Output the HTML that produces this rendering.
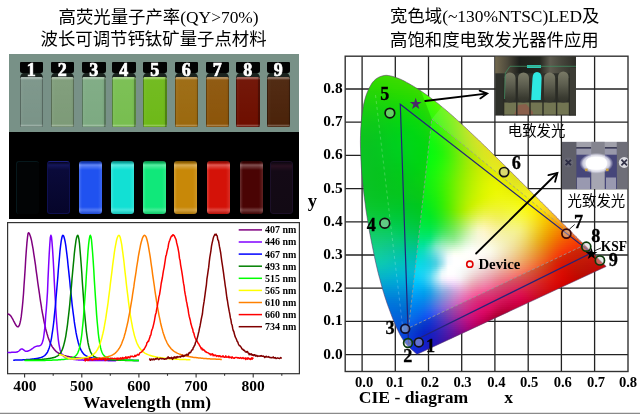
<!DOCTYPE html>
<html><head><meta charset="utf-8">
<style>
*{margin:0;padding:0;box-sizing:border-box}
html,body{width:640px;height:414px;overflow:hidden;background:#fff}
body{position:relative;font-family:"Liberation Serif","Noto Sans CJK SC",serif}
.t{position:absolute;white-space:nowrap;font-size:17.4px;line-height:20px;color:#000;font-family:"Liberation Serif","Noto Sans CJK SC",sans-serif}
#day{position:absolute;left:9px;top:54px;width:290px;height:77.6px;background:#789187}
#uv{position:absolute;left:9px;top:131.6px;width:290px;height:87.8px;background:#000}
.cap{position:absolute;top:8px;width:23.5px;height:11px;background:#030303;border-radius:1px 1px 2px 2px}
.neck{position:absolute;top:18px;width:23.5px;height:5.5px;background:#1a221e;border-radius:6px 6px 0 0}
.body{position:absolute;top:22.5px;width:23.5px;height:50px;border-radius:1.5px;background:linear-gradient(90deg,rgba(0,0,0,.3) 0,rgba(0,0,0,.3) 1.2px,rgba(255,255,255,.04) 1.2px,rgba(255,255,255,0) 4px,rgba(255,255,255,0) 20px,rgba(0,0,0,.05) 22px,rgba(0,0,0,.3) 22.3px),linear-gradient(180deg,rgba(255,255,255,.35) 0,rgba(255,255,255,.35) 1.3px,rgba(255,255,255,.04) 3px,rgba(255,255,255,0) 47px,rgba(255,255,255,.25) 48.5px,rgba(0,0,0,.15) 100%),var(--c)}
.num{position:absolute;top:6px;width:23.5px;text-align:center;color:#fff;font:bold 18px/20px "Liberation Serif",serif;-webkit-text-stroke:0.7px #fff}
.uvb{position:absolute;top:29.5px;width:23px;height:53px;border-radius:3px 3px 3px 3px;background:linear-gradient(180deg,rgba(0,0,0,.45) 0,rgba(0,0,0,.2) 2px,rgba(255,255,255,.3) 4px,rgba(255,255,255,0) 9px,rgba(255,255,255,0) 46px,rgba(255,255,255,.22) 49px,rgba(0,0,0,.15) 100%),linear-gradient(90deg,rgba(255,255,255,.18) 0,rgba(255,255,255,0) 3px,rgba(255,255,255,0) 19px,rgba(255,255,255,.12) 100%),var(--c)}
#spec{position:absolute;left:0;top:0}
#fill{position:absolute;left:358px;top:73px;width:251px;height:284px;clip-path:polygon(59.7px 281.0px,59.6px 281.0px,59.6px 281.0px,59.5px 281.0px,59.4px 281.0px,59.4px 281.0px,59.3px 281.0px,59.3px 281.1px,59.2px 281.1px,59.2px 281.1px,59.1px 281.1px,59.1px 281.1px,59.0px 281.0px,58.9px 281.0px,58.8px 281.0px,58.7px 280.9px,58.6px 280.8px,58.5px 280.8px,58.4px 280.7px,58.3px 280.7px,58.2px 280.6px,58.2px 280.5px,58.1px 280.5px,58.0px 280.4px,57.9px 280.3px,57.8px 280.3px,57.7px 280.2px,57.6px 280.1px,57.5px 280.0px,57.4px 279.9px,57.3px 279.8px,57.1px 279.7px,57.0px 279.5px,56.9px 279.4px,56.7px 279.3px,56.6px 279.1px,56.4px 279.0px,56.3px 278.8px,56.1px 278.7px,55.9px 278.5px,55.7px 278.4px,55.5px 278.2px,55.3px 278.0px,55.1px 277.8px,54.9px 277.6px,54.6px 277.4px,54.3px 277.2px,54.1px 277.0px,53.8px 276.7px,53.5px 276.5px,53.2px 276.2px,52.9px 275.9px,52.6px 275.7px,52.3px 275.4px,51.9px 275.0px,51.6px 274.7px,51.2px 274.3px,50.8px 274.0px,50.4px 273.6px,50.0px 273.1px,49.6px 272.7px,49.1px 272.2px,48.7px 271.7px,48.2px 271.2px,47.8px 270.6px,47.2px 270.0px,46.7px 269.3px,46.1px 268.4px,45.5px 267.6px,44.9px 266.6px,44.3px 265.6px,43.6px 264.5px,42.9px 263.2px,42.1px 261.9px,41.4px 260.5px,40.6px 259.0px,39.8px 257.3px,38.9px 255.5px,38.0px 253.5px,37.1px 251.3px,36.1px 249.0px,35.1px 246.6px,34.1px 244.0px,33.0px 241.1px,31.9px 238.1px,30.7px 234.8px,29.4px 231.3px,28.2px 227.7px,26.9px 223.8px,25.6px 219.6px,24.3px 215.2px,23.0px 210.5px,21.7px 205.6px,20.3px 200.4px,19.0px 195.0px,17.7px 189.4px,16.4px 183.5px,15.2px 177.4px,13.9px 171.0px,12.6px 164.4px,11.3px 157.7px,10.2px 150.8px,9.1px 144.0px,8.0px 137.1px,7.1px 130.0px,6.1px 122.9px,5.3px 115.7px,4.5px 108.7px,3.9px 101.8px,3.4px 95.0px,3.0px 88.2px,2.7px 81.6px,2.5px 75.1px,2.4px 68.7px,2.5px 62.7px,2.7px 56.8px,3.1px 51.0px,3.5px 45.5px,4.2px 40.2px,4.9px 35.2px,5.8px 30.6px,6.9px 26.3px,8.1px 22.3px,9.5px 18.7px,11.0px 15.3px,12.6px 12.4px,14.2px 9.8px,16.0px 7.7px,17.9px 6.0px,19.9px 4.7px,21.9px 3.7px,24.0px 3.0px,26.1px 2.5px,28.3px 2.3px,30.5px 2.5px,32.7px 2.9px,35.0px 3.5px,37.3px 4.3px,39.6px 5.1px,41.8px 5.9px,44.1px 7.0px,46.4px 8.1px,48.7px 9.4px,50.9px 10.6px,53.2px 11.9px,55.4px 13.2px,57.5px 14.5px,59.7px 15.8px,61.8px 17.2px,63.9px 18.6px,66.0px 20.1px,68.1px 21.5px,70.2px 23.0px,72.2px 24.5px,74.3px 26.1px,76.3px 27.6px,78.3px 29.2px,80.4px 30.8px,82.4px 32.5px,84.4px 34.2px,86.5px 35.9px,88.5px 37.6px,90.5px 39.3px,92.5px 41.1px,94.5px 42.8px,96.5px 44.6px,98.5px 46.4px,100.5px 48.2px,102.5px 50.1px,104.5px 51.9px,106.5px 53.7px,108.5px 55.6px,110.5px 57.5px,112.5px 59.4px,114.5px 61.3px,116.5px 63.2px,118.5px 65.1px,120.6px 67.0px,122.6px 69.0px,124.6px 70.9px,126.6px 72.8px,128.6px 74.8px,130.6px 76.7px,132.6px 78.7px,134.5px 80.6px,136.5px 82.6px,138.5px 84.6px,140.5px 86.5px,142.5px 88.5px,144.5px 90.4px,146.5px 92.4px,148.5px 94.3px,150.4px 96.3px,152.4px 98.2px,154.3px 100.2px,156.3px 102.1px,158.2px 104.0px,160.2px 106.0px,162.1px 107.9px,164.0px 109.8px,165.9px 111.7px,167.8px 113.6px,169.7px 115.5px,171.6px 117.3px,173.4px 119.2px,175.3px 121.0px,177.1px 122.8px,178.9px 124.6px,180.7px 126.4px,182.5px 128.2px,184.3px 130.0px,186.0px 131.7px,187.8px 133.4px,189.5px 135.2px,191.2px 136.8px,192.8px 138.5px,194.5px 140.1px,196.1px 141.7px,197.7px 143.3px,199.3px 144.9px,200.8px 146.5px,202.3px 148.0px,203.8px 149.4px,205.2px 150.9px,206.6px 152.3px,208.0px 153.6px,209.3px 154.9px,210.6px 156.2px,211.9px 157.5px,213.2px 158.8px,214.4px 160.0px,215.6px 161.2px,216.8px 162.4px,217.9px 163.5px,219.0px 164.6px,220.1px 165.7px,221.1px 166.7px,222.1px 167.7px,223.1px 168.6px,224.0px 169.5px,224.9px 170.4px,225.8px 171.3px,226.7px 172.2px,227.5px 173.0px,228.3px 173.8px,229.0px 174.5px,229.7px 175.2px,230.4px 175.9px,231.1px 176.6px,231.8px 177.3px,232.4px 177.9px,233.0px 178.5px,233.6px 179.1px,234.1px 179.6px,234.7px 180.2px,235.2px 180.7px,235.7px 181.2px,236.2px 181.6px,236.6px 182.1px,237.1px 182.5px,237.5px 183.0px,237.9px 183.4px,238.3px 183.8px,238.7px 184.2px,239.1px 184.5px,239.5px 184.9px,239.8px 185.3px,240.2px 185.6px,240.5px 186.0px,240.8px 186.3px,241.1px 186.6px,241.4px 186.9px,241.7px 187.2px,242.0px 187.5px,242.3px 187.8px,242.6px 188.0px,242.8px 188.3px,243.1px 188.5px,243.3px 188.8px,243.5px 189.0px,243.8px 189.2px,244.0px 189.4px,244.2px 189.6px,244.4px 189.8px,244.5px 190.0px,244.7px 190.1px,244.9px 190.3px,245.0px 190.4px,245.2px 190.6px,245.3px 190.7px,245.5px 190.9px,245.6px 191.0px,245.7px 191.1px,245.8px 191.3px,245.9px 191.4px,246.1px 191.5px,246.2px 191.6px,246.3px 191.7px,246.3px 191.8px,246.4px 191.9px,246.5px 191.9px,246.6px 192.0px,246.7px 192.1px,246.7px 192.1px,246.8px 192.2px,246.8px 192.3px,246.9px 192.3px,246.9px 192.4px,247.0px 192.4px,247.0px 192.5px,247.1px 192.5px,247.1px 192.6px,247.2px 192.6px,247.3px 192.7px,247.3px 192.8px,247.4px 192.8px,247.5px 192.9px,247.6px 193.0px,247.7px 193.1px,247.7px 193.2px,247.8px 193.2px,247.9px 193.3px,248.0px 193.4px,248.0px 193.5px,248.1px 193.5px);display:flex;flex-direction:column}
#fill i{display:block;height:2px;flex:none}
#cie{position:absolute;left:0;top:0}
.ins{position:absolute;overflow:hidden}
</style></head><body>
<div class="t" style="left:58.5px;top:6.5px">高荧光量子产率(QY&gt;70%)</div>
<div class="t" style="left:40.5px;top:29px">波长可调节钙钛矿量子点材料</div>
<div class="t" style="left:390px;top:6.2px">宽色域(~130%NTSC)LED及</div>
<div class="t" style="left:390px;top:29.8px">高饱和度电致发光器件应用</div>

<div id="day">
 <div class="neck" style="left:10.5px"></div><div class="body" style="left:10.5px;--c:#7a9488"></div><div class="cap" style="left:10.5px"></div>
 <div class="neck" style="left:41.5px"></div><div class="body" style="left:41.5px;--c:#7d9b78"></div><div class="cap" style="left:41.5px"></div>
 <div class="neck" style="left:73px"></div><div class="body" style="left:73px;--c:#7daa82"></div><div class="cap" style="left:73px"></div>
 <div class="neck" style="left:103px"></div><div class="body" style="left:103px;--c:#78be50"></div><div class="cap" style="left:103px"></div>
 <div class="neck" style="left:134px"></div><div class="body" style="left:134px;--c:#6eb919"></div><div class="cap" style="left:134px"></div>
 <div class="neck" style="left:165.5px"></div><div class="body" style="left:165.5px;--c:#9b690f"></div><div class="cap" style="left:165.5px"></div>
 <div class="neck" style="left:196.5px"></div><div class="body" style="left:196.5px;--c:#8c550a"></div><div class="cap" style="left:196.5px"></div>
 <div class="neck" style="left:227px"></div><div class="body" style="left:227px;--c:#6e0f00"></div><div class="cap" style="left:227px"></div>
 <div class="neck" style="left:257.5px"></div><div class="body" style="left:257.5px;--c:#4b230a"></div><div class="cap" style="left:257.5px"></div>
 <div class="num" style="left:10.5px">1</div> <div class="num" style="left:41.5px">2</div> <div class="num" style="left:73px">3</div> <div class="num" style="left:103px">4</div> <div class="num" style="left:134px">5</div> <div class="num" style="left:165.5px">6</div> <div class="num" style="left:196.5px">7</div> <div class="num" style="left:227px">8</div> <div class="num" style="left:257.5px">9</div>
</div>

<div id="uv">
 <div class="uvb" style="left:7px;background:#020405;border:1px solid #06181c;border-width:1px 0 0 1px"></div>
 <div class="uvb" style="left:38px;background:linear-gradient(180deg,#05041a 0,#14165a 3px,#0a0a3a 8px,#06052a 100%);border:1px solid #0e1050;border-top-color:#1c2080"></div>
 <div class="uvb" style="left:70px;--c:#2052f0"></div>
 <div class="uvb" style="left:101.5px;--c:#12e0d4"></div>
 <div class="uvb" style="left:133.5px;--c:#10e87a"></div>
 <div class="uvb" style="left:165px;--c:#c88808"></div>
 <div class="uvb" style="left:198px;--c:#d41208"></div>
 <div class="uvb" style="left:231px;--c:#4a0404"></div>
 <div class="uvb" style="left:261px;background:linear-gradient(180deg,#0c0610 0,#281020 4px,#140a16 9px,#120a14 100%);border:1px solid #1c1028"></div>
</div>

<svg id="spec" width="300" height="414" viewBox="0 0 300 414">
 <rect x="7.6" y="222.6" width="291.8" height="151.1" fill="none" stroke="#333" stroke-width="1.2"/>
 <g stroke="#333" stroke-width="1.1">
  <line x1="24.6" x2="24.6" y1="373.7" y2="377.5"/><line x1="81.8" x2="81.8" y1="373.7" y2="377.5"/>
  <line x1="138.9" x2="138.9" y1="373.7" y2="377.5"/><line x1="196.1" x2="196.1" y1="373.7" y2="377.5"/>
  <line x1="253.2" x2="253.2" y1="373.7" y2="377.5"/>
  <line x1="53.2" x2="53.2" y1="373.7" y2="375.8"/><line x1="110.3" x2="110.3" y1="373.7" y2="375.8"/>
  <line x1="167.5" x2="167.5" y1="373.7" y2="375.8"/><line x1="224.6" x2="224.6" y1="373.7" y2="375.8"/>
  <line x1="281.8" x2="281.8" y1="373.7" y2="375.8"/>
 </g>
 <g fill="none" stroke-width="1.5" stroke-linejoin="round">
<path d="M7.5,314.1 L8.0,314.0 L8.6,314.2 L9.2,314.4 L9.7,314.9 L10.3,315.4 L10.9,316.1 L11.5,317.0 L12.0,317.9 L12.6,318.9 L13.2,320.0 L13.7,321.1 L14.3,322.2 L14.9,323.3 L15.5,324.4 L16.0,325.3 L16.6,326.0 L17.2,326.6 L17.7,326.8 L18.3,326.7 L18.9,326.0 L19.5,324.9 L20.0,323.0 L20.6,320.4 L21.2,316.9 L21.7,312.6 L22.3,307.3 L22.9,301.0 L23.5,293.8 L24.0,285.8 L24.6,277.2 L25.2,268.2 L25.7,259.3 L26.3,250.7 L26.9,243.2 L27.5,237.4 L28.0,233.7 L28.6,232.7 L29.2,233.3 L29.7,234.4 L30.3,236.0 L30.9,238.0 L31.5,240.4 L32.0,243.2 L32.6,246.3 L33.2,249.7 L33.7,253.3 L34.3,257.1 L34.9,261.1 L35.5,265.2 L36.0,269.4 L36.6,273.6 L37.2,277.8 L37.7,282.0 L38.3,286.1 L38.9,290.2 L39.5,294.2 L40.0,298.0 L40.6,301.8 L41.2,305.4 L41.7,308.9 L42.3,312.3 L42.9,315.4 L43.5,318.5 L44.0,321.3 L44.6,324.0 L45.2,326.6 L45.7,329.0 L46.3,331.2 L46.9,333.3 L47.5,335.2 L48.0,337.0 L48.6,338.7 L49.2,340.3 L49.8,341.7 L50.3,343.0 L50.9,344.2 L51.5,345.3 L52.0,346.3 L52.6,347.2 L53.2,348.0 L53.8,348.8 L54.3,349.5 L54.9,350.1 L55.5,350.7 L56.0,351.3 L56.6,351.8 L57.2,352.2 L57.8,352.6 L58.3,353.0 L58.9,353.3 L59.5,353.6 L60.0,353.9 L60.6,354.2 L61.2,354.5 L61.8,354.7 L62.3,354.9 L62.9,355.1 L63.5,355.3 L64.0,355.5 L64.6,355.7 L65.2,355.8 L65.8,356.0 L66.3,356.1 L66.9,356.2 L67.5,356.4 L68.0,356.5 L68.6,356.6 L69.2,356.7 L69.8,356.8 L70.3,356.9 L70.9,357.0 L71.5,357.1 L72.0,357.2 L72.6,357.3 L73.2,357.4 L73.8,357.5 L74.3,357.6 L74.9,357.7 L75.5,357.7 L76.0,357.8 L76.6,357.9 L77.2,357.9 L77.8,358.0 L78.3,358.1 L78.9,358.1 L79.5,358.2 L80.0,358.2 L80.6,358.3 L81.2,358.3 L81.8,358.4 L82.3,358.5 L82.9,358.5 L83.5,358.5 L84.0,358.6 L84.6,358.6 L85.2,358.7 L85.8,358.7 L86.3,358.8 L86.9,358.8 L87.5,358.8 L88.0,358.9 L88.6,358.9 L89.2,359.0 L89.8,359.0 L90.3,359.0 L90.9,359.1 L91.5,359.1 L92.0,359.1 L92.6,359.2 L93.2,359.2" stroke="#800080"/>
<path d="M7.5,352.4 L8.0,352.4 L8.6,352.4 L9.2,352.4 L9.7,352.4 L10.3,352.4 L10.9,352.4 L11.5,352.3 L12.0,352.3 L12.6,352.3 L13.2,352.3 L13.7,352.3 L14.3,352.3 L14.9,352.3 L15.5,352.2 L16.0,352.2 L16.6,352.1 L17.2,352.0 L17.7,351.7 L18.3,351.4 L18.9,351.0 L19.5,350.5 L20.0,349.9 L20.6,349.4 L21.2,349.0 L21.7,348.9 L22.3,349.0 L22.9,349.3 L23.5,349.7 L24.0,350.2 L24.6,350.7 L25.2,351.0 L25.7,351.2 L26.3,351.3 L26.9,351.3 L27.5,351.2 L28.0,351.0 L28.6,350.8 L29.2,350.6 L29.7,350.3 L30.3,350.0 L30.9,349.6 L31.5,349.2 L32.0,348.8 L32.6,348.4 L33.2,348.0 L33.7,347.6 L34.3,347.2 L34.9,346.9 L35.5,346.6 L36.0,346.4 L36.6,346.2 L37.2,346.1 L37.7,346.0 L38.3,346.0 L38.9,345.9 L39.5,345.8 L40.0,345.6 L40.6,345.3 L41.2,344.7 L41.7,343.9 L42.3,342.6 L42.9,340.8 L43.5,338.1 L44.0,334.5 L44.6,329.7 L45.2,323.6 L45.7,315.8 L46.3,309.3 L46.9,301.2 L47.5,291.9 L48.0,279.1 L48.6,266.2 L49.2,254.2 L49.8,244.3 L50.3,237.6 L50.9,235.3 L51.5,237.1 L52.0,242.1 L52.6,249.9 L53.2,259.6 L53.8,270.5 L54.3,281.7 L54.9,292.8 L55.5,303.2 L56.0,312.8 L56.6,321.3 L57.2,328.6 L57.8,334.7 L58.3,339.7 L58.9,343.8 L59.5,347.0 L60.0,349.5 L60.6,351.4 L61.2,352.9 L61.8,354.0 L62.3,354.9 L62.9,355.6 L63.5,356.1 L64.0,356.6 L64.6,356.9 L65.2,357.2 L65.8,357.5 L66.3,357.7 L66.9,358.0 L67.5,358.1 L68.0,358.3 L68.6,358.5 L69.2,358.6 L69.8,358.7 L70.3,358.9 L70.9,359.0 L71.5,359.1 L72.0,359.2 L72.6,359.3 L73.2,359.3 L73.8,359.4 L74.3,359.5 L74.9,359.5 L75.5,359.6 L76.0,359.7 L76.6,359.7 L77.2,359.8 L77.8,359.8 L78.3,359.9 L78.9,359.9 L79.5,359.9 L80.0,360.0 L80.6,360.0 L81.2,360.0 L81.8,360.1 L82.3,360.1 L82.9,360.1 L83.5,360.2 L84.0,360.2 L84.6,360.2 L85.2,360.2 L85.8,360.2 L86.3,360.3 L86.9,360.3 L87.5,360.3 L88.0,360.3 L88.6,360.3 L89.2,360.4 L89.8,360.4 L90.3,360.4 L90.9,360.4 L91.5,360.4 L92.0,360.4 L92.6,360.4 L93.2,360.5 L93.8,360.5 L94.3,360.5 L94.9,360.5 L95.5,360.5 L96.1,360.5 L96.6,360.5 L97.2,360.5 L97.8,360.5 L98.3,360.5 L98.9,360.6 L99.5,360.6 L100.1,360.6 L100.6,360.6 L101.2,360.6 L101.8,360.6 L102.3,360.6 L102.9,360.6 L103.5,360.6 L104.1,360.6 L104.6,360.6 L105.2,360.6 L105.8,360.6 L106.3,360.6 L106.9,360.6 L107.5,360.6 L108.1,360.7 L108.6,360.7 L109.2,360.7 L109.8,360.7 L110.3,360.7 L110.9,360.7 L111.5,360.7 L112.1,360.7 L112.6,360.7 L113.2,360.7 L113.8,360.7 L114.3,360.7 L114.9,360.7 L115.5,360.7 L116.1,360.7" stroke="#8000ff"/>
<path d="M13.2,360.2 L13.7,360.2 L14.3,360.2 L14.9,360.1 L15.5,360.1 L16.0,360.1 L16.6,360.1 L17.2,360.1 L17.7,360.1 L18.3,360.0 L18.9,360.0 L19.5,360.0 L20.0,360.0 L20.6,359.9 L21.2,359.9 L21.7,359.9 L22.3,359.9 L22.9,359.8 L23.5,359.8 L24.0,359.8 L24.6,359.7 L25.2,359.7 L25.7,359.7 L26.3,359.6 L26.9,359.6 L27.5,359.5 L28.0,359.5 L28.6,359.5 L29.2,359.4 L29.7,359.4 L30.3,359.3 L30.9,359.2 L31.5,359.2 L32.0,359.1 L32.6,359.1 L33.2,359.0 L33.7,358.9 L34.3,358.8 L34.9,358.8 L35.5,358.7 L36.0,358.6 L36.6,358.5 L37.2,358.4 L37.7,358.3 L38.3,358.2 L38.9,358.0 L39.5,357.9 L40.0,357.7 L40.6,357.6 L41.2,357.4 L41.7,357.2 L42.3,357.0 L42.9,356.7 L43.5,356.4 L44.0,356.0 L44.6,355.6 L45.2,355.1 L45.7,354.5 L46.3,353.9 L46.9,353.0 L47.5,352.1 L48.0,350.9 L48.6,349.5 L49.2,347.9 L49.8,345.9 L50.3,343.7 L50.9,341.1 L51.5,338.1 L52.0,334.7 L52.6,330.8 L53.2,326.5 L53.8,321.7 L54.3,316.4 L54.9,310.7 L55.5,304.6 L56.0,298.1 L56.6,291.3 L57.2,284.3 L57.8,277.3 L58.3,270.2 L58.9,263.3 L59.5,256.8 L60.0,250.8 L60.6,245.6 L61.2,241.2 L61.8,238.0 L62.3,236.0 L62.9,235.3 L63.5,235.7 L64.0,237.0 L64.6,239.2 L65.2,242.0 L65.8,245.6 L66.3,249.7 L66.9,254.4 L67.5,259.4 L68.0,264.7 L68.6,270.2 L69.2,275.8 L69.8,281.5 L70.3,287.1 L70.9,292.7 L71.5,298.1 L72.0,303.3 L72.6,308.3 L73.2,313.1 L73.8,317.5 L74.3,321.7 L74.9,325.6 L75.5,329.1 L76.0,332.4 L76.6,335.4 L77.2,338.1 L77.8,340.5 L78.3,342.7 L78.9,344.6 L79.5,346.4 L80.0,347.9 L80.6,349.2 L81.2,350.4 L81.8,351.4 L82.3,352.3 L82.9,353.0 L83.5,353.7 L84.0,354.3 L84.6,354.8 L85.2,355.2 L85.8,355.6 L86.3,356.0 L86.9,356.3 L87.5,356.5 L88.0,356.8 L88.6,357.0 L89.2,357.1 L89.8,357.3 L90.3,357.5 L90.9,357.6 L91.5,357.7 L92.0,357.9 L92.6,358.0 L93.2,358.1 L93.8,358.2 L94.3,358.3 L94.9,358.4 L95.5,358.5 L96.1,358.5 L96.6,358.6 L97.2,358.7 L97.8,358.8 L98.3,358.8 L98.9,358.9 L99.5,358.9 L100.1,359.0 L100.6,359.0 L101.2,359.1 L101.8,359.2 L102.3,359.2 L102.9,359.2 L103.5,359.3 L104.1,359.3 L104.6,359.4 L105.2,359.4 L105.8,359.5 L106.3,359.5 L106.9,359.5 L107.5,359.6 L108.1,359.6 L108.6,359.6 L109.2,359.7 L109.8,359.7 L110.3,359.7 L110.9,359.7 L111.5,359.8 L112.1,359.8 L112.6,359.8 L113.2,359.8 L113.8,359.9 L114.3,359.9 L114.9,359.9 L115.5,359.9 L116.1,359.9 L116.6,360.0 L117.2,360.0 L117.8,360.0 L118.3,360.0 L118.9,360.0 L119.5,360.1 L120.1,360.1 L120.6,360.1 L121.2,360.1 L121.8,360.1 L122.3,360.1 L122.9,360.1 L123.5,360.2 L124.1,360.2 L124.6,360.2 L125.2,360.2 L125.8,360.2 L126.3,360.2 L126.9,360.2 L127.5,360.2 L128.1,360.3 L128.6,360.3 L129.2,360.3 L129.8,360.3 L130.3,360.3 L130.9,360.3 L131.5,360.3 L132.1,360.3 L132.6,360.3 L133.2,360.3 L133.8,360.4 L134.3,360.4 L134.9,360.4 L135.5,360.4 L136.1,360.4 L136.6,360.4 L137.2,360.4 L137.8,360.4 L138.3,360.4 L138.9,360.4" stroke="#0000ff"/>
<path d="M24.6,360.2 L25.2,360.2 L25.7,360.1 L26.3,360.1 L26.9,360.1 L27.5,360.1 L28.0,360.1 L28.6,360.1 L29.2,360.0 L29.7,360.0 L30.3,360.0 L30.9,360.0 L31.5,360.0 L32.0,359.9 L32.6,359.9 L33.2,359.9 L33.7,359.9 L34.3,359.8 L34.9,359.8 L35.5,359.8 L36.0,359.7 L36.6,359.7 L37.2,359.7 L37.7,359.6 L38.3,359.6 L38.9,359.6 L39.5,359.5 L40.0,359.5 L40.6,359.5 L41.2,359.4 L41.7,359.4 L42.3,359.3 L42.9,359.3 L43.5,359.2 L44.0,359.2 L44.6,359.1 L45.2,359.0 L45.7,359.0 L46.3,358.9 L46.9,358.8 L47.5,358.8 L48.0,358.7 L48.6,358.6 L49.2,358.5 L49.8,358.4 L50.3,358.3 L50.9,358.2 L51.5,358.1 L52.0,358.0 L52.6,357.8 L53.2,357.7 L53.8,357.5 L54.3,357.4 L54.9,357.2 L55.5,357.0 L56.0,356.7 L56.6,356.4 L57.2,356.1 L57.8,355.8 L58.3,355.3 L58.9,354.8 L59.5,354.2 L60.0,353.6 L60.6,352.8 L61.2,351.8 L61.8,350.7 L62.3,349.4 L62.9,347.9 L63.5,346.1 L64.0,344.1 L64.6,341.7 L65.2,339.1 L65.8,336.1 L66.3,332.7 L66.9,328.9 L67.5,324.7 L68.0,320.1 L68.6,315.1 L69.2,309.8 L69.8,304.1 L70.3,298.1 L70.9,291.8 L71.5,285.4 L72.0,278.9 L72.6,272.4 L73.2,265.9 L73.8,259.8 L74.3,254.0 L74.9,248.7 L75.5,244.1 L76.0,240.4 L76.6,237.6 L77.2,235.9 L77.8,235.3 L78.3,236.3 L78.9,239.2 L79.5,243.7 L80.0,249.7 L80.6,256.8 L81.2,264.7 L81.8,273.0 L82.3,281.5 L82.9,289.9 L83.5,298.1 L84.0,305.8 L84.6,313.1 L85.2,319.6 L85.8,325.6 L86.3,330.8 L86.9,335.4 L87.5,339.4 L88.0,342.7 L88.6,345.5 L89.2,347.9 L89.8,349.8 L90.3,351.4 L90.9,352.7 L91.5,353.7 L92.0,354.5 L92.6,355.2 L93.2,355.8 L93.8,356.3 L94.3,356.6 L94.9,357.0 L95.5,357.2 L96.1,357.5 L96.6,357.7 L97.2,357.9 L97.8,358.0 L98.3,358.2 L98.9,358.3 L99.5,358.5 L100.1,358.6 L100.6,358.7 L101.2,358.8 L101.8,358.9 L102.3,359.0 L102.9,359.0 L103.5,359.1 L104.1,359.2 L104.6,359.3 L105.2,359.3 L105.8,359.4 L106.3,359.5 L106.9,359.5 L107.5,359.6 L108.1,359.6 L108.6,359.7 L109.2,359.7 L109.8,359.7 L110.3,359.8 L110.9,359.8 L111.5,359.8 L112.1,359.9 L112.6,359.9 L113.2,359.9 L113.8,360.0 L114.3,360.0 L114.9,360.0 L115.5,360.1 L116.1,360.1 L116.6,360.1 L117.2,360.1 L117.8,360.1 L118.3,360.2 L118.9,360.2 L119.5,360.2 L120.1,360.2 L120.6,360.2 L121.2,360.3 L121.8,360.3 L122.3,360.3 L122.9,360.3 L123.5,360.3 L124.1,360.3 L124.6,360.3 L125.2,360.4 L125.8,360.4 L126.3,360.4 L126.9,360.4 L127.5,360.4 L128.1,360.4 L128.6,360.4 L129.2,360.4 L129.8,360.5 L130.3,360.5 L130.9,360.5 L131.5,360.5 L132.1,360.5 L132.6,360.5 L133.2,360.5 L133.8,360.5 L134.3,360.5 L134.9,360.5 L135.5,360.5 L136.1,360.5 L136.6,360.5 L137.2,360.6 L137.8,360.6 L138.3,360.6 L138.9,360.6" stroke="#008000"/>
<path d="M24.6,360.6 L25.2,360.6 L25.7,360.6 L26.3,360.6 L26.9,360.6 L27.5,360.6 L28.0,360.6 L28.6,360.6 L29.2,360.6 L29.7,360.6 L30.3,360.6 L30.9,360.6 L31.5,360.6 L32.0,360.6 L32.6,360.6 L33.2,360.6 L33.7,360.6 L34.3,360.5 L34.9,360.5 L35.5,360.5 L36.0,360.5 L36.6,360.5 L37.2,360.5 L37.7,360.5 L38.3,360.5 L38.9,360.5 L39.5,360.5 L40.0,360.5 L40.6,360.5 L41.2,360.4 L41.7,360.4 L42.3,360.4 L42.9,360.4 L43.5,360.4 L44.0,360.4 L44.6,360.4 L45.2,360.4 L45.7,360.3 L46.3,360.3 L46.9,360.3 L47.5,360.3 L48.0,360.3 L48.6,360.3 L49.2,360.3 L49.8,360.2 L50.3,360.2 L50.9,360.2 L51.5,360.2 L52.0,360.2 L52.6,360.1 L53.2,360.1 L53.8,360.1 L54.3,360.1 L54.9,360.0 L55.5,360.0 L56.0,360.0 L56.6,359.9 L57.2,359.9 L57.8,359.9 L58.3,359.8 L58.9,359.8 L59.5,359.8 L60.0,359.7 L60.6,359.7 L61.2,359.6 L61.8,359.6 L62.3,359.5 L62.9,359.5 L63.5,359.4 L64.0,359.4 L64.6,359.3 L65.2,359.2 L65.8,359.1 L66.3,359.1 L66.9,359.0 L67.5,358.9 L68.0,358.8 L68.6,358.7 L69.2,358.6 L69.8,358.4 L70.3,358.3 L70.9,358.2 L71.5,358.0 L72.0,357.8 L72.6,357.6 L73.2,357.4 L73.8,357.1 L74.3,356.8 L74.9,356.4 L75.5,356.0 L76.0,355.4 L76.6,354.7 L77.2,353.9 L77.8,352.8 L78.3,351.5 L78.9,349.9 L79.5,347.9 L80.0,345.4 L80.6,342.4 L81.2,338.8 L81.8,334.5 L82.3,329.5 L82.9,323.8 L83.5,317.3 L84.0,310.1 L84.6,302.2 L85.2,293.8 L85.8,285.1 L86.3,276.1 L86.9,267.3 L87.5,258.8 L88.0,251.1 L88.6,244.6 L89.2,239.6 L89.8,236.4 L90.3,235.3 L90.9,236.5 L91.5,240.0 L92.0,245.6 L92.6,252.8 L93.2,261.1 L93.8,270.2 L94.3,279.6 L94.9,289.0 L95.5,298.1 L96.1,306.7 L96.6,314.6 L97.2,321.7 L97.8,328.0 L98.3,333.5 L98.9,338.1 L99.5,342.0 L100.1,345.2 L100.6,347.9 L101.2,350.0 L101.8,351.7 L102.3,353.0 L102.9,354.1 L103.5,354.9 L104.1,355.6 L104.6,356.2 L105.2,356.6 L105.8,357.0 L106.3,357.3 L106.9,357.5 L107.5,357.7 L108.1,357.9 L108.6,358.1 L109.2,358.3 L109.8,358.4 L110.3,358.6 L110.9,358.7 L111.5,358.8 L112.1,358.9 L112.6,359.0 L113.2,359.1 L113.8,359.2 L114.3,359.2 L114.9,359.3 L115.5,359.4 L116.1,359.5 L116.6,359.5 L117.2,359.6 L117.8,359.6 L118.3,359.7 L118.9,359.7 L119.5,359.8 L120.1,359.8 L120.6,359.8 L121.2,359.9 L121.8,359.9 L122.3,360.0 L122.9,360.0 L123.5,360.0 L124.1,360.0 L124.6,360.1 L125.2,360.1 L125.8,360.1 L126.3,360.1 L126.9,360.2 L127.5,360.2 L128.1,360.2 L128.6,360.2 L129.2,360.3 L129.8,360.3 L130.3,360.3 L130.9,360.3 L131.5,360.3 L132.1,360.3 L132.6,360.4 L133.2,360.4 L133.8,360.4 L134.3,360.4 L134.9,360.4 L135.5,360.4 L136.1,360.4 L136.6,360.4 L137.2,360.5 L137.8,360.5 L138.3,360.5 L138.9,360.5" stroke="#00ff00"/>
<path d="M58.9,354.9 L59.5,354.8 L60.0,354.8 L60.6,354.8 L61.2,354.9 L61.8,355.0 L62.3,355.2 L62.9,355.4 L63.5,355.7 L64.0,356.0 L64.6,356.4 L65.2,356.7 L65.8,357.0 L66.3,357.3 L66.9,357.6 L67.5,357.9 L68.0,358.1 L68.6,358.3 L69.2,358.5 L69.8,358.6 L70.3,358.8 L70.9,358.8 L71.5,358.9 L72.0,358.9 L72.6,359.0 L73.2,359.0 L73.8,358.9 L74.3,358.9 L74.9,358.9 L75.5,358.9 L76.0,358.8 L76.6,358.8 L77.2,358.7 L77.8,358.7 L78.3,358.6 L78.9,358.6 L79.5,358.5 L80.0,358.4 L80.6,358.4 L81.2,358.3 L81.8,358.2 L82.3,358.1 L82.9,358.0 L83.5,357.9 L84.0,357.9 L84.6,357.7 L85.2,357.6 L85.8,357.5 L86.3,357.4 L86.9,357.3 L87.5,357.1 L88.0,357.0 L88.6,356.8 L89.2,356.6 L89.8,356.4 L90.3,356.2 L90.9,355.9 L91.5,355.6 L92.0,355.3 L92.6,354.9 L93.2,354.5 L93.8,354.1 L94.3,353.6 L94.9,353.0 L95.5,352.4 L96.1,351.7 L96.6,350.9 L97.2,350.0 L97.8,349.0 L98.3,347.9 L98.9,346.6 L99.5,345.2 L100.1,343.7 L100.6,342.0 L101.2,340.1 L101.8,338.1 L102.3,335.9 L102.9,333.5 L103.5,330.8 L104.1,328.0 L104.6,324.9 L105.2,321.7 L105.8,318.2 L106.3,314.6 L106.9,310.7 L107.5,306.7 L108.1,302.5 L108.6,298.1 L109.2,293.6 L109.8,289.0 L110.3,284.3 L110.9,279.6 L111.5,274.9 L112.1,270.2 L112.6,265.6 L113.2,261.1 L113.8,256.8 L114.3,252.8 L114.9,249.0 L115.5,245.6 L116.1,242.6 L116.6,240.0 L117.2,238.0 L117.8,236.5 L118.3,235.6 L118.9,235.3 L119.5,235.7 L120.1,237.0 L120.6,239.0 L121.2,241.8 L121.8,245.1 L122.3,249.1 L122.9,253.4 L123.5,258.1 L124.1,263.0 L124.6,268.1 L125.2,273.3 L125.8,278.4 L126.3,283.5 L126.9,288.5 L127.5,293.4 L128.1,298.1 L128.6,302.6 L129.2,306.9 L129.8,311.0 L130.3,314.8 L130.9,318.4 L131.5,321.8 L132.1,324.9 L132.6,327.8 L133.2,330.4 L133.8,332.9 L134.3,335.1 L134.9,337.1 L135.5,339.0 L136.1,340.7 L136.6,342.2 L137.2,343.6 L137.8,344.8 L138.3,345.9 L138.9,346.9 L139.5,347.8 L140.1,348.6 L140.6,349.4 L141.2,350.0 L141.8,350.6 L142.3,351.2 L142.9,351.7 L143.5,352.1 L144.1,352.5 L144.6,352.9 L145.2,353.3 L145.8,353.6 L146.4,353.9 L146.9,354.2 L147.5,354.4 L148.1,354.7 L148.6,354.9 L149.2,355.1 L149.8,355.3 L150.4,355.5 L150.9,355.7 L151.5,355.8 L152.1,356.0 L152.6,356.2 L153.2,356.3 L153.8,356.5 L154.4,356.6 L154.9,356.7 L155.5,356.8 L156.1,357.0 L156.6,357.1 L157.2,357.2 L157.8,357.3 L158.4,357.4 L158.9,357.5 L159.5,357.6 L160.1,357.6 L160.6,357.7 L161.2,357.8 L161.8,357.9 L162.4,358.0 L162.9,358.0 L163.5,358.1 L164.1,358.2 L164.6,358.2 L165.2,358.3 L165.8,358.4 L166.4,358.4 L166.9,358.5 L167.5,358.5 L168.1,358.6 L168.6,358.6 L169.2,358.7 L169.8,358.7 L170.4,358.8 L170.9,358.8 L171.5,358.9 L172.1,358.9 L172.6,359.0 L173.2,359.0 L173.8,359.0 L174.4,359.1 L174.9,359.1 L175.5,359.1 L176.1,359.2 L176.6,359.2 L177.2,359.2 L177.8,359.3 L178.4,359.3 L178.9,359.3 L179.5,359.4 L180.1,359.4 L180.6,359.4 L181.2,359.4 L181.8,359.5 L182.4,359.5 L182.9,359.5 L183.5,359.5 L184.1,359.6 L184.6,359.6 L185.2,359.6 L185.8,359.6 L186.4,359.7 L186.9,359.7 L187.5,359.7 L188.1,359.7 L188.6,359.7 L189.2,359.8 L189.8,359.8 L190.4,359.8" stroke="#ffff00"/>
<path d="M87.5,359.2 L88.0,359.1 L88.6,359.1 L89.2,359.1 L89.8,359.0 L90.3,359.0 L90.9,358.9 L91.5,358.9 L92.0,358.9 L92.6,358.8 L93.2,358.8 L93.8,358.7 L94.3,358.7 L94.9,358.6 L95.5,358.6 L96.1,358.5 L96.6,358.5 L97.2,358.4 L97.8,358.4 L98.3,358.3 L98.9,358.2 L99.5,358.2 L100.1,358.1 L100.6,358.0 L101.2,358.0 L101.8,357.9 L102.3,357.8 L102.9,357.7 L103.5,357.6 L104.1,357.5 L104.6,357.4 L105.2,357.3 L105.8,357.2 L106.3,357.1 L106.9,357.0 L107.5,356.8 L108.1,356.7 L108.6,356.5 L109.2,356.3 L109.8,356.1 L110.3,355.9 L110.9,355.7 L111.5,355.4 L112.1,355.2 L112.6,354.9 L113.2,354.5 L113.8,354.2 L114.3,353.8 L114.9,353.4 L115.5,352.9 L116.1,352.3 L116.6,351.8 L117.2,351.1 L117.8,350.4 L118.3,349.6 L118.9,348.8 L119.5,347.9 L120.1,346.9 L120.6,345.8 L121.2,344.6 L121.8,343.3 L122.3,341.8 L122.9,340.3 L123.5,338.7 L124.1,336.9 L124.6,335.0 L125.2,333.0 L125.8,330.8 L126.3,328.5 L126.9,326.1 L127.5,323.5 L128.1,320.8 L128.6,317.9 L129.2,314.9 L129.8,311.8 L130.3,308.5 L130.9,305.2 L131.5,301.7 L132.1,298.1 L132.6,294.4 L133.2,290.7 L133.8,286.9 L134.3,283.0 L134.9,279.2 L135.5,275.3 L136.1,271.5 L136.6,267.7 L137.2,264.0 L137.8,260.3 L138.3,256.8 L138.9,253.5 L139.5,250.3 L140.1,247.4 L140.6,244.7 L141.2,242.3 L141.8,240.2 L142.3,238.5 L142.9,237.1 L143.5,236.1 L144.1,235.5 L144.6,235.3 L145.2,235.6 L145.8,236.4 L146.4,237.7 L146.9,239.5 L147.5,241.8 L148.1,244.4 L148.6,247.4 L149.2,250.8 L149.8,254.3 L150.4,258.1 L150.9,262.0 L151.5,266.1 L152.1,270.2 L152.6,274.3 L153.2,278.4 L153.8,282.5 L154.4,286.5 L154.9,290.5 L155.5,294.4 L156.1,298.1 L156.6,301.7 L157.2,305.2 L157.8,308.6 L158.4,311.8 L158.9,314.8 L159.5,317.7 L160.1,320.4 L160.6,323.0 L161.2,325.5 L161.8,327.8 L162.4,329.9 L162.9,331.9 L163.5,333.8 L164.1,335.5 L164.6,337.1 L165.2,338.6 L165.8,340.0 L166.4,341.3 L166.9,342.5 L167.5,343.6 L168.1,344.6 L168.6,345.5 L169.2,346.3 L169.8,347.1 L170.4,347.8 L170.9,348.5 L171.5,349.1 L172.1,349.6 L172.6,350.2 L173.2,350.6 L173.8,351.1 L174.4,351.5 L174.9,351.9 L175.5,352.2 L176.1,352.5 L176.6,352.8 L177.2,353.1 L177.8,353.4 L178.4,353.6 L178.9,353.9 L179.5,354.1 L180.1,354.3 L180.6,354.5 L181.2,354.7 L181.8,354.9 L182.4,355.1 L182.9,355.2 L183.5,355.4 L184.1,355.5 L184.6,355.7 L185.2,355.8 L185.8,355.9 L186.4,356.1 L186.9,356.2 L187.5,356.3 L188.1,356.4 L188.6,356.5 L189.2,356.6 L189.8,356.7 L190.4,356.8 L190.9,356.9 L191.5,357.0 L192.1,357.1 L192.7,357.2 L193.2,357.3 L193.8,357.4 L194.4,357.4 L194.9,357.5 L195.5,357.6 L196.1,357.6 L196.7,357.7 L197.2,357.8 L197.8,357.8 L198.4,357.9 L198.9,358.0 L199.5,358.0 L200.1,358.1 L200.7,358.1 L201.2,358.2 L201.8,358.2 L202.4,358.3 L202.9,358.3 L203.5,358.4 L204.1,358.4 L204.7,358.5 L205.2,358.5 L205.8,358.6 L206.4,358.6 L206.9,358.7 L207.5,358.7 L208.1,358.7 L208.7,358.8 L209.2,358.8 L209.8,358.8 L210.4,358.9 L210.9,358.9 L211.5,358.9 L212.1,359.0 L212.7,359.0 L213.2,359.0 L213.8,359.1 L214.4,359.1 L214.9,359.1 L215.5,359.1 L216.1,359.2 L216.7,359.2 L217.2,359.2 L217.8,359.3 L218.4,359.3 L218.9,359.3 L219.5,359.3 L220.1,359.3 L220.7,359.4 L221.2,359.4 L221.8,359.4" stroke="#ff8000"/>
<path d="M84.6,358.6 L85.2,360.9 L85.8,359.4 L86.3,359.9 L86.9,359.8 L87.5,359.7 L88.0,360.6 L88.6,359.6 L89.2,359.9 L89.8,357.8 L90.3,359.4 L90.9,359.7 L91.5,359.6 L92.0,359.8 L92.6,360.0 L93.2,359.6 L93.8,359.2 L94.3,359.5 L94.9,358.9 L95.5,359.5 L96.1,359.3 L96.6,358.6 L97.2,359.1 L97.8,359.6 L98.3,359.4 L98.9,359.0 L99.5,358.3 L100.1,359.4 L100.6,359.3 L101.2,358.7 L101.8,359.6 L102.3,359.3 L102.9,358.7 L103.5,358.8 L104.1,359.1 L104.6,358.8 L105.2,360.5 L105.8,358.5 L106.3,359.5 L106.9,359.8 L107.5,358.8 L108.1,358.6 L108.6,359.2 L109.2,359.4 L109.8,358.9 L110.3,358.9 L110.9,358.1 L111.5,358.4 L112.1,358.7 L112.6,358.2 L113.2,358.8 L113.8,359.1 L114.3,358.4 L114.9,358.3 L115.5,358.7 L116.1,358.9 L116.6,358.4 L117.2,359.7 L117.8,358.1 L118.3,358.2 L118.9,359.2 L119.5,358.3 L120.1,358.8 L120.6,357.9 L121.2,359.2 L121.8,358.6 L122.3,357.7 L122.9,357.5 L123.5,359.1 L124.1,358.2 L124.6,357.7 L125.2,358.1 L125.8,356.9 L126.3,358.3 L126.9,357.4 L127.5,358.1 L128.1,356.7 L128.6,357.4 L129.2,357.5 L129.8,358.0 L130.3,356.2 L130.9,356.6 L131.5,356.5 L132.1,356.1 L132.6,356.4 L133.2,356.8 L133.8,356.7 L134.3,356.5 L134.9,355.2 L135.5,356.4 L136.1,355.8 L136.6,355.4 L137.2,354.9 L137.8,354.4 L138.3,355.0 L138.9,354.9 L139.5,353.6 L140.1,352.6 L140.6,352.4 L141.2,352.2 L141.8,351.9 L142.3,351.0 L142.9,350.6 L143.5,349.4 L144.1,349.4 L144.6,348.2 L145.2,347.4 L145.8,346.1 L146.4,345.2 L146.9,342.9 L147.5,342.3 L148.1,341.0 L148.6,341.4 L149.2,339.0 L149.8,337.6 L150.4,335.3 L150.9,335.0 L151.5,331.3 L152.1,329.4 L152.6,328.5 L153.2,326.1 L153.8,323.6 L154.4,320.8 L154.9,317.9 L155.5,314.5 L156.1,312.9 L156.6,309.6 L157.2,306.9 L157.8,303.1 L158.4,300.4 L158.9,296.9 L159.5,294.9 L160.1,291.1 L160.6,288.0 L161.2,283.5 L161.8,280.5 L162.4,277.5 L162.9,274.2 L163.5,270.3 L164.1,267.6 L164.6,264.4 L165.2,260.5 L165.8,256.3 L166.4,254.7 L166.9,252.0 L167.5,249.6 L168.1,247.2 L168.6,243.9 L169.2,241.6 L169.8,240.2 L170.4,238.4 L170.9,237.2 L171.5,236.1 L172.1,236.2 L172.6,235.2 L173.2,234.7 L173.8,235.4 L174.4,235.9 L174.9,237.2 L175.5,238.4 L176.1,239.7 L176.6,242.5 L177.2,244.9 L177.8,247.2 L178.4,250.4 L178.9,253.1 L179.5,258.4 L180.1,260.5 L180.6,264.8 L181.2,268.2 L181.8,271.6 L182.4,275.3 L182.9,279.0 L183.5,283.2 L184.1,286.2 L184.6,290.7 L185.2,294.2 L185.8,297.2 L186.4,301.2 L186.9,303.1 L187.5,306.8 L188.1,309.3 L188.6,313.2 L189.2,316.2 L189.8,318.5 L190.4,320.8 L190.9,323.8 L191.5,325.6 L192.1,327.9 L192.7,329.1 L193.2,332.1 L193.8,333.0 L194.4,335.5 L194.9,337.2 L195.5,338.5 L196.1,340.1 L196.7,340.6 L197.2,341.3 L197.8,342.8 L198.4,343.6 L198.9,344.0 L199.5,345.5 L200.1,346.4 L200.7,347.3 L201.2,348.7 L201.8,348.1 L202.4,349.9 L202.9,349.2 L203.5,350.1 L204.1,349.9 L204.7,350.9 L205.2,351.7 L205.8,351.5 L206.4,352.3 L206.9,352.4 L207.5,352.6 L208.1,352.9 L208.7,353.2 L209.2,353.8 L209.8,353.7 L210.4,354.9 L210.9,354.1 L211.5,354.8 L212.1,353.8 L212.7,353.9 L213.2,355.7 L213.8,354.8 L214.4,355.1 L214.9,355.7 L215.5,355.0 L216.1,355.6 L216.7,356.4 L217.2,355.8 L217.8,355.8 L218.4,355.8 L218.9,356.6 L219.5,355.8 L220.1,355.8 L220.7,356.8 L221.2,356.7 L221.8,356.5 L222.4,356.8 L222.9,355.7 L223.5,356.6 L224.1,357.3 L224.7,357.3 L225.2,357.0 L225.8,355.8 L226.4,357.2 L226.9,357.1 L227.5,356.9 L228.1,357.3 L228.7,356.2 L229.2,357.7 L229.8,357.1 L230.4,357.4 L230.9,357.2 L231.5,358.2 L232.1,356.8 L232.7,357.8 L233.2,357.7 L233.8,358.3 L234.4,358.2 L234.9,357.6 L235.5,357.4 L236.1,357.6 L236.7,357.4 L237.2,357.7 L237.8,358.1 L238.4,357.7 L238.9,357.9 L239.5,358.3 L240.1,357.9 L240.7,357.6 L241.2,358.2 L241.8,358.5 L242.4,358.0 L243.0,357.5 L243.5,358.6 L244.1,358.5 L244.7,358.6 L245.2,357.9 L245.8,359.5 L246.4,358.4 L247.0,358.0 L247.5,359.1 L248.1,357.9 L248.7,358.4 L249.2,359.0 L249.8,358.6 L250.4,359.5 L251.0,359.1 L251.5,357.9 L252.1,359.3 L252.7,357.9 L253.2,358.9" stroke="#ff0000"/>
<path d="M149.2,358.7 L149.8,359.1 L150.4,360.3 L150.9,359.4 L151.5,359.0 L152.1,359.7 L152.6,359.7 L153.2,358.9 L153.8,359.3 L154.4,359.8 L154.9,359.3 L155.5,358.5 L156.1,359.2 L156.6,358.4 L157.2,358.1 L157.8,358.8 L158.4,359.4 L158.9,359.5 L159.5,358.8 L160.1,358.3 L160.6,358.6 L161.2,358.4 L161.8,358.9 L162.4,358.5 L162.9,358.8 L163.5,358.7 L164.1,359.2 L164.6,359.3 L165.2,358.7 L165.8,359.0 L166.4,358.9 L166.9,358.0 L167.5,358.4 L168.1,356.8 L168.6,357.8 L169.2,358.5 L169.8,357.7 L170.4,357.9 L170.9,358.4 L171.5,357.4 L172.1,358.3 L172.6,359.4 L173.2,357.4 L173.8,358.1 L174.4,356.9 L174.9,357.9 L175.5,358.1 L176.1,356.7 L176.6,357.9 L177.2,357.2 L177.8,356.5 L178.4,357.1 L178.9,357.1 L179.5,356.9 L180.1,356.4 L180.6,357.2 L181.2,356.3 L181.8,356.2 L182.4,355.2 L182.9,356.4 L183.5,356.5 L184.1,355.5 L184.6,355.9 L185.2,355.3 L185.8,355.2 L186.4,354.4 L186.9,355.0 L187.5,354.4 L188.1,355.3 L188.6,354.0 L189.2,352.4 L189.8,353.0 L190.4,352.4 L190.9,352.1 L191.5,350.5 L192.1,349.9 L192.7,349.7 L193.2,347.8 L193.8,347.0 L194.4,345.6 L194.9,345.0 L195.5,342.3 L196.1,341.4 L196.7,340.0 L197.2,338.3 L197.8,336.1 L198.4,333.3 L198.9,331.5 L199.5,328.2 L200.1,325.7 L200.7,322.3 L201.2,319.5 L201.8,316.6 L202.4,314.0 L202.9,309.2 L203.5,305.1 L204.1,301.4 L204.7,297.1 L205.2,293.3 L205.8,288.9 L206.4,284.8 L206.9,279.2 L207.5,275.3 L208.1,271.2 L208.7,267.2 L209.2,262.3 L209.8,257.4 L210.4,253.9 L210.9,250.8 L211.5,246.2 L212.1,243.1 L212.7,240.6 L213.2,238.4 L213.8,236.4 L214.4,235.4 L214.9,234.4 L215.5,234.9 L216.1,234.1 L216.7,235.5 L217.2,235.9 L217.8,239.7 L218.4,240.5 L218.9,243.0 L219.5,246.7 L220.1,249.6 L220.7,253.0 L221.2,256.8 L221.8,261.3 L222.4,265.1 L222.9,268.6 L223.5,272.6 L224.1,277.4 L224.7,281.5 L225.2,285.5 L225.8,289.1 L226.4,294.1 L226.9,298.0 L227.5,301.0 L228.1,305.1 L228.7,308.3 L229.2,311.2 L229.8,314.1 L230.4,317.9 L230.9,319.7 L231.5,323.7 L232.1,325.0 L232.7,328.4 L233.2,330.5 L233.8,331.5 L234.4,334.0 L234.9,335.9 L235.5,337.4 L236.1,338.5 L236.7,340.1 L237.2,341.4 L237.8,342.0 L238.4,344.0 L238.9,344.9 L239.5,345.8 L240.1,345.8 L240.7,346.7 L241.2,347.3 L241.8,348.6 L242.4,349.2 L243.0,349.3 L243.5,350.4 L244.1,350.2 L244.7,350.7 L245.2,351.8 L245.8,351.9 L246.4,352.2 L247.0,351.6 L247.5,351.5 L248.1,353.1 L248.7,353.3 L249.2,354.7 L249.8,353.6 L250.4,354.0 L251.0,354.7 L251.5,353.9 L252.1,355.3 L252.7,354.8 L253.2,354.8 L253.8,355.6 L254.4,354.7 L255.0,354.7 L255.5,356.1 L256.1,356.2 L256.7,355.3 L257.2,355.8 L257.8,356.5 L258.4,356.1 L259.0,356.1 L259.5,356.2 L260.1,355.9 L260.7,356.2 L261.2,355.6 L261.8,355.8 L262.4,356.3 L263.0,356.2 L263.5,356.1 L264.1,356.5 L264.7,357.5 L265.2,356.6 L265.8,357.0 L266.4,356.3 L267.0,357.1 L267.5,357.0 L268.1,357.1 L268.7,356.5 L269.2,357.3 L269.8,357.6 L270.4,357.4 L271.0,357.8 L271.5,357.6 L272.1,357.7 L272.7,357.6 L273.2,356.8 L273.8,358.0 L274.4,357.8 L275.0,358.0 L275.5,357.6 L276.1,358.6 L276.7,358.4 L277.2,358.1 L277.8,357.8 L278.4,358.2 L279.0,358.4 L279.5,358.6 L280.1,358.0 L280.7,357.5 L281.2,358.1 L281.8,358.2" stroke="#800000"/>
 </g>
 <g stroke-width="1.5" font-family="Liberation Serif,serif" font-weight="bold" font-size="10">
<line x1="238.7" x2="262" y1="229.9" y2="229.9" stroke="#800080"/>
<text x="264.9" y="233.3">407 nm</text>
<line x1="238.7" x2="262" y1="242.0" y2="242.0" stroke="#8000ff"/>
<text x="264.9" y="245.4">446 nm</text>
<line x1="238.7" x2="262" y1="254.1" y2="254.1" stroke="#0000ff"/>
<text x="264.9" y="257.5">467 nm</text>
<line x1="238.7" x2="262" y1="266.2" y2="266.2" stroke="#008000"/>
<text x="264.9" y="269.6">493 nm</text>
<line x1="238.7" x2="262" y1="278.3" y2="278.3" stroke="#00ff00"/>
<text x="264.9" y="281.7">515 nm</text>
<line x1="238.7" x2="262" y1="290.4" y2="290.4" stroke="#ffff00"/>
<text x="264.9" y="293.8">565 nm</text>
<line x1="238.7" x2="262" y1="302.5" y2="302.5" stroke="#ff8000"/>
<text x="264.9" y="305.9">610 nm</text>
<line x1="238.7" x2="262" y1="314.6" y2="314.6" stroke="#ff0000"/>
<text x="264.9" y="318.0">660 nm</text>
<line x1="238.7" x2="262" y1="326.7" y2="326.7" stroke="#800000"/>
<text x="264.9" y="330.1">734 nm</text>
 </g>
 <g font-family="Liberation Serif,serif" font-weight="bold" font-size="15.5" text-anchor="middle">
  <text x="24.8" y="390.8">400</text><text x="81.6" y="390.8">500</text><text x="138.9" y="390.8">600</text>
  <text x="196.1" y="390.8">700</text><text x="253.2" y="390.8">800</text>
  <text x="83" y="408.2" font-size="17.4" text-anchor="start">Wavelength (nm)</text>
 </g>
</svg>

<svg id="cie" width="640" height="414" viewBox="0 0 640 414">
 <g stroke="#222" stroke-width="1.3"><line x1="362.1" x2="362.1" y1="56.2" y2="371.5"/><line x1="395.3" x2="395.3" y1="56.2" y2="371.5"/><line x1="428.5" x2="428.5" y1="56.2" y2="371.5"/><line x1="461.7" x2="461.7" y1="56.2" y2="371.5"/><line x1="494.9" x2="494.9" y1="56.2" y2="371.5"/><line x1="528.2" x2="528.2" y1="56.2" y2="371.5"/><line x1="561.4" x2="561.4" y1="56.2" y2="371.5"/><line x1="594.6" x2="594.6" y1="56.2" y2="371.5"/><line x1="345.2" x2="628" y1="354.6" y2="354.6"/><line x1="345.2" x2="628" y1="321.4" y2="321.4"/><line x1="345.2" x2="628" y1="288.2" y2="288.2"/><line x1="345.2" x2="628" y1="255.0" y2="255.0"/><line x1="345.2" x2="628" y1="221.8" y2="221.8"/><line x1="345.2" x2="628" y1="188.6" y2="188.6"/><line x1="345.2" x2="628" y1="155.4" y2="155.4"/><line x1="345.2" x2="628" y1="122.2" y2="122.2"/><line x1="345.2" x2="628" y1="89.0" y2="89.0"/></g>
</svg>
<div id="fill"><i style="background:linear-gradient(90deg,#3dff01 0px,#3eff00 6px,#40ff00 12px,#42ff00 18px,#45ff00 24px,#47ff00 30px,#4aff00 36px,#4eff00 42px,#52ff00 48px,#58ff00 54px,#5eff00 60px,#67ff00 66px,#70fe00 72px,#7bfb00 78px,#87f900 84px,#95f600 90px,#a2f300 96px,#b0f000 102px,#beed00 108px,#cbea00 114px,#d7e600 120px,#e3e300 126px,#eee000 132px,#f8dc00 138px,#ffd900 144px,#ffd600 150px,#ffd200 156px,#ffcf00 162px,#ffcc00 168px,#ffc800 174px,#ffc500 180px,#ffc100 186px,#ffbe00 192px,#ffba00 198px,#ffb600 204px,#ffb300 210px,#ffaf00 216px,#ffab00 222px,#ffa700 228px,#ffa200 234px,#ff9e00 240px,#ff9a00 246px,#ff9500 252px)"></i><i style="background:linear-gradient(90deg,#3bff02 0px,#3cff00 6px,#3eff00 12px,#40ff00 18px,#42ff00 24px,#45ff00 30px,#48ff00 36px,#4bff00 42px,#4fff00 48px,#54ff00 54px,#5bff00 60px,#63ff00 66px,#6dfd00 72px,#79fb00 78px,#85f900 84px,#92f600 90px,#a0f300 96px,#aef000 102px,#bced00 108px,#cae900 114px,#d7e600 120px,#e3e200 126px,#eedf00 132px,#f8dc00 138px,#ffd900 144px,#ffd500 150px,#ffd200 156px,#ffcf00 162px,#ffcb00 168px,#ffc800 174px,#ffc400 180px,#ffc100 186px,#ffbd00 192px,#ffba00 198px,#ffb600 204px,#ffb200 210px,#ffae00 216px,#ffaa00 222px,#ffa600 228px,#ffa200 234px,#ff9d00 240px,#ff9900 246px,#ff9400 252px)"></i><i style="background:linear-gradient(90deg,#39ff03 0px,#3aff01 6px,#3cff00 12px,#3eff00 18px,#40ff00 24px,#42ff00 30px,#45ff00 36px,#48ff00 42px,#4cff00 48px,#51ff00 54px,#58ff00 60px,#60ff00 66px,#6afd00 72px,#76fb00 78px,#83f900 84px,#90f600 90px,#9ff300 96px,#adef00 102px,#bbec00 108px,#c9e900 114px,#d6e500 120px,#e2e200 126px,#eddf00 132px,#f8db00 138px,#ffd800 144px,#ffd500 150px,#ffd100 156px,#ffce00 162px,#ffcb00 168px,#ffc700 174px,#ffc400 180px,#ffc100 186px,#ffbd00 192px,#ffb900 198px,#ffb600 204px,#ffb200 210px,#ffae00 216px,#ffaa00 222px,#ffa500 228px,#ffa100 234px,#ff9d00 240px,#ff9800 246px,#ff9400 252px)"></i><i style="background:linear-gradient(90deg,#37fe04 0px,#38fe02 6px,#3aff01 12px,#3bff00 18px,#3dff00 24px,#3fff00 30px,#42ff00 36px,#45ff00 42px,#49ff00 48px,#4eff00 54px,#55ff00 60px,#5dff00 66px,#67fd00 72px,#73fb00 78px,#80f800 84px,#8ef500 90px,#9df200 96px,#acef00 102px,#baec00 108px,#c8e800 114px,#d6e500 120px,#e2e200 126px,#edde00 132px,#f7db00 138px,#ffd800 144px,#ffd400 150px,#ffd100 156px,#ffce00 162px,#ffca00 168px,#ffc700 174px,#ffc400 180px,#ffc000 186px,#ffbd00 192px,#ffb900 198px,#ffb500 204px,#ffb100 210px,#ffad00 216px,#ffa900 222px,#ffa500 228px,#ffa100 234px,#ff9c00 240px,#ff9800 246px,#ff9300 252px)"></i><i style="background:linear-gradient(90deg,#35fd06 0px,#36fd04 6px,#37fe02 12px,#39fe00 18px,#3bff00 24px,#3dff00 30px,#3fff00 36px,#42ff00 42px,#46ff00 48px,#4bff00 54px,#51ff00 60px,#5aff00 66px,#64fd00 72px,#70fb00 78px,#7df800 84px,#8cf500 90px,#9bf200 96px,#aaef00 102px,#b9eb00 108px,#c7e800 114px,#d5e500 120px,#e1e100 126px,#edde00 132px,#f7da00 138px,#ffd700 144px,#ffd400 150px,#ffd100 156px,#ffcd00 162px,#ffca00 168px,#ffc700 174px,#ffc300 180px,#ffc000 186px,#ffbc00 192px,#ffb800 198px,#ffb500 204px,#ffb100 210px,#ffad00 216px,#ffa900 222px,#ffa400 228px,#ffa000 234px,#ff9c00 240px,#ff9700 246px,#ff9300 252px)"></i><i style="background:linear-gradient(90deg,#33fc07 0px,#34fc05 6px,#35fd03 12px,#36fe01 18px,#38fe00 24px,#3aff00 30px,#3cff00 36px,#3fff00 42px,#42ff00 48px,#47ff00 54px,#4eff00 60px,#56ff00 66px,#61fd00 72px,#6dfb00 78px,#7bf800 84px,#8af500 90px,#99f200 96px,#a9ee00 102px,#b8eb00 108px,#c7e800 114px,#d4e400 120px,#e1e100 126px,#eddd00 132px,#f7da00 138px,#ffd700 144px,#ffd300 150px,#ffd000 156px,#ffcd00 162px,#ffca00 168px,#ffc600 174px,#ffc300 180px,#ffbf00 186px,#ffbc00 192px,#ffb800 198px,#ffb400 204px,#ffb000 210px,#ffac00 216px,#ffa800 222px,#ffa400 228px,#ffa000 234px,#ff9b00 240px,#ff9600 246px,#ff9200 252px)"></i><i style="background:linear-gradient(90deg,#31fb08 0px,#32fc06 6px,#33fc04 12px,#34fd02 18px,#36fe00 24px,#37ff00 30px,#3aff00 36px,#3cff00 42px,#3fff00 48px,#44ff00 54px,#4aff00 60px,#53fe00 66px,#5efd00 72px,#6afa00 78px,#78f800 84px,#88f500 90px,#98f200 96px,#a8ee00 102px,#b7eb00 108px,#c6e700 114px,#d4e400 120px,#e1e000 126px,#ecdd00 132px,#f7da00 138px,#ffd600 144px,#ffd300 150px,#ffd000 156px,#ffcc00 162px,#ffc900 168px,#ffc600 174px,#ffc200 180px,#ffbf00 186px,#ffbb00 192px,#ffb800 198px,#ffb400 204px,#ffb000 210px,#ffac00 216px,#ffa800 222px,#ffa300 228px,#ff9f00 234px,#ff9a00 240px,#ff9600 246px,#ff9100 252px)"></i><i style="background:linear-gradient(90deg,#2ffa09 0px,#30fb07 6px,#31fb06 12px,#32fc04 18px,#33fd02 24px,#35fe00 30px,#37ff00 36px,#39ff00 42px,#3cff00 48px,#40ff00 54px,#47ff00 60px,#4ffe00 66px,#5afd00 72px,#67fa00 78px,#76f800 84px,#86f500 90px,#96f100 96px,#a6ee00 102px,#b6ea00 108px,#c6e700 114px,#d4e300 120px,#e1e000 126px,#ecdd00 132px,#f6d900 138px,#ffd600 144px,#ffd300 150px,#ffcf00 156px,#ffcc00 162px,#ffc900 168px,#ffc500 174px,#ffc200 180px,#ffbf00 186px,#ffbb00 192px,#ffb700 198px,#ffb300 204px,#ffaf00 210px,#ffab00 216px,#ffa700 222px,#ffa300 228px,#ff9e00 234px,#ff9a00 240px,#ff9500 246px,#ff9100 252px)"></i><i style="background:linear-gradient(90deg,#2ef90b 0px,#2efa09 6px,#2ffa07 12px,#2ffb05 18px,#30fc03 24px,#32fd01 30px,#34fe00 36px,#35ff00 42px,#38ff00 48px,#3cff00 54px,#43ff00 60px,#4cfe00 66px,#57fd00 72px,#64fa00 78px,#73f700 84px,#83f400 90px,#94f100 96px,#a5ed00 102px,#b5ea00 108px,#c5e600 114px,#d3e300 120px,#e0df00 126px,#ecdc00 132px,#f6d900 138px,#ffd600 144px,#ffd200 150px,#ffcf00 156px,#ffcc00 162px,#ffc800 168px,#ffc500 174px,#ffc200 180px,#ffbe00 186px,#ffbb00 192px,#ffb700 198px,#ffb300 204px,#ffaf00 210px,#ffab00 216px,#ffa700 222px,#ffa200 228px,#ff9e00 234px,#ff9900 240px,#ff9500 246px,#ff9000 252px)"></i><i style="background:linear-gradient(90deg,#2cf80c 0px,#2cf90a 6px,#2cf908 12px,#2dfa06 18px,#2efb04 24px,#2ffd03 30px,#31fe01 36px,#32ff00 42px,#35ff00 48px,#39ff00 54px,#3fff00 60px,#48fe00 66px,#53fc00 72px,#61fa00 78px,#71f700 84px,#81f400 90px,#93f100 96px,#a4ed00 102px,#b5ea00 108px,#c5e600 114px,#d3e200 120px,#e0df00 126px,#ecdc00 132px,#f6d800 138px,#ffd500 144px,#ffd200 150px,#ffcf00 156px,#ffcb00 162px,#ffc800 168px,#ffc500 174px,#ffc100 180px,#ffbe00 186px,#ffba00 192px,#ffb600 198px,#ffb300 204px,#ffaf00 210px,#ffab00 216px,#ffa600 222px,#ffa200 228px,#ff9d00 234px,#ff9900 240px,#ff9400 246px,#ff8f00 252px)"></i><i style="background:linear-gradient(90deg,#2af80d 0px,#2af80b 6px,#2af909 12px,#2bfa08 18px,#2bfb06 24px,#2cfc04 30px,#2dfd02 36px,#2fff01 42px,#31ff00 48px,#35ff00 54px,#3bff00 60px,#44fe00 66px,#50fc00 72px,#5efa00 78px,#6ef700 84px,#7ff400 90px,#91f000 96px,#a3ed00 102px,#b4e900 108px,#c4e600 114px,#d3e200 120px,#e0df00 126px,#ecdb00 132px,#f6d800 138px,#ffd500 144px,#ffd200 150px,#ffce00 156px,#ffcb00 162px,#ffc800 168px,#ffc400 174px,#ffc100 180px,#ffbe00 186px,#ffba00 192px,#ffb600 198px,#ffb200 204px,#ffae00 210px,#ffaa00 216px,#ffa600 222px,#ffa100 228px,#ff9d00 234px,#ff9800 240px,#ff9300 246px,#ff8f00 252px)"></i><i style="background:linear-gradient(90deg,#28f70e 0px,#28f70d 6px,#28f80b 12px,#28f909 18px,#29fa07 24px,#29fb05 30px,#2afd04 36px,#2bfe03 42px,#2dff02 48px,#31ff01 54px,#38ff00 60px,#41fe00 66px,#4dfc00 72px,#5bfa00 78px,#6bf700 84px,#7df400 90px,#8ff000 96px,#a2ec00 102px,#b3e900 108px,#c4e500 114px,#d3e200 120px,#e0de00 126px,#ecdb00 132px,#f6d800 138px,#ffd400 144px,#ffd100 150px,#ffce00 156px,#ffcb00 162px,#ffc700 168px,#ffc400 174px,#ffc100 180px,#ffbd00 186px,#ffba00 192px,#ffb600 198px,#ffb200 204px,#ffae00 210px,#ffaa00 216px,#ffa500 222px,#ffa100 228px,#ff9c00 234px,#ff9800 240px,#ff9300 246px,#ff8e00 252px)"></i><i style="background:linear-gradient(90deg,#26f610 0px,#26f60e 6px,#26f70c 12px,#26f80a 18px,#26f909 24px,#27fb07 30px,#27fc05 36px,#28fe04 42px,#2aff03 48px,#2eff02 54px,#34ff01 60px,#3dfe01 66px,#49fc00 72px,#58fa00 78px,#69f700 84px,#7bf300 90px,#8ef000 96px,#a1ec00 102px,#b3e800 108px,#c3e500 114px,#d3e100 120px,#e0de00 126px,#ecdb00 132px,#f6d700 138px,#ffd400 144px,#ffd100 150px,#ffce00 156px,#ffca00 162px,#ffc700 168px,#ffc400 174px,#ffc000 180px,#ffbd00 186px,#ffb900 192px,#ffb500 198px,#ffb200 204px,#ffae00 210px,#ffa900 216px,#ffa500 222px,#ffa000 228px,#ff9c00 234px,#ff9700 240px,#ff9200 246px,#ff8d00 252px)"></i><i style="background:linear-gradient(90deg,#25f511 0px,#24f50f 6px,#24f60e 12px,#24f70c 18px,#24f80a 24px,#24fa08 30px,#24fc07 36px,#25fd06 42px,#26ff04 48px,#2aff03 54px,#30ff03 60px,#39fe02 66px,#46fc01 72px,#55fa01 78px,#66f700 84px,#79f300 90px,#8cf000 96px,#a0ec00 102px,#b2e800 108px,#c3e400 114px,#d3e100 120px,#e0de00 126px,#ecda00 132px,#f6d700 138px,#fed400 144px,#ffd100 150px,#ffcd00 156px,#ffca00 162px,#ffc700 168px,#ffc400 174px,#ffc000 180px,#ffbd00 186px,#ffb900 192px,#ffb500 198px,#ffb100 204px,#ffad00 210px,#ffa900 216px,#ffa500 222px,#ffa000 228px,#ff9b00 234px,#ff9700 240px,#ff9200 246px,#ff8d00 252px)"></i><i style="background:linear-gradient(90deg,#23f412 0px,#23f411 6px,#22f50f 12px,#22f60d 18px,#21f80c 24px,#21f90a 30px,#21fb08 36px,#21fd07 42px,#23fe06 48px,#26ff05 54px,#2cff04 60px,#35fe03 66px,#42fc02 72px,#52fa02 78px,#64f601 84px,#77f301 90px,#8bef00 96px,#9feb00 102px,#b2e800 108px,#c3e400 114px,#d3e100 120px,#e0dd00 126px,#ecda00 132px,#f6d700 138px,#fed300 144px,#ffd000 150px,#ffcd00 156px,#ffca00 162px,#ffc700 168px,#ffc300 174px,#ffc000 180px,#ffbc00 186px,#ffb900 192px,#ffb500 198px,#ffb100 204px,#ffad00 210px,#ffa900 216px,#ffa400 222px,#ffa000 228px,#ff9b00 234px,#ff9600 240px,#ff9100 246px,#ff8c00 252px)"></i><i style="background:linear-gradient(90deg,#21f314 0px,#21f312 6px,#20f410 12px,#20f50f 18px,#1ff70d 24px,#1ef90c 30px,#1efb0a 36px,#1efd09 42px,#1ffe07 48px,#22ff06 54px,#28ff05 60px,#32fe04 66px,#3ffc04 72px,#4ff903 78px,#61f603 84px,#75f302 90px,#89ef02 96px,#9eeb01 102px,#b1e700 108px,#c3e400 114px,#d3e000 120px,#e0dd00 126px,#ecda00 132px,#f6d600 138px,#fed300 144px,#ffd000 150px,#ffcd00 156px,#ffca00 162px,#ffc600 168px,#ffc300 174px,#ffc000 180px,#ffbc00 186px,#ffb800 192px,#ffb500 198px,#ffb100 204px,#ffad00 210px,#ffa800 216px,#ffa400 222px,#ff9f00 228px,#ff9a00 234px,#ff9500 240px,#ff9100 246px,#ff8b00 252px)"></i><i style="background:linear-gradient(90deg,#20f215 0px,#1ff213 6px,#1ef312 12px,#1df410 18px,#1df60f 24px,#1cf80d 30px,#1bfa0b 36px,#1bfc0a 42px,#1cfe09 48px,#1fff07 54px,#24ff06 60px,#2efe05 66px,#3bfc05 72px,#4cf904 78px,#5ef604 84px,#73f203 90px,#88ef03 96px,#9deb02 102px,#b1e701 108px,#c3e300 114px,#d3e000 120px,#e1dc00 126px,#ecd900 132px,#f6d600 138px,#fed300 144px,#ffd000 150px,#ffcd00 156px,#ffc900 162px,#ffc600 168px,#ffc300 174px,#ffc000 180px,#ffbc00 186px,#ffb800 192px,#ffb400 198px,#ffb000 204px,#ffac00 210px,#ffa800 216px,#ffa300 222px,#ff9f00 228px,#ff9a00 234px,#ff9500 240px,#ff9000 246px,#ff8b00 252px)"></i><i style="background:linear-gradient(90deg,#1ef116 0px,#1ef115 6px,#1df213 12px,#1bf312 18px,#1af510 24px,#19f70f 30px,#18fa0d 36px,#18fc0b 42px,#19fe0a 48px,#1bff09 54px,#21ff07 60px,#2afe06 66px,#38fc06 72px,#49f905 78px,#5cf605 84px,#71f204 90px,#86ee03 96px,#9cea03 102px,#b0e702 108px,#c3e301 114px,#d3e000 120px,#e1dc00 126px,#ecd900 132px,#f6d600 138px,#fed300 144px,#ffd000 150px,#ffcc00 156px,#ffc900 162px,#ffc600 168px,#ffc300 174px,#ffbf00 180px,#ffbc00 186px,#ffb800 192px,#ffb400 198px,#ffb000 204px,#ffac00 210px,#ffa800 216px,#ffa300 222px,#ff9e00 228px,#ff9900 234px,#ff9400 240px,#ff8f00 246px,#ff8a00 252px)"></i><i style="background:linear-gradient(90deg,#1df017 0px,#1cf016 6px,#1bf115 12px,#1af213 18px,#18f412 24px,#17f710 30px,#16f90f 36px,#15fb0d 42px,#15fd0b 48px,#18ff0a 54px,#1dff09 60px,#27fe08 66px,#35fc07 72px,#46f906 78px,#59f605 84px,#6ff205 90px,#85ee04 96px,#9bea04 102px,#b0e603 108px,#c3e302 114px,#d3df00 120px,#e1dc00 126px,#ecd900 132px,#f6d600 138px,#fed300 144px,#ffcf00 150px,#ffcc00 156px,#ffc900 162px,#ffc600 168px,#ffc300 174px,#ffbf00 180px,#ffbc00 186px,#ffb800 192px,#ffb400 198px,#ffb000 204px,#ffac00 210px,#ffa700 216px,#ffa300 222px,#ff9e00 228px,#ff9900 234px,#ff9400 240px,#ff8f00 246px,#ff8900 252px)"></i><i style="background:linear-gradient(90deg,#1cef19 0px,#1aef17 6px,#19f016 12px,#18f215 18px,#16f413 24px,#15f612 30px,#13f910 36px,#12fb0e 42px,#13fd0d 48px,#15fe0b 54px,#1aff0a 60px,#23fe09 66px,#32fc08 72px,#43f907 78px,#57f506 84px,#6df206 90px,#84ee05 96px,#9aea05 102px,#b0e604 108px,#c3e202 114px,#d4df01 120px,#e1dc00 126px,#edd800 132px,#f6d500 138px,#fdd200 144px,#ffcf00 150px,#ffcc00 156px,#ffc900 162px,#ffc600 168px,#ffc200 174px,#ffbf00 180px,#ffbb00 186px,#ffb800 192px,#ffb400 198px,#ffb000 204px,#ffab00 210px,#ffa700 216px,#ffa200 222px,#ff9d00 228px,#ff9900 234px,#ff9300 240px,#ff8e00 246px,#ff8900 252px)"></i><i style="background:linear-gradient(90deg,#1aee1a 0px,#19ee19 6px,#18ef17 12px,#16f116 18px,#14f315 24px,#13f513 30px,#11f812 36px,#10fb10 42px,#10fd0e 48px,#12fe0d 54px,#16ff0b 60px,#20fe0a 66px,#2efc09 72px,#40f908 78px,#54f507 84px,#6bf107 90px,#82ee06 96px,#9aea06 102px,#b0e605 108px,#c3e203 114px,#d4df02 120px,#e2db00 126px,#edd800 132px,#f6d500 138px,#fdd200 144px,#ffcf00 150px,#ffcc00 156px,#ffc900 162px,#ffc600 168px,#ffc200 174px,#ffbf00 180px,#ffbb00 186px,#ffb800 192px,#ffb400 198px,#ffb000 204px,#ffab00 210px,#ffa700 216px,#ffa200 222px,#ff9d00 228px,#ff9800 234px,#ff9300 240px,#ff8e00 246px,#ff8800 252px)"></i><i style="background:linear-gradient(90deg,#19ed1b 0px,#18ed1a 6px,#16ee19 12px,#14f018 18px,#13f216 24px,#11f515 30px,#0ff713 36px,#0dfa11 42px,#0dfc10 48px,#0ffe0e 54px,#14fe0c 60px,#1dfe0b 66px,#2cfb0a 72px,#3df909 78px,#52f508 84px,#69f107 90px,#81ed07 96px,#99e906 102px,#afe506 108px,#c3e204 114px,#d4de02 120px,#e2db00 126px,#edd800 132px,#f6d500 138px,#fdd200 144px,#ffcf00 150px,#ffcc00 156px,#ffc900 162px,#ffc600 168px,#ffc200 174px,#ffbf00 180px,#ffbb00 186px,#ffb700 192px,#ffb400 198px,#ffaf00 204px,#ffab00 210px,#ffa600 216px,#ffa200 222px,#ff9d00 228px,#ff9800 234px,#ff9200 240px,#ff8d00 246px,#ff8800 252px)"></i><i style="background:linear-gradient(90deg,#18ec1c 0px,#16ec1b 6px,#15ed1a 12px,#13ef19 18px,#11f118 24px,#0ff416 30px,#0df714 36px,#0bfa13 42px,#0bfc11 48px,#0dfe0f 54px,#11fe0d 60px,#1bfd0c 66px,#29fb0a 72px,#3bf809 78px,#50f509 84px,#67f108 90px,#7fed08 96px,#98e907 102px,#afe506 108px,#c4e105 114px,#d5de03 120px,#e2db01 126px,#edd800 132px,#f5d500 138px,#fcd200 144px,#ffcf00 150px,#ffcc00 156px,#ffc900 162px,#ffc600 168px,#ffc200 174px,#ffbf00 180px,#ffbb00 186px,#ffb700 192px,#ffb300 198px,#ffaf00 204px,#ffab00 210px,#ffa600 216px,#ffa100 222px,#ff9c00 228px,#ff9700 234px,#ff9200 240px,#ff8c00 246px,#ff8700 252px)"></i><i style="background:linear-gradient(90deg,#17eb1d 0px,#15eb1c 6px,#14ec1b 12px,#12ee1a 18px,#0ff019 24px,#0df318 30px,#0bf616 36px,#09f914 42px,#09fc12 48px,#0afd10 54px,#0ffe0e 60px,#18fd0d 66px,#26fb0b 72px,#38f80a 78px,#4df509 84px,#65f109 90px,#7eed08 96px,#97e908 102px,#afe507 108px,#c4e106 114px,#d5de04 120px,#e2db02 126px,#edd800 132px,#f5d500 138px,#fcd200 144px,#ffcf00 150px,#ffcc00 156px,#ffc900 162px,#ffc600 168px,#ffc200 174px,#ffbf00 180px,#ffbb00 186px,#ffb700 192px,#ffb300 198px,#ffaf00 204px,#ffab00 210px,#ffa600 216px,#ffa100 222px,#ff9c00 228px,#ff9700 234px,#ff9100 240px,#ff8c00 246px,#ff8600 252px)"></i><i style="background:linear-gradient(90deg,#16ea1e 0px,#14ea1d 6px,#12eb1d 12px,#10ed1c 18px,#0eef1a 24px,#0cf319 30px,#09f617 36px,#08f915 42px,#07fb13 48px,#08fd11 54px,#0dfd0f 60px,#16fd0d 66px,#24fb0c 72px,#35f80b 78px,#4bf40a 84px,#63f109 90px,#7cec09 96px,#97e809 102px,#afe508 108px,#c4e107 114px,#d5de05 120px,#e2db02 126px,#edd800 132px,#f5d500 138px,#fbd200 144px,#ffcf00 150px,#ffcc00 156px,#ffc900 162px,#ffc600 168px,#ffc200 174px,#ffbf00 180px,#ffbb00 186px,#ffb700 192px,#ffb300 198px,#ffaf00 204px,#ffaa00 210px,#ffa600 216px,#ffa100 222px,#ff9c00 228px,#ff9600 234px,#ff9100 240px,#ff8b00 246px,#ff8600 252px)"></i><i style="background:linear-gradient(90deg,#15e91f 0px,#13ea1f 6px,#11ea1e 12px,#0fec1d 18px,#0def1c 24px,#0af21a 30px,#08f519 36px,#06f817 42px,#05fb15 48px,#07fd12 54px,#0bfd10 60px,#14fc0e 66px,#21fb0d 72px,#33f80b 78px,#48f40b 84px,#60f00a 90px,#7bec0a 96px,#96e809 102px,#afe409 108px,#c4e107 114px,#d5de05 120px,#e2db03 126px,#edd800 132px,#f4d500 138px,#fbd200 144px,#ffcf00 150px,#ffcc00 156px,#ffc900 162px,#ffc600 168px,#ffc200 174px,#ffbf00 180px,#ffbb00 186px,#ffb700 192px,#ffb300 198px,#ffaf00 204px,#ffaa00 210px,#ffa500 216px,#ffa000 222px,#ff9b00 228px,#ff9600 234px,#ff9000 240px,#ff8b00 246px,#ff8500 252px)"></i><i style="background:linear-gradient(90deg,#14e920 0px,#12e920 6px,#10e91f 12px,#0eeb1e 18px,#0cee1d 24px,#09f11c 30px,#07f51a 36px,#05f818 42px,#04fa16 48px,#05fc13 54px,#09fd11 60px,#12fc0f 66px,#1ffa0d 72px,#30f80c 78px,#46f40b 84px,#5ef00a 90px,#79ec0a 96px,#95e80a 102px,#afe409 108px,#c5e108 114px,#d5de06 120px,#e2db03 126px,#ecd801 132px,#f4d500 138px,#fad200 144px,#ffcf00 150px,#ffcc00 156px,#ffc900 162px,#ffc600 168px,#ffc200 174px,#ffbf00 180px,#ffbb00 186px,#ffb700 192px,#ffb300 198px,#ffaf00 204px,#ffaa00 210px,#ffa500 216px,#ffa000 222px,#ff9b00 228px,#ff9500 234px,#ff9000 240px,#ff8a00 246px,#ff8400 252px)"></i><i style="background:linear-gradient(90deg,#13e821 0px,#11e821 6px,#0fe920 12px,#0dea1f 18px,#0bed1e 24px,#08f11d 30px,#05f41b 36px,#03f719 42px,#03fa17 48px,#04fc15 54px,#08fd12 60px,#10fc10 66px,#1dfa0e 72px,#2ef70c 78px,#43f40b 84px,#5cf00b 90px,#77ec0b 96px,#94e80a 102px,#aee40a 108px,#c5e108 114px,#d5de06 120px,#e2db04 126px,#ecd801 132px,#f3d500 138px,#f9d200 144px,#fecf00 150px,#ffcc00 156px,#ffc900 162px,#ffc600 168px,#ffc200 174px,#ffbf00 180px,#ffbb00 186px,#ffb700 192px,#ffb300 198px,#ffaf00 204px,#ffaa00 210px,#ffa500 216px,#ffa000 222px,#ff9b00 228px,#ff9500 234px,#ff8f00 240px,#ff8900 246px,#ff8400 252px)"></i><i style="background:linear-gradient(90deg,#12e722 0px,#10e722 6px,#0fe821 12px,#0cea20 18px,#0aed1f 24px,#07f01e 30px,#04f41c 36px,#02f71a 42px,#01fa18 48px,#02fc15 54px,#06fc13 60px,#0efc10 66px,#1afa0e 72px,#2bf70d 78px,#40f40c 84px,#59f00b 90px,#75ec0b 96px,#92e80b 102px,#aee40a 108px,#c5e109 114px,#d5de07 120px,#e2db04 126px,#ebd801 132px,#f3d500 138px,#f8d300 144px,#fdd000 150px,#ffcc00 156px,#ffc900 162px,#ffc600 168px,#ffc300 174px,#ffbf00 180px,#ffbb00 186px,#ffb700 192px,#ffb300 198px,#ffaf00 204px,#ffaa00 210px,#ffa500 216px,#ffa000 222px,#ff9a00 228px,#ff9400 234px,#ff8f00 240px,#ff8900 246px,#ff8300 252px)"></i><i style="background:linear-gradient(90deg,#11e623 0px,#10e723 6px,#0ee722 12px,#0ce921 18px,#09ec20 24px,#06f01f 30px,#04f31e 36px,#02f71c 42px,#00f919 48px,#01fb16 54px,#05fc14 60px,#0cfb11 66px,#18fa0f 72px,#28f70d 78px,#3df40c 84px,#57f00b 90px,#73ec0b 96px,#91e80b 102px,#ade40a 108px,#c4e109 114px,#d5de07 120px,#e1db05 126px,#ebd802 132px,#f2d600 138px,#f7d300 144px,#fcd000 150px,#ffcd00 156px,#ffc900 162px,#ffc600 168px,#ffc300 174px,#ffbf00 180px,#ffbc00 186px,#ffb800 192px,#ffb300 198px,#ffaf00 204px,#ffaa00 210px,#ffa500 216px,#ff9f00 222px,#ff9a00 228px,#ff9400 234px,#ff8e00 240px,#ff8800 246px,#ff8200 252px)"></i><i style="background:linear-gradient(90deg,#11e624 0px,#0fe623 6px,#0de723 12px,#0be822 18px,#08eb21 24px,#06ef20 30px,#03f31f 36px,#01f61d 42px,#00f91a 48px,#00fb17 54px,#04fc14 60px,#0bfb12 66px,#16fa0f 72px,#26f70d 78px,#3bf40c 84px,#54f00b 90px,#71ec0b 96px,#8fe80b 102px,#ace40b 108px,#c4e109 114px,#d4de07 120px,#e0db05 126px,#ead902 132px,#f1d600 138px,#f6d300 144px,#fad000 150px,#fecd00 156px,#ffca00 162px,#ffc600 168px,#ffc300 174px,#ffbf00 180px,#ffbc00 186px,#ffb800 192px,#ffb300 198px,#ffaf00 204px,#ffaa00 210px,#ffa500 216px,#ff9f00 222px,#ff9900 228px,#ff9400 234px,#ff8e00 240px,#ff8800 246px,#ff8100 252px)"></i><i style="background:linear-gradient(90deg,#10e525 0px,#0ee524 6px,#0de624 12px,#0ae823 18px,#08eb22 24px,#05ef21 30px,#02f320 36px,#00f61e 42px,#00f91b 48px,#00fb18 54px,#02fb15 60px,#09fb12 66px,#14fa0f 72px,#23f70e 78px,#38f40c 84px,#51f00c 90px,#6eec0b 96px,#8de80b 102px,#aae40b 108px,#c2e10a 114px,#d3de07 120px,#e0dc05 126px,#e9d902 132px,#f0d600 138px,#f5d400 144px,#f9d000 150px,#fccd00 156px,#ffca00 162px,#ffc700 168px,#ffc300 174px,#ffc000 180px,#ffbc00 186px,#ffb800 192px,#ffb400 198px,#ffaf00 204px,#ffaa00 210px,#ffa400 216px,#ff9f00 222px,#ff9900 228px,#ff9300 234px,#ff8d00 240px,#ff8700 246px,#ff8100 252px)"></i><i style="background:linear-gradient(90deg,#10e525 0px,#0ee525 6px,#0ce624 12px,#0ae824 18px,#07eb23 24px,#05ee22 30px,#02f221 36px,#00f61f 42px,#00f91c 48px,#00fa19 54px,#01fb15 60px,#07fb12 66px,#12f910 72px,#21f70e 78px,#35f40c 84px,#4ef00b 90px,#6cec0b 96px,#8be80b 102px,#a8e40b 108px,#c0e109 114px,#d2df07 120px,#dedc05 126px,#e8da02 132px,#efd700 138px,#f4d400 144px,#f8d100 150px,#fbce00 156px,#feca00 162px,#ffc700 168px,#ffc400 174px,#ffc000 180px,#ffbc00 186px,#ffb800 192px,#ffb400 198px,#ffaf00 204px,#ffaa00 210px,#ffa400 216px,#ff9f00 222px,#ff9900 228px,#ff9300 234px,#ff8d00 240px,#ff8600 246px,#ff8000 252px)"></i><i style="background:linear-gradient(90deg,#0fe526 0px,#0de525 6px,#0ce525 12px,#09e724 18px,#07ea24 24px,#04ee23 30px,#02f221 36px,#00f61f 42px,#00f81d 48px,#00fa19 54px,#00fb16 60px,#06fb13 66px,#10f910 72px,#1ef70e 78px,#32f40c 84px,#4bf00b 90px,#69ec0b 96px,#88e80b 102px,#a6e50a 108px,#bee209 114px,#d0df07 120px,#dddd05 126px,#e7da02 132px,#eed700 138px,#f3d400 144px,#f6d100 150px,#f9ce00 156px,#fccb00 162px,#ffc700 168px,#ffc400 174px,#ffc000 180px,#ffbc00 186px,#ffb800 192px,#ffb400 198px,#ffaf00 204px,#ffaa00 210px,#ffa400 216px,#ff9e00 222px,#ff9800 228px,#ff9200 234px,#ff8c00 240px,#ff8600 246px,#ff7f00 252px)"></i><i style="background:linear-gradient(90deg,#0fe427 0px,#0de426 6px,#0be525 12px,#09e725 18px,#07ea24 24px,#04ee23 30px,#01f222 36px,#00f520 42px,#00f81d 48px,#00fa1a 54px,#00fb16 60px,#05fb13 66px,#0ef910 72px,#1cf70d 78px,#2ff40c 84px,#48f00b 90px,#66ec0b 96px,#86e90b 102px,#a3e50a 108px,#bce209 114px,#cee007 120px,#dcdd05 126px,#e5db02 132px,#ecd800 138px,#f1d500 144px,#f5d200 150px,#f8ce00 156px,#facb00 162px,#fdc800 168px,#ffc400 174px,#ffc100 180px,#ffbd00 186px,#ffb900 192px,#ffb400 198px,#ffaf00 204px,#ffaa00 210px,#ffa400 216px,#ff9e00 222px,#ff9800 228px,#ff9200 234px,#ff8b00 240px,#ff8500 246px,#ff7e00 252px)"></i><i style="background:linear-gradient(90deg,#0ee427 0px,#0de426 6px,#0be526 12px,#09e725 18px,#06ea25 24px,#04ed24 30px,#01f123 36px,#00f521 42px,#00f81e 48px,#00fa1a 54px,#00fb17 60px,#04fb13 66px,#0cfa10 72px,#19f70d 78px,#2cf40c 84px,#46f00b 90px,#64ed0b 96px,#83e90a 102px,#a1e60a 108px,#bae309 114px,#cde107 120px,#dade05 126px,#e4dc02 132px,#ebd900 138px,#f0d600 144px,#f3d200 150px,#f6cf00 156px,#f8cb00 162px,#fbc800 168px,#fec500 174px,#ffc100 180px,#ffbd00 186px,#ffb900 192px,#ffb400 198px,#ffaf00 204px,#ffaa00 210px,#ffa400 216px,#ff9e00 222px,#ff9800 228px,#ff9100 234px,#ff8b00 240px,#ff8400 246px,#ff7e00 252px)"></i><i style="background:linear-gradient(90deg,#0ee428 0px,#0ce427 6px,#0ae526 12px,#08e726 18px,#06ea25 24px,#04ed24 30px,#01f123 36px,#00f521 42px,#00f71e 48px,#00f91b 54px,#00fb17 60px,#03fb13 66px,#0bfa10 72px,#17f70d 78px,#29f40b 84px,#43f00b 90px,#61ed0a 96px,#81e90a 102px,#9fe609 108px,#b8e408 114px,#cbe106 120px,#d9df04 126px,#e3dc02 132px,#ead900 138px,#eed600 144px,#f2d300 150px,#f4cf00 156px,#f7cc00 162px,#f9c900 168px,#fcc500 174px,#ffc100 180px,#ffbe00 186px,#ffb900 192px,#ffb500 198px,#ffaf00 204px,#ffaa00 210px,#ffa400 216px,#ff9e00 222px,#ff9700 228px,#ff9100 234px,#ff8a00 240px,#ff8300 246px,#ff7d00 252px)"></i><i style="background:linear-gradient(90deg,#0de328 0px,#0ce427 6px,#0ae526 12px,#08e626 18px,#06e925 24px,#04ed25 30px,#01f124 36px,#00f422 42px,#00f71f 48px,#00f91b 54px,#00fa17 60px,#02fb13 66px,#09fa10 72px,#15f80d 78px,#27f40b 84px,#40f10a 90px,#5fed0a 96px,#7fea09 102px,#9ce709 108px,#b5e408 114px,#c9e206 120px,#d7e004 126px,#e2dd02 132px,#e8da00 138px,#edd700 144px,#f0d400 150px,#f2d000 156px,#f5cc00 162px,#f7c900 168px,#fbc600 174px,#fec200 180px,#ffbe00 186px,#ffba00 192px,#ffb500 198px,#ffb000 204px,#ffaa00 210px,#ffa400 216px,#ff9e00 222px,#ff9700 228px,#ff9000 234px,#ff8a00 240px,#ff8300 246px,#ff7c00 252px)"></i><i style="background:linear-gradient(90deg,#0de328 0px,#0ce427 6px,#0ae427 12px,#08e626 18px,#06e925 24px,#04ec25 30px,#01f024 36px,#00f422 42px,#00f71f 48px,#00f91b 54px,#00fa17 60px,#01fb13 66px,#08fa0f 72px,#14f80d 78px,#25f50b 84px,#3ef10a 90px,#5dee09 96px,#7deb09 102px,#9be808 108px,#b4e507 114px,#c7e305 120px,#d6e103 126px,#e0de01 132px,#e7db00 138px,#ecd800 144px,#eed400 150px,#f1d100 156px,#f3cd00 162px,#f6ca00 168px,#f9c600 174px,#fdc200 180px,#ffbf00 186px,#ffba00 192px,#ffb500 198px,#ffb000 204px,#ffaa00 210px,#ffa400 216px,#ff9d00 222px,#ff9700 228px,#ff9000 234px,#ff8900 240px,#ff8200 246px,#ff7b00 252px)"></i><i style="background:linear-gradient(90deg,#0de329 0px,#0be328 6px,#0ae427 12px,#08e626 18px,#06e926 24px,#04ec25 30px,#02f024 36px,#00f322 42px,#00f61f 48px,#00f81b 54px,#00fa17 60px,#01fb13 66px,#08fa0f 72px,#13f80c 78px,#23f50a 84px,#3df109 90px,#5cee09 96px,#7beb09 102px,#99e808 108px,#b2e606 114px,#c6e405 120px,#d5e203 126px,#dfdf01 132px,#e6dc00 138px,#ead900 144px,#edd500 150px,#efd100 156px,#f1ce00 162px,#f4ca00 168px,#f7c700 174px,#fbc300 180px,#ffbf00 186px,#ffbb00 192px,#ffb600 198px,#ffb000 204px,#ffaa00 210px,#ffa400 216px,#ff9d00 222px,#ff9600 228px,#ff8f00 234px,#ff8800 240px,#ff8100 246px,#ff7a00 252px)"></i><i style="background:linear-gradient(90deg,#0de329 0px,#0be328 6px,#0ae427 12px,#08e626 18px,#06e826 24px,#04ec25 30px,#02ef24 36px,#00f322 42px,#00f61f 48px,#00f81b 54px,#00fa17 60px,#01fb13 66px,#08fa0f 72px,#12f90c 78px,#22f60a 84px,#3cf209 90px,#5bef09 96px,#7aec08 102px,#98e907 108px,#b1e706 114px,#c5e504 120px,#d4e302 126px,#dee001 132px,#e5dd00 138px,#e9da00 144px,#ebd600 150px,#edd200 156px,#efce00 162px,#f2cb00 168px,#f5c700 174px,#f9c400 180px,#fec000 186px,#ffbb00 192px,#ffb600 198px,#ffb000 204px,#ffaa00 210px,#ffa400 216px,#ff9d00 222px,#ff9600 228px,#ff8f00 234px,#ff8800 240px,#ff8000 246px,#ff7900 252px)"></i><i style="background:linear-gradient(90deg,#0de329 0px,#0be328 6px,#0ae427 12px,#08e626 18px,#06e825 24px,#04eb25 30px,#02ef24 36px,#00f222 42px,#00f51f 48px,#00f71b 54px,#00f917 60px,#01fa13 66px,#08fb0f 72px,#13fa0c 78px,#23f609 84px,#3cf309 90px,#5aef08 96px,#7aec08 102px,#97ea07 108px,#b0e805 114px,#c4e603 120px,#d3e402 126px,#dde100 132px,#e4de00 138px,#e8db00 144px,#ead700 150px,#ebd300 156px,#edcf00 162px,#f0cb00 168px,#f4c800 174px,#f8c400 180px,#fcc000 186px,#ffbc00 192px,#ffb600 198px,#ffb100 204px,#ffaa00 210px,#ffa400 216px,#ff9d00 222px,#ff9500 228px,#ff8e00 234px,#ff8700 240px,#ff8000 246px,#ff7800 252px)"></i><i style="background:linear-gradient(90deg,#0ce329 0px,#0be328 6px,#0ae427 12px,#08e526 18px,#06e825 24px,#04eb25 30px,#02ee23 36px,#00f121 42px,#00f41f 48px,#00f71b 54px,#00f917 60px,#02fa13 66px,#08fb0f 72px,#13fa0b 78px,#24f709 84px,#3cf308 90px,#5bf008 96px,#7aed07 102px,#96ea06 108px,#afe804 114px,#c3e703 120px,#d2e501 126px,#dce200 132px,#e3df00 138px,#e6dc00 144px,#e8d800 150px,#ead300 156px,#ebd000 162px,#eecc00 168px,#f2c900 174px,#f6c500 180px,#fbc100 186px,#ffbc00 192px,#ffb700 198px,#ffb100 204px,#ffaa00 210px,#ffa300 216px,#ff9c00 222px,#ff9500 228px,#ff8d00 234px,#ff8600 240px,#ff7f00 246px,#ff7700 252px)"></i><i style="background:linear-gradient(90deg,#0ce32a 0px,#0be328 6px,#0ae427 12px,#08e526 18px,#06e725 24px,#04ea24 30px,#02ed23 36px,#00f121 42px,#00f41e 48px,#00f61b 54px,#00f817 60px,#02fa13 66px,#09fb0f 72px,#14fa0b 78px,#25f809 84px,#3ef408 90px,#5bf007 96px,#7aed07 102px,#96eb05 108px,#afe904 114px,#c2e802 120px,#d1e600 126px,#dce400 132px,#e2e100 138px,#e5dd00 144px,#e7d900 150px,#e8d400 156px,#ead000 162px,#eccd00 168px,#f0ca00 174px,#f5c600 180px,#fac200 186px,#ffbd00 192px,#ffb700 198px,#ffb100 204px,#ffaa00 210px,#ffa300 216px,#ff9c00 222px,#ff9400 228px,#ff8d00 234px,#ff8500 240px,#ff7e00 246px,#ff7600 252px)"></i><i style="background:linear-gradient(90deg,#0ce32a 0px,#0be328 6px,#0ae427 12px,#08e526 18px,#06e725 24px,#05ea24 30px,#03ed23 36px,#00f021 42px,#00f31e 48px,#00f61a 54px,#00f817 60px,#03fa12 66px,#0afb0e 72px,#16fa0b 78px,#27f809 84px,#3ff408 90px,#5cf107 96px,#7aee06 102px,#96ec05 108px,#afea03 114px,#c2e901 120px,#d1e700 126px,#dbe500 132px,#e2e200 138px,#e5de00 144px,#e5da00 150px,#e6d500 156px,#e8d100 162px,#ebce00 168px,#efca00 174px,#f4c700 180px,#f9c300 186px,#febe00 192px,#ffb800 198px,#ffb100 204px,#ffab00 210px,#ffa300 216px,#ff9c00 222px,#ff9400 228px,#ff8c00 234px,#ff8400 240px,#ff7d00 246px,#ff7500 252px)"></i><i style="background:linear-gradient(90deg,#0ce32a 0px,#0be328 6px,#0ae427 12px,#08e526 18px,#07e725 24px,#05e924 30px,#03ec22 36px,#01ef20 42px,#00f21e 48px,#00f51a 54px,#00f716 60px,#04f912 66px,#0bfa0e 72px,#17fa0b 78px,#29f809 84px,#41f508 90px,#5ef107 96px,#7bee06 102px,#97ec04 108px,#afeb02 114px,#c2ea00 120px,#d1e800 126px,#dbe600 132px,#e1e400 138px,#e4df00 144px,#e4db00 150px,#e4d600 156px,#e6d200 162px,#e9cf00 168px,#edcb00 174px,#f2c800 180px,#f8c400 186px,#fdbe00 192px,#ffb800 198px,#ffb200 204px,#ffab00 210px,#ffa300 216px,#ff9b00 222px,#ff9300 228px,#ff8b00 234px,#ff8400 240px,#ff7c00 246px,#ff7400 252px)"></i><i style="background:linear-gradient(90deg,#0ce32a 0px,#0be328 6px,#0ae327 12px,#08e526 18px,#07e624 24px,#05e823 30px,#03eb22 36px,#01ee20 42px,#00f11d 48px,#00f41a 54px,#01f716 60px,#05f812 66px,#0dfa0e 72px,#19fa0b 78px,#2bf809 84px,#43f507 90px,#60f106 96px,#7def05 102px,#98ed03 108px,#afec01 114px,#c2eb00 120px,#d1ea00 126px,#dbe800 132px,#e1e500 138px,#e3e100 144px,#e3dc00 150px,#e3d700 156px,#e4d300 162px,#e8d000 168px,#eccd00 174px,#f1c900 180px,#f7c500 186px,#fcbf00 192px,#ffb900 198px,#ffb200 204px,#ffab00 210px,#ffa300 216px,#ff9b00 222px,#ff9300 228px,#ff8b00 234px,#ff8300 240px,#ff7b00 246px,#ff7300 252px)"></i><i style="background:linear-gradient(90deg,#0ce32b 0px,#0be329 6px,#0ae327 12px,#08e425 18px,#07e624 24px,#05e823 30px,#04eb22 36px,#02ee20 42px,#00f11d 48px,#00f31a 54px,#02f616 60px,#06f812 66px,#0ef90e 72px,#1bf90b 78px,#2df808 84px,#45f507 90px,#61f106 96px,#7eef05 102px,#99ed02 108px,#b0ec00 114px,#c3ec00 120px,#d1eb00 126px,#dbe900 132px,#e1e700 138px,#e3e200 144px,#e2dd00 150px,#e1d800 156px,#e3d400 162px,#e6d100 168px,#ebce00 174px,#f0ca00 180px,#f6c600 186px,#fbc000 192px,#ffba00 198px,#ffb200 204px,#ffab00 210px,#ffa300 216px,#ff9a00 222px,#ff9200 228px,#ff8a00 234px,#ff8200 240px,#ff7a00 246px,#ff7200 252px)"></i><i style="background:linear-gradient(90deg,#0ce32b 0px,#0be329 6px,#0ae327 12px,#08e425 18px,#07e624 24px,#06e723 30px,#04ea21 36px,#02ed20 42px,#01f01d 48px,#01f31a 54px,#02f516 60px,#07f712 66px,#0ff80e 72px,#1cf90b 78px,#2ff708 84px,#47f407 90px,#63f106 96px,#80ef04 102px,#9aee02 108px,#b1ed00 114px,#c4ed00 120px,#d2ec00 126px,#dceb00 132px,#e1e800 138px,#e3e400 144px,#e1de00 150px,#e0d900 156px,#e1d500 162px,#e5d200 168px,#eacf00 174px,#f0cb00 180px,#f5c700 186px,#fac100 192px,#ffba00 198px,#ffb300 204px,#ffab00 210px,#ffa200 216px,#ff9a00 222px,#ff9100 228px,#ff8900 234px,#ff8100 240px,#ff7900 246px,#ff7100 252px)"></i><i style="background:linear-gradient(90deg,#0ce32b 0px,#0be329 6px,#0ae327 12px,#09e425 18px,#07e524 24px,#06e723 30px,#04e921 36px,#03ec1f 42px,#02ef1d 48px,#02f21a 54px,#03f416 60px,#08f612 66px,#11f80e 72px,#1ef80b 78px,#31f708 84px,#49f406 90px,#65f105 96px,#82ef03 102px,#9bee01 108px,#b2ee00 114px,#c4ee00 120px,#d3ee00 126px,#dded00 132px,#e2ea00 138px,#e3e600 144px,#e1e000 150px,#dfda00 156px,#e0d600 162px,#e4d300 168px,#e9d000 174px,#efcd00 180px,#f4c800 186px,#fac200 192px,#ffbb00 198px,#ffb300 204px,#ffab00 210px,#ffa200 216px,#ff9900 222px,#ff9100 228px,#ff8800 234px,#ff8000 240px,#ff7700 246px,#ff6f00 252px)"></i><i style="background:linear-gradient(90deg,#0ce32b 0px,#0be329 6px,#0ae327 12px,#09e425 18px,#07e524 24px,#06e722 30px,#05e921 36px,#03ec1f 42px,#02ee1d 48px,#02f11a 54px,#04f316 60px,#09f513 66px,#12f70f 72px,#1ff70b 78px,#33f608 84px,#4bf406 90px,#67f105 96px,#84ef03 102px,#9def00 108px,#b3ef00 114px,#c5ef00 120px,#d3ef00 126px,#ddee00 132px,#e3ec00 138px,#e3e800 144px,#e0e100 150px,#dedb00 156px,#dfd700 162px,#e3d500 168px,#e9d200 174px,#efce00 180px,#f4c900 186px,#f9c300 192px,#febc00 198px,#ffb300 204px,#ffab00 210px,#ffa200 216px,#ff9900 222px,#ff9000 228px,#ff8700 234px,#ff7e00 240px,#ff7600 246px,#ff6e00 252px)"></i><i style="background:linear-gradient(90deg,#0ce32c 0px,#0be329 6px,#0ae327 12px,#09e425 18px,#08e524 24px,#06e622 30px,#05e921 36px,#04eb1f 42px,#03ed1d 48px,#03f01a 54px,#05f217 60px,#0af513 66px,#13f60f 72px,#21f60b 78px,#34f508 84px,#4df305 90px,#69f104 96px,#85ef02 102px,#9eef00 108px,#b4ef00 114px,#c6f000 120px,#d4f000 126px,#def000 132px,#e4ee00 138px,#e4e900 144px,#e0e300 150px,#dddc00 156px,#ded900 162px,#e3d600 168px,#e9d400 174px,#eed000 180px,#f4ca00 186px,#f9c400 192px,#febc00 198px,#ffb400 204px,#ffab00 210px,#ffa200 216px,#ff9800 222px,#ff8f00 228px,#ff8600 234px,#ff7d00 240px,#ff7500 246px,#ff6d00 252px)"></i><i style="background:linear-gradient(90deg,#0ce32c 0px,#0be329 6px,#0ae327 12px,#09e425 18px,#08e524 24px,#06e622 30px,#05e821 36px,#04ea1f 42px,#03ed1d 48px,#04ef1a 54px,#06f217 60px,#0bf413 66px,#14f50f 72px,#22f60b 78px,#36f507 84px,#4ef305 90px,#6bf103 96px,#87ef01 102px,#a0ef00 108px,#b5f000 114px,#c7f100 120px,#d5f100 126px,#dff100 132px,#e5f000 138px,#e5eb00 144px,#e0e500 150px,#dcde00 156px,#deda00 162px,#e3d800 168px,#e9d500 174px,#eed100 180px,#f4cc00 186px,#f9c500 192px,#fdbd00 198px,#ffb400 204px,#ffab00 210px,#ffa100 216px,#ff9800 222px,#ff8e00 228px,#ff8500 234px,#ff7c00 240px,#ff7300 246px,#ff6b00 252px)"></i><i style="background:linear-gradient(90deg,#0ce42d 0px,#0be32a 6px,#0ae327 12px,#09e425 18px,#08e524 24px,#07e622 30px,#05e821 36px,#04ea1f 42px,#04ec1d 48px,#04ee1b 54px,#07f117 60px,#0bf313 66px,#14f40f 72px,#23f50b 78px,#36f407 84px,#50f304 90px,#6cf101 96px,#89ef00 102px,#a1f000 108px,#b6f000 114px,#c8f100 120px,#d6f200 126px,#e0f300 132px,#e6f200 138px,#e6ee00 144px,#e1e600 150px,#dcdf00 156px,#dedc00 162px,#e3da00 168px,#e9d700 174px,#efd300 180px,#f4cd00 186px,#f9c600 192px,#fdbd00 198px,#ffb400 204px,#ffaa00 210px,#ffa100 216px,#ff9700 222px,#ff8d00 228px,#ff8400 234px,#ff7b00 240px,#ff7200 246px,#ff6a00 252px)"></i><i style="background:linear-gradient(90deg,#0ce42d 0px,#0be42a 6px,#0ae428 12px,#09e426 18px,#08e524 24px,#07e623 30px,#06e721 36px,#05e920 42px,#04eb1e 48px,#05ed1b 54px,#07f017 60px,#0cf213 66px,#15f30f 72px,#23f40b 78px,#37f406 84px,#51f203 90px,#6df100 96px,#8af000 102px,#a2f000 108px,#b8f100 114px,#c9f200 120px,#d7f300 126px,#e2f400 132px,#e8f400 138px,#e7f000 144px,#e2e801 150px,#dde100 156px,#dfde00 162px,#e4dc00 168px,#eada00 174px,#efd500 180px,#f4cf00 186px,#f9c700 192px,#fdbe00 198px,#ffb400 204px,#ffaa00 210px,#ffa000 216px,#ff9600 222px,#ff8c00 228px,#ff8200 234px,#ff7900 240px,#ff7000 246px,#ff6800 252px)"></i><i style="background:linear-gradient(90deg,#0ce42e 0px,#0be42b 6px,#0ae428 12px,#09e426 18px,#08e524 24px,#07e623 30px,#06e722 36px,#05e920 42px,#05eb1e 48px,#06ed1b 54px,#08ef18 60px,#0cf114 66px,#15f30f 72px,#23f30b 78px,#37f306 84px,#51f201 90px,#6ef100 96px,#8bf000 102px,#a3f000 108px,#b9f100 114px,#caf300 120px,#d8f400 126px,#e3f500 132px,#e9f500 138px,#e9f200 144px,#e4eb02 150px,#dfe400 156px,#e0e100 162px,#e5df00 168px,#eadc00 174px,#f0d700 180px,#f5d000 186px,#f9c800 192px,#fdbe00 198px,#ffb400 204px,#ffaa00 210px,#ff9f00 216px,#ff9500 222px,#ff8b00 228px,#ff8100 234px,#ff7800 240px,#ff6f00 246px,#ff6600 252px)"></i><i style="background:linear-gradient(90deg,#0de42f 0px,#0be42b 6px,#0ae429 12px,#09e426 18px,#08e525 24px,#07e623 30px,#06e722 36px,#05e821 42px,#05ea1f 48px,#06ec1c 54px,#08ee19 60px,#0df014 66px,#15f210 72px,#23f30b 78px,#38f305 84px,#51f200 90px,#6ef100 96px,#8bf000 102px,#a4f000 108px,#baf200 114px,#cbf300 120px,#d9f500 126px,#e3f600 132px,#eaf600 138px,#eaf301 144px,#e5ed02 150px,#e1e701 156px,#e2e400 162px,#e6e200 168px,#ecde00 174px,#f1d900 180px,#f5d200 186px,#f9c900 192px,#fdbf00 198px,#ffb400 204px,#ffa900 210px,#ff9e00 216px,#ff9400 222px,#ff8900 228px,#ff8000 234px,#ff7600 240px,#ff6d00 246px,#ff6500 252px)"></i><i style="background:linear-gradient(90deg,#0de530 0px,#0ce42c 6px,#0ae429 12px,#09e427 18px,#08e525 24px,#07e624 30px,#06e723 36px,#05e821 42px,#06e91f 48px,#06eb1d 54px,#08ed19 60px,#0def15 66px,#15f110 72px,#23f20b 78px,#37f205 84px,#52f200 90px,#6ff100 96px,#8cf000 102px,#a5f100 108px,#bbf200 114px,#ccf400 120px,#daf500 126px,#e4f700 132px,#eaf700 138px,#ebf402 144px,#e7ef04 150px,#e3ea02 156px,#e4e700 162px,#e8e400 168px,#ede100 174px,#f2db00 180px,#f6d300 186px,#f9ca00 192px,#fdbf00 198px,#ffb400 204px,#ffa900 210px,#ff9d00 216px,#ff9300 222px,#ff8800 228px,#ff7e00 234px,#ff7500 240px,#ff6c00 246px,#ff6300 252px)"></i><i style="background:linear-gradient(90deg,#0de531 0px,#0ce42d 6px,#0ae42a 12px,#09e427 18px,#08e526 24px,#07e525 30px,#06e623 36px,#06e722 42px,#06e920 48px,#07ea1e 54px,#09ec1a 60px,#0cee16 66px,#14f011 72px,#22f20b 78px,#37f205 84px,#51f100 90px,#6ff100 96px,#8cf000 102px,#a6f100 108px,#bcf200 114px,#cdf400 120px,#dbf600 126px,#e5f700 132px,#ebf701 138px,#ecf504 144px,#e8f105 150px,#e6ec03 156px,#e6e900 162px,#eae700 168px,#efe300 174px,#f3dd00 180px,#f6d400 186px,#faca00 192px,#fdbf00 198px,#ffb400 204px,#ffa800 210px,#ff9c00 216px,#ff9100 222px,#ff8700 228px,#ff7c00 234px,#ff7300 240px,#ff6a00 246px,#ff6100 252px)"></i><i style="background:linear-gradient(90deg,#0de532 0px,#0ce52e 6px,#0be52b 12px,#09e528 18px,#08e527 24px,#07e625 30px,#06e624 36px,#06e723 42px,#06e821 48px,#07ea1f 54px,#08eb1b 60px,#0cee16 66px,#14f011 72px,#21f10b 78px,#36f104 84px,#51f100 90px,#6ff000 96px,#8df000 102px,#a7f100 108px,#bdf200 114px,#cef400 120px,#dcf600 126px,#e5f700 132px,#ebf804 138px,#ecf606 144px,#eaf207 150px,#e8ef04 156px,#e9ec00 162px,#ecea00 168px,#f0e600 174px,#f4df00 180px,#f7d600 186px,#facb00 192px,#fdbf00 198px,#ffb300 204px,#ffa700 210px,#ff9b00 216px,#ff9000 222px,#ff8500 228px,#ff7b00 234px,#ff7100 240px,#ff6800 246px,#ff5f00 252px)"></i><i style="background:linear-gradient(90deg,#0de633 0px,#0ce52f 6px,#0be52c 12px,#09e529 18px,#08e528 24px,#07e626 30px,#06e625 36px,#05e724 42px,#06e822 48px,#07e920 54px,#08eb1c 60px,#0bed17 66px,#13ef12 72px,#20f00c 78px,#35f104 84px,#51f100 90px,#70f000 96px,#8ef000 102px,#a8f100 108px,#bef300 114px,#cff400 120px,#dcf600 126px,#e6f702 132px,#ecf806 138px,#edf609 144px,#ebf409 150px,#eaf106 156px,#ebef00 162px,#eeed00 168px,#f2e800 174px,#f5e100 180px,#f8d700 186px,#fbcb00 192px,#fdbf00 198px,#ffb200 204px,#ffa600 210px,#ff9a00 216px,#ff8e00 222px,#ff8300 228px,#ff7900 234px,#ff6f00 240px,#ff6600 246px,#ff5d00 252px)"></i><i style="background:linear-gradient(90deg,#0de635 0px,#0ce531 6px,#0be52d 12px,#09e52a 18px,#08e529 24px,#07e628 30px,#06e627 36px,#05e725 42px,#05e824 48px,#06e821 54px,#08ea1d 60px,#0aec18 66px,#11ee12 72px,#1ff00c 78px,#34f105 84px,#50f000 90px,#70f000 96px,#8ff000 102px,#aaf100 108px,#c0f300 114px,#d0f400 120px,#ddf600 126px,#e7f705 132px,#ecf80a 138px,#edf70c 144px,#edf50c 150px,#ecf309 156px,#edf102 162px,#f0ef00 168px,#f4ea00 174px,#f6e200 180px,#f9d800 186px,#fbcc00 192px,#fdbf00 198px,#ffb200 204px,#ffa500 210px,#ff9800 216px,#ff8c00 222px,#ff8100 228px,#ff7700 234px,#ff6d00 240px,#ff6400 246px,#ff5b00 252px)"></i><i style="background:linear-gradient(90deg,#0ee637 0px,#0ce632 6px,#0be62e 12px,#09e52c 18px,#08e62a 24px,#07e629 30px,#05e628 36px,#05e727 42px,#05e725 48px,#06e822 54px,#07e91e 60px,#09ec19 66px,#10ee13 72px,#1def0d 78px,#33f005 84px,#50f000 90px,#70f000 96px,#90f000 102px,#abf100 108px,#c1f300 114px,#d2f400 120px,#def602 126px,#e7f709 132px,#ecf70e 138px,#eef710 144px,#eef610 150px,#eef50c 156px,#eff405 162px,#f2f200 168px,#f5ec00 174px,#f8e400 180px,#f9d800 186px,#fbcc00 192px,#fdbe00 198px,#ffb100 204px,#ffa300 210px,#ff9700 216px,#ff8b00 222px,#ff7f00 228px,#ff7500 234px,#ff6b00 240px,#ff6200 246px,#ff5900 252px)"></i><i style="background:linear-gradient(90deg,#0ee738 0px,#0de634 6px,#0be630 12px,#0ae62d 18px,#08e62c 24px,#06e62b 30px,#05e72a 36px,#04e729 42px,#04e727 48px,#05e824 54px,#05e920 60px,#08eb1a 66px,#0fed14 72px,#1cef0e 78px,#32f006 84px,#50f000 90px,#70ef00 96px,#91f000 102px,#adf100 108px,#c3f200 114px,#d3f400 120px,#e0f607 126px,#e8f60e 132px,#edf713 138px,#eef715 144px,#eff614 150px,#eff610 156px,#f1f508 162px,#f4f400 168px,#f7ee00 174px,#f9e500 180px,#fad900 186px,#fbcb00 192px,#fdbd00 198px,#ffaf00 204px,#ffa200 210px,#ff9500 216px,#ff8800 222px,#ff7d00 228px,#ff7300 234px,#ff6900 240px,#ff6000 246px,#ff5700 252px)"></i><i style="background:linear-gradient(90deg,#0ee73b 0px,#0de736 6px,#0be632 12px,#0ae62f 18px,#08e62e 24px,#06e62d 30px,#05e72c 36px,#03e72b 42px,#03e729 48px,#03e826 54px,#04e921 60px,#06eb1c 66px,#0ded15 72px,#1bee0f 78px,#31ef06 84px,#4fef00 90px,#71ef00 96px,#92f000 102px,#aff100 108px,#c5f200 114px,#d5f403 120px,#e1f50d 126px,#e9f614 132px,#edf618 138px,#eff71a 144px,#f0f719 150px,#f1f715 156px,#f3f70c 162px,#f6f501 168px,#f8f000 174px,#fae600 180px,#fad900 186px,#fccb00 192px,#fdbc00 198px,#ffae00 204px,#ffa000 210px,#ff9300 216px,#ff8600 222px,#ff7b00 228px,#ff7000 234px,#ff6600 240px,#ff5d00 246px,#ff5500 252px)"></i><i style="background:linear-gradient(90deg,#0ee83d 0px,#0de738 6px,#0ce734 12px,#0ae731 18px,#08e730 24px,#06e72f 30px,#04e72e 36px,#02e72d 42px,#01e72b 48px,#01e827 54px,#01e923 60px,#04ea1d 66px,#0bec17 72px,#1aee10 78px,#31ee07 84px,#4fee00 90px,#71ef00 96px,#93ef00 102px,#b0f100 108px,#c7f200 114px,#d7f409 120px,#e3f514 126px,#eaf51b 132px,#eef61f 138px,#eff620 144px,#f0f71f 150px,#f2f81a 156px,#f4f811 162px,#f7f705 168px,#faf100 174px,#fae600 180px,#fbd900 186px,#fcca00 192px,#fdbb00 198px,#feac00 204px,#ff9e00 210px,#ff9000 216px,#ff8400 222px,#ff7800 228px,#ff6e00 234px,#ff6400 240px,#ff5b00 246px,#ff5300 252px)"></i><i style="background:linear-gradient(90deg,#0fe83f 0px,#0de83b 6px,#0ce736 12px,#0ae733 18px,#08e732 24px,#06e732 30px,#04e731 36px,#02e82f 42px,#00e82d 48px,#00e829 54px,#00e924 60px,#02ea1f 66px,#0aec18 72px,#19ed11 78px,#30ee09 84px,#4fee00 90px,#71ee00 96px,#94ef00 102px,#b2f000 108px,#c9f203 114px,#d9f412 120px,#e4f41d 126px,#ebf523 132px,#eef526 138px,#f0f626 144px,#f1f725 150px,#f3f821 156px,#f5f917 162px,#f8f70a 168px,#faf100 174px,#fbe600 180px,#fbd800 186px,#fcc900 192px,#fdb900 198px,#feaa00 204px,#ff9c00 210px,#ff8e00 216px,#ff8100 222px,#ff7600 228px,#ff6b00 234px,#ff6200 240px,#ff5900 246px,#ff5000 252px)"></i><i style="background:linear-gradient(90deg,#0fe942 0px,#0ee83d 6px,#0ce839 12px,#0ae836 18px,#08e835 24px,#06e834 30px,#03e834 36px,#01e832 42px,#00e82f 48px,#00e82b 54px,#00e926 60px,#00ea21 66px,#08eb1a 72px,#18ec13 78px,#30ed0b 84px,#4fed02 90px,#72ee00 96px,#95ef00 102px,#b4f000 108px,#cbf20c 114px,#dbf31c 120px,#e6f427 126px,#ecf42c 132px,#eff42e 138px,#f0f52d 144px,#f1f72c 150px,#f3f928 156px,#f6f91e 162px,#f9f710 168px,#fbf103 174px,#fbe500 180px,#fbd700 186px,#fbc700 192px,#fcb800 198px,#fea800 204px,#ff9900 210px,#ff8b00 216px,#ff7f00 222px,#ff7300 228px,#ff6900 234px,#ff5f00 240px,#ff5600 246px,#ff4e00 252px)"></i><i style="background:linear-gradient(90deg,#0fe945 0px,#0ee940 6px,#0de83c 12px,#0be839 18px,#09e838 24px,#06e838 30px,#03e837 36px,#00e835 42px,#00e832 48px,#00e82e 54px,#00e929 60px,#00ea23 66px,#06eb1d 72px,#17eb16 78px,#2fec0e 84px,#4eec06 90px,#72ed00 96px,#96ee00 102px,#b5f003 108px,#cdf216 114px,#ddf327 120px,#e8f432 126px,#edf436 132px,#f0f336 138px,#f0f435 144px,#f2f634 150px,#f4f92f 156px,#f6f926 162px,#f9f717 168px,#fbf008 174px,#fbe400 180px,#fbd600 186px,#fbc600 192px,#fcb500 198px,#fda500 204px,#ff9600 210px,#ff8800 216px,#ff7c00 222px,#ff7000 228px,#ff6600 234px,#ff5c00 240px,#ff5400 246px,#ff4b00 252px)"></i><i style="background:linear-gradient(90deg,#10ea49 0px,#0fe944 6px,#0de940 12px,#0be93d 18px,#09e93c 24px,#06e93b 30px,#03e93a 36px,#00e938 42px,#00e935 48px,#00e831 54px,#00e92b 60px,#00e925 66px,#04ea1f 72px,#16eb19 78px,#2feb12 84px,#4eec0b 90px,#72ed06 96px,#96ee05 102px,#b6f00e 108px,#cff222 114px,#e0f334 120px,#eaf43f 126px,#eff341 132px,#f0f33f 138px,#f1f33d 144px,#f2f63c 150px,#f4f838 156px,#f7f92e 162px,#f9f61f 168px,#faef0f 174px,#fae301 180px,#fad400 186px,#fbc400 192px,#fbb300 198px,#fda300 204px,#fe9300 210px,#ff8500 216px,#ff7900 222px,#ff6d00 228px,#ff6300 234px,#ff5a00 240px,#ff5100 246px,#ff4900 252px)"></i><i style="background:linear-gradient(90deg,#10ea4c 0px,#0fea48 6px,#0eea44 12px,#0ce941 18px,#09e940 24px,#06e93f 30px,#02ea3e 36px,#00e93c 42px,#00e939 48px,#00e934 54px,#00e92e 60px,#00e928 66px,#02ea22 72px,#15ea1c 78px,#2eeb16 84px,#4eeb10 90px,#72ec0d 96px,#96ee0f 102px,#b7f01a 108px,#d0f22f 114px,#e2f342 120px,#ecf34c 126px,#f0f34d 132px,#f1f249 138px,#f1f346 144px,#f2f545 150px,#f4f841 156px,#f7f837 162px,#f9f527 168px,#faee15 174px,#fae105 180px,#fad200 186px,#fac100 192px,#fbb000 198px,#fca000 204px,#fd9000 210px,#ff8200 216px,#ff7600 222px,#ff6a00 228px,#ff6000 234px,#ff5700 240px,#ff4e00 246px,#ff4600 252px)"></i><i style="background:linear-gradient(90deg,#11eb50 0px,#10eb4c 6px,#0eea48 12px,#0cea45 18px,#0aea44 24px,#07ea44 30px,#02ea42 36px,#00ea40 42px,#00ea3c 48px,#00e938 54px,#00e932 60px,#00e92c 66px,#00e926 72px,#14ea20 78px,#2eea1b 84px,#4eea17 90px,#72eb15 96px,#96ed1a 102px,#b8f028 108px,#d2f23f 114px,#e4f452 120px,#eff35b 126px,#f2f259 132px,#f1f153 138px,#f1f24f 144px,#f2f54e 150px,#f5f74a 156px,#f7f840 162px,#f8f42f 168px,#f9ec1c 174px,#f9df0a 180px,#f9cf00 186px,#f9be00 192px,#faad00 198px,#fb9c00 204px,#fd8d00 210px,#fe7f00 216px,#ff7200 222px,#ff6700 228px,#ff5d00 234px,#ff5400 240px,#ff4b00 246px,#ff4400 252px)"></i><i style="background:linear-gradient(90deg,#11eb54 0px,#10eb50 6px,#0feb4d 12px,#0deb4a 18px,#0beb49 24px,#07eb48 30px,#02eb47 36px,#00eb44 42px,#00ea41 48px,#00e93c 54px,#00e936 60px,#00e930 66px,#00e92a 72px,#13e925 78px,#2ee921 84px,#4eea1e 90px,#71eb1f 96px,#96ed26 102px,#b8f037 108px,#d4f24f 114px,#e7f462 120px,#f1f46a 126px,#f3f266 132px,#f2f05e 138px,#f1f158 144px,#f3f458 150px,#f5f755 156px,#f7f74a 162px,#f8f338 168px,#f8ea22 174px,#f8dd0e 180px,#f8cd00 186px,#f8bb00 192px,#f9aa00 198px,#fb9900 204px,#fc8900 210px,#fe7b00 216px,#ff6f00 222px,#ff6400 228px,#ff5a00 234px,#ff5100 240px,#ff4900 246px,#ff4100 252px)"></i><i style="background:linear-gradient(90deg,#12ec58 0px,#11ec54 6px,#10eb51 12px,#0eeb4f 18px,#0beb4e 24px,#08eb4d 30px,#03eb4c 36px,#00eb49 42px,#00eb45 48px,#00ea40 54px,#00e93a 60px,#00e934 66px,#00e92f 72px,#12e92b 78px,#2ee927 84px,#4fe926 90px,#72ea28 96px,#96ed33 102px,#b9f046 108px,#d5f35f 114px,#e9f474 120px,#f3f47a 126px,#f5f274 132px,#f3f069 138px,#f2f062 144px,#f3f462 150px,#f5f65f 156px,#f6f654 162px,#f7f140 168px,#f7e828 174px,#f7da12 180px,#f7ca01 186px,#f8b800 192px,#f8a600 198px,#fa9500 204px,#fb8500 210px,#fd7700 216px,#ff6b00 222px,#ff6000 228px,#ff5700 234px,#ff4e00 240px,#ff4600 246px,#ff3e00 252px)"></i><i style="background:linear-gradient(90deg,#12ed5d 0px,#12ec59 6px,#10ec56 12px,#0fec55 18px,#0cec54 24px,#08ec53 30px,#03ec51 36px,#00ec4e 42px,#00eb4a 48px,#00ea45 54px,#00e93f 60px,#00e939 66px,#00e834 72px,#12e831 78px,#2fe82f 84px,#4fe92e 90px,#72ea33 96px,#96ec3f 102px,#b9f055 108px,#d7f370 114px,#ecf585 120px,#f6f48a 126px,#f7f281 132px,#f4f075 138px,#f2f06d 144px,#f3f36c 150px,#f5f669 156px,#f6f55e 162px,#f7ef48 168px,#f6e52e 174px,#f6d716 180px,#f6c704 186px,#f7b400 192px,#f8a200 198px,#f99100 204px,#fb8100 210px,#fc7300 216px,#fe6700 222px,#ff5d00 228px,#ff5300 234px,#ff4b00 240px,#ff4300 246px,#ff3c00 252px)"></i><i style="background:linear-gradient(90deg,#13ed61 0px,#12ed5e 6px,#11ed5c 12px,#0fec5a 18px,#0dec59 24px,#09ec58 30px,#03ed57 36px,#00ec54 42px,#00eb50 48px,#00ea4a 54px,#00e944 60px,#00e83e 66px,#00e83a 72px,#13e838 78px,#31e837 84px,#51e837 90px,#72e93d 96px,#97ec4c 102px,#baf064 108px,#d9f381 114px,#eff597 120px,#f8f59a 126px,#f8f28e 132px,#f5f080 138px,#f3f178 144px,#f3f376 150px,#f5f573 156px,#f6f468 162px,#f6ed50 168px,#f5e333 174px,#f5d419 180px,#f5c306 186px,#f6b000 192px,#f79e00 198px,#f88c00 204px,#fa7d00 210px,#fb6f00 216px,#fd6300 222px,#fe5900 228px,#ff5000 234px,#ff4800 240px,#ff4000 246px,#ff3900 252px)"></i><i style="background:linear-gradient(90deg,#13ee66 0px,#13ee63 6px,#12ed61 12px,#10ed60 18px,#0eed5f 24px,#0aed5e 30px,#04ed5d 36px,#00ed5a 42px,#00ec55 48px,#00eb50 54px,#00e949 60px,#00e844 66px,#00e841 72px,#14e840 78px,#33e73f 84px,#53e841 90px,#74e948 96px,#97ec58 102px,#bbf072 108px,#dbf490 114px,#f2f6a8 120px,#faf5a9 126px,#f9f29b 132px,#f6f08c 138px,#f4f183 144px,#f4f380 150px,#f5f47d 156px,#f5f271 162px,#f5eb56 168px,#f4e037 174px,#f4d11c 180px,#f4bf08 186px,#f4ac00 192px,#f69900 198px,#f78800 204px,#f97800 210px,#fb6a00 216px,#fc5f00 222px,#fd5500 228px,#ff4c00 234px,#ff4400 240px,#ff3d00 246px,#ff3600 252px)"></i><i style="background:linear-gradient(90deg,#14ee6b 0px,#13ee68 6px,#13ee67 12px,#11ee65 18px,#0fed65 24px,#0bed64 30px,#05ed63 36px,#00ed60 42px,#00ec5b 48px,#00eb56 54px,#00e950 60px,#00e84b 66px,#00e848 72px,#17e748 78px,#37e749 84px,#56e74b 90px,#75e952 96px,#98ec64 102px,#bdf080 108px,#ddf49f 114px,#f4f7b7 120px,#fcf6b6 126px,#faf3a6 132px,#f7f197 138px,#f4f18d 144px,#f4f389 150px,#f5f385 156px,#f5f179 162px,#f4e95c 168px,#f3dd3b 174px,#f2cd1d 180px,#f2bb09 186px,#f3a800 192px,#f59500 198px,#f78300 204px,#f87300 210px,#fa6600 216px,#fb5b00 222px,#fc5100 228px,#fe4900 234px,#ff4100 240px,#ff3a00 246px,#ff3300 252px)"></i><i style="background:linear-gradient(90deg,#14ee70 0px,#14ef6e 6px,#13ee6c 12px,#12ee6b 18px,#10ee6b 24px,#0cee6a 30px,#06ee69 36px,#00ee66 42px,#00ed62 48px,#00eb5c 54px,#00e956 60px,#00e852 66px,#00e750 72px,#1ae752 78px,#3ce754 84px,#5ae755 90px,#77e85d 96px,#9aec70 102px,#bff08d 108px,#dff5ac 114px,#f6f7c4 120px,#fdf6c1 126px,#fbf3b0 132px,#f7f1a0 138px,#f5f197 144px,#f4f291 150px,#f4f28c 156px,#f4ef7f 162px,#f3e660 168px,#f2da3d 174px,#f1c91f 180px,#f1b70a 186px,#f2a300 192px,#f49000 198px,#f67e00 204px,#f86e00 210px,#f96100 216px,#fa5600 222px,#fb4d00 228px,#fd4500 234px,#ff3e00 240px,#ff3700 246px,#ff3100 252px)"></i><i style="background:linear-gradient(90deg,#15ef75 0px,#14ef73 6px,#14ef72 12px,#13ee71 18px,#11ee71 24px,#0dee71 30px,#08ee70 36px,#00ee6d 42px,#00ed69 48px,#00eb63 54px,#00e95e 60px,#00e759 66px,#00e759 72px,#1fe75c 78px,#43e75f 84px,#5fe760 90px,#7ae868 96px,#9cec7c 102px,#c1f199 108px,#e0f5b7 114px,#f6f7cd 120px,#fdf6ca 126px,#fbf3b8 132px,#f8f2a9 138px,#f5f19f 144px,#f4f299 150px,#f4f192 156px,#f4ed83 162px,#f2e363 168px,#f1d63f 174px,#f0c61f 180px,#f0b20a 186px,#f19e00 192px,#f38a00 198px,#f57800 204px,#f76900 210px,#f85c00 216px,#f95200 222px,#fa4900 228px,#fc4200 234px,#fd3b00 240px,#ff3400 246px,#ff2e00 252px)"></i><i style="background:linear-gradient(90deg,#15ef7a 0px,#15ef79 6px,#14ef78 12px,#13ef78 18px,#12ee78 24px,#0eee78 30px,#09ee77 36px,#00ee74 42px,#00ed70 48px,#00eb6b 54px,#00e865 60px,#00e761 66px,#00e762 72px,#26e768 78px,#4ce76b 84px,#66e76c 90px,#7fe872 96px,#a0ec87 102px,#c4f1a4 108px,#e2f5c0 114px,#f7f7d3 120px,#fdf6d0 126px,#fbf3bf 132px,#f8f2b0 138px,#f5f2a6 144px,#f4f19e 150px,#f4ef96 156px,#f3ea84 162px,#f1e064 168px,#efd240 174px,#eec120 180px,#eeae0b 186px,#f09900 192px,#f38500 198px,#f57300 204px,#f66300 210px,#f75700 216px,#f84e00 222px,#f94600 228px,#fb3e00 234px,#fc3800 240px,#fe3100 246px,#ff2b00 252px)"></i><i style="background:linear-gradient(90deg,#15ef7f 0px,#15f07e 6px,#15f07e 12px,#14ef7e 18px,#12ee7e 24px,#0fee7e 30px,#0aee7e 36px,#02ee7c 42px,#00ed78 48px,#00ea73 54px,#00e86e 60px,#00e76a 66px,#02e66c 72px,#2fe774 78px,#56e879 84px,#6fe878 90px,#84e87d 96px,#a4ed92 102px,#c8f2af 108px,#e4f6c9 114px,#f7f7d8 120px,#fdf6d4 126px,#fbf4c4 132px,#f8f2b7 138px,#f5f2ac 144px,#f4f0a3 150px,#f3ed98 156px,#f2e785 162px,#f0dd65 168px,#eece40 174px,#edbd1f 180px,#eda90b 186px,#ef9401 192px,#f27f00 198px,#f46d00 204px,#f65e00 210px,#f75200 216px,#f74900 222px,#f84200 228px,#f93b00 234px,#fb3500 240px,#fd2e00 246px,#ff2800 252px)"></i><i style="background:linear-gradient(90deg,#15f084 0px,#16f084 6px,#15f083 12px,#15ef84 18px,#13ee85 24px,#10ed85 30px,#0bee85 36px,#03ee83 42px,#00ec80 48px,#00ea7b 54px,#00e776 60px,#00e674 66px,#07e677 72px,#3be882 78px,#63e987 84px,#7ae986 90px,#8be988 96px,#aaee9e 102px,#cdf3b9 108px,#e7f6d0 114px,#f7f8db 120px,#fcf7d8 126px,#faf4c9 132px,#f8f3bd 138px,#f5f1b2 144px,#f4efa7 150px,#f3eb9a 156px,#f1e484 162px,#efd965 168px,#edca40 174px,#ecb81f 180px,#eca40b 186px,#ee8e02 192px,#f17900 198px,#f46700 204px,#f55800 210px,#f64d00 216px,#f64500 222px,#f73e00 228px,#f83801 234px,#fa3200 240px,#fc2c00 246px,#fe2600 252px)"></i><i style="background:linear-gradient(90deg,#16f08a 0px,#16f089 6px,#16f089 12px,#15ef8a 18px,#14ee8b 24px,#11ed8c 30px,#0ced8c 36px,#04ee8b 42px,#00ec87 48px,#00e983 54px,#00e780 60px,#00e57e 66px,#0ee683 72px,#48e891 78px,#72e996 84px,#87ea94 90px,#94ea95 96px,#b2efaa 102px,#d2f5c4 108px,#eaf7d7 114px,#f7f8df 120px,#fcf7dc 126px,#faf5ce 132px,#f8f3c2 138px,#f5f1b6 144px,#f4eeaa 150px,#f2e99a 156px,#f0e184 162px,#eed564 168px,#ecc640 174px,#ebb31f 180px,#eb9f0c 186px,#ee8904 192px,#f17301 198px,#f46101 204px,#f55202 210px,#f54802 216px,#f54002 222px,#f53a02 228px,#f73402 234px,#f82e02 240px,#fa2901 246px,#fc2300 252px)"></i><i style="background:linear-gradient(90deg,#16f08f 0px,#16f08f 6px,#16f08f 12px,#15ef90 18px,#14ee92 24px,#12ec93 30px,#0dec93 36px,#05ed92 42px,#00eb90 48px,#00e98c 54px,#00e689 60px,#00e48a 66px,#1ae591 72px,#58e8a1 78px,#81eaa6 84px,#95eca3 90px,#a2eda4 96px,#bdf2b6 102px,#d9f6cf 108px,#eef8de 114px,#f8f8e2 120px,#fcf8e0 126px,#faf6d4 132px,#f8f4c8 138px,#f5f1ba 144px,#f3ecac 150px,#f2e69a 156px,#f0dd82 162px,#eed163 168px,#ebc140 174px,#eaae20 180px,#eb990e 186px,#ed8305 192px,#f16d03 198px,#f35b03 204px,#f44d04 210px,#f44304 216px,#f43c04 222px,#f43604 228px,#f53104 234px,#f72c04 240px,#f92603 246px,#fb2001 252px)"></i><i style="background:linear-gradient(90deg,#16f094 0px,#16f194 6px,#16f195 12px,#16f096 18px,#15ed98 24px,#12eb9a 30px,#0deb9a 36px,#05ec9a 42px,#00ea98 48px,#00e895 54px,#00e593 60px,#00e395 66px,#27e49f 72px,#68e8b1 78px,#91ebb5 84px,#a5eeb2 90px,#b2f0b4 96px,#c8f4c3 102px,#e1f8d9 108px,#f2fae6 114px,#f9f9e6 120px,#fcfae4 126px,#faf8da 132px,#f8f5cd 138px,#f5f0be 144px,#f3eaad 150px,#f1e39a 156px,#efda81 162px,#edcd62 168px,#ebbc40 174px,#e9a922 180px,#ea9410 186px,#ed7d07 192px,#f06705 198px,#f35405 204px,#f44705 210px,#f43e05 216px,#f33805 222px,#f33305 228px,#f42e05 234px,#f62905 240px,#f82304 246px,#fa1e03 252px)"></i><i style="background:linear-gradient(90deg,#16f099 0px,#16f19a 6px,#16f19b 12px,#16f09c 18px,#15ed9e 24px,#12eaa0 30px,#0deaa1 36px,#05eaa1 42px,#00e9a0 48px,#00e79e 54px,#00e49d 60px,#05e2a1 66px,#32e3ad 72px,#77e8c0 78px,#9eecc3 84px,#b4f0c1 90px,#c3f3c3 96px,#d5f7d0 102px,#e9fae3 108px,#f6fbed 114px,#fbfaea 120px,#fcfbe8 126px,#fbfae0 132px,#f8f5d1 138px,#f5efc0 144px,#f3e8ae 150px,#f1e099 156px,#efd67f 162px,#ecc861 168px,#eab741 174px,#e9a424 180px,#ea8e12 186px,#ed7709 192px,#f06106 198px,#f34e07 204px,#f44107 210px,#f33906 216px,#f13406 222px,#f12f06 228px,#f22b06 234px,#f42606 240px,#f62105 246px,#f81b04 252px)"></i><i style="background:linear-gradient(90deg,#16ef9e 0px,#16f09f 6px,#16f1a0 12px,#15f0a2 18px,#14eda5 24px,#12e9a7 30px,#0de9a8 36px,#05e9a9 42px,#00e8a8 48px,#00e6a7 54px,#00e3a7 60px,#0be1ac 66px,#3ae1b9 72px,#7ee6cb 78px,#a8eccf 84px,#c3f2cf 90px,#d3f6d1 96px,#e1fadc 102px,#f0fcec 108px,#fbfdf4 114px,#fcfbef 120px,#fdfced 126px,#fbfbe6 132px,#f8f5d5 138px,#f5edc2 144px,#f2e5ae 150px,#f0dc98 156px,#eed17e 162px,#ecc360 168px,#eab241 174px,#e99e26 180px,#ea8814 186px,#ed710b 192px,#f15a08 198px,#f44808 204px,#f43b08 210px,#f23508 216px,#f03007 222px,#f02c07 228px,#f12808 234px,#f32307 240px,#f51e06 246px,#f71905 252px)"></i><i style="background:linear-gradient(90deg,#15efa4 0px,#16f0a4 6px,#16f1a6 12px,#15f0a8 18px,#14edab 24px,#12e9ad 30px,#0de8af 36px,#05e8b0 42px,#00e7af 48px,#00e5af 54px,#00e1b0 60px,#0fdfb6 66px,#3ddfc2 72px,#7ee4d3 78px,#aeebd9 84px,#d0f4db 90px,#e2fade 96px,#ebfce6 102px,#f7fef3 108px,#fefef9 114px,#fefcf3 120px,#fdfcf0 126px,#fbfbe9 132px,#f8f3d7 138px,#f4ebc2 144px,#f2e2ad 150px,#f0d996 156px,#eecd7c 162px,#ecbe5f 168px,#eaad42 174px,#e99928 180px,#ea8216 186px,#ed6b0d 192px,#f15409 198px,#f44109 204px,#f43609 210px,#f13008 216px,#ef2d08 222px,#ee2908 228px,#ef2509 234px,#f12008 240px,#f31b07 246px,#f51606 252px)"></i><i style="background:linear-gradient(90deg,#15eea9 0px,#15f0aa 6px,#15f1ab 12px,#15f0ae 18px,#14edb1 24px,#11e9b4 30px,#0ce7b6 36px,#05e7b7 42px,#00e6b7 48px,#00e3b7 54px,#00e0b9 60px,#11ddbe 66px,#3dddca 72px,#7ae1d8 78px,#b1eae1 84px,#dcf6e6 90px,#effde9 96px,#f5feef 102px,#fbfff8 108px,#fffefb 114px,#fefcf6 120px,#fdfcf2 126px,#fbf9ea 132px,#f7f1d7 138px,#f4e8c2 144px,#f1deac 150px,#efd494 156px,#eec87a 162px,#ecb95e 168px,#eaa742 174px,#e9932a 180px,#ea7d19 186px,#ed650e 192px,#f24e0a 198px,#f53b09 204px,#f43109 210px,#f02c09 216px,#ed2909 222px,#ec2609 228px,#ed2309 234px,#f01e09 240px,#f21908 246px,#f41406 252px)"></i><i style="background:linear-gradient(90deg,#15edae 0px,#15efaf 6px,#15f0b1 12px,#14f0b3 18px,#13edb6 24px,#10e9ba 30px,#0ce7bc 36px,#05e6be 42px,#00e5bf 48px,#00e2bf 54px,#00dfc1 60px,#12dbc6 66px,#3adad0 72px,#73dddc 78px,#b0e9e7 84px,#e5f8f0 90px,#fafff3 96px,#fcfff5 102px,#fefffa 108px,#fffefc 114px,#fefcf7 120px,#fcfaf2 126px,#faf6e9 132px,#f6eed7 138px,#f3e4c1 144px,#f1daaa 150px,#efcf92 156px,#eec378 162px,#ecb35d 168px,#eba142 174px,#ea8d2b 180px,#ea771a 186px,#ed5f10 192px,#f3480b 198px,#f53609 204px,#f42c09 210px,#ef2809 216px,#eb2609 222px,#ea2409 228px,#eb200a 234px,#ee1b0a 240px,#f01609 246px,#f21107 252px)"></i><i style="background:linear-gradient(90deg,#14ecb2 0px,#15eeb4 6px,#14f0b6 12px,#13f0b9 18px,#12edbc 24px,#10e9c0 30px,#0be6c2 36px,#05e5c5 42px,#00e4c6 48px,#00e1c7 54px,#01dec9 60px,#12d9cd 66px,#35d7d5 72px,#6adade 78px,#ade7ea 84px,#edf9f7 90px,#fffffa 96px,#fffffa 102px,#fffffa 108px,#fffdfb 114px,#fefaf7 120px,#fbf7f1 126px,#f9f3e6 132px,#f5ead4 138px,#f2e0be 144px,#f0d5a7 150px,#efca8f 156px,#eebd76 162px,#ecad5c 168px,#eb9b42 174px,#eb872c 180px,#eb711c 186px,#ee5911 192px,#f4420b 198px,#f63009 204px,#f42708 210px,#ee2508 216px,#e92409 222px,#e8210a 228px,#e91e0a 234px,#ec190b 240px,#ef140a 246px,#f10f08 252px)"></i><i style="background:linear-gradient(90deg,#14ebb7 0px,#14edb9 6px,#14efbb 12px,#13efbe 18px,#11edc2 24px,#0fe9c5 30px,#0ae6c9 36px,#05e4cb 42px,#00e3cd 48px,#00e0ce 54px,#02ddd0 60px,#11d8d3 66px,#30d4d8 72px,#61d6e0 78px,#a8e5ec 84px,#f2fafc 90px,#ffffff 96px,#fffffd 102px,#fffffa 108px,#fefcf9 114px,#fdf8f5 120px,#faf4ee 126px,#f7eee3 132px,#f4e5d1 138px,#f1dabb 144px,#f0cfa4 150px,#efc48c 156px,#eeb773 162px,#eda75b 168px,#ec9543 174px,#eb802d 180px,#ec6b1d 186px,#ef5312 192px,#f53b0b 198px,#f82a08 204px,#f42307 210px,#ed2208 216px,#e72109 222px,#e61f0a 228px,#e71b0b 234px,#eb170b 240px,#ed120a 246px,#ef0d08 252px)"></i><i style="background:linear-gradient(90deg,#14e9bc 0px,#13ebbe 6px,#13edc0 12px,#12eec3 18px,#10ecc7 24px,#0ee8cb 30px,#09e5ce 36px,#04e3d1 42px,#00e2d3 48px,#00dfd5 54px,#03dcd7 60px,#10d7d9 66px,#2bd2dc 72px,#58d3e0 78px,#a3e3ed 84px,#f3fafe 90px,#ffffff 96px,#ffffff 102px,#fefefa 108px,#fdfaf7 114px,#fbf5f2 120px,#f9f0eb 126px,#f6e9df 132px,#f3dfcd 138px,#f1d4b7 144px,#efc9a1 150px,#efbe89 156px,#eeb171 162px,#eea059 168px,#ed8e43 174px,#ed7a2e 180px,#ed641e 186px,#f04d13 192px,#f7350a 198px,#f92507 204px,#f41f06 210px,#ec1f07 216px,#e51f08 222px,#e31d0a 228px,#e5190b 234px,#e9140b 240px,#ec0f0a 246px,#ed0a08 252px)"></i><i style="background:linear-gradient(90deg,#13e7c0 0px,#13e9c2 6px,#12ebc5 12px,#11ecc8 18px,#0febcc 24px,#0de7d0 30px,#09e4d4 36px,#04e2d7 42px,#01e1da 48px,#00dfdc 54px,#05dbdd 60px,#10d6de 66px,#27d1df 72px,#51d1e1 78px,#a0e1ed 84px,#f3fbff 90px,#ffffff 96px,#ffffff 102px,#fdfdfa 108px,#fbf8f5 114px,#f9f2ef 120px,#f7ebe6 126px,#f4e2da 132px,#f1d8c8 138px,#f0cdb3 144px,#efc29d 150px,#efb786 156px,#efaa6f 162px,#ee9958 168px,#ee8742 174px,#ee732f 180px,#ef5e1f 186px,#f24713 192px,#f92f0a 198px,#fb2006 204px,#f41b05 210px,#ea1c07 216px,#e31d08 222px,#e11b09 228px,#e3170b 234px,#e7120b 240px,#ea0d0a 246px,#ec0808 252px)"></i><i style="background:linear-gradient(90deg,#12e5c5 0px,#12e7c7 6px,#11e9ca 12px,#10eacd 18px,#0ee9d1 24px,#0ce5d5 30px,#08e2d9 36px,#04e1dd 42px,#01e0e0 48px,#01dee1 54px,#06dae2 60px,#10d5e3 66px,#26d1e2 72px,#50d0e2 78px,#a2e2ed 84px,#f6fcff 90px,#ffffff 96px,#ffffff 102px,#fbfbf9 108px,#f9f5f2 114px,#f7edeb 120px,#f5e5e1 126px,#f2dcd4 132px,#f0d1c3 138px,#efc5ae 144px,#eeba99 150px,#efaf83 156px,#efa26d 162px,#ef9257 168px,#f08042 174px,#f06c2f 180px,#f15720 186px,#f54113 192px,#fc2a09 198px,#fc1b05 204px,#f41805 210px,#e91a06 216px,#e11b07 222px,#df1909 228px,#e1150a 234px,#e5100b 240px,#e80b0a 246px,#ea0608 252px)"></i><i style="background:linear-gradient(90deg,#12e3c9 0px,#11e5cb 6px,#11e6ce 12px,#0fe7d1 18px,#0de6d5 24px,#0be3da 30px,#07e1de 36px,#04dfe2 42px,#02dee5 48px,#02dce7 54px,#08dae8 60px,#12d5e7 66px,#28d1e5 72px,#57d3e4 78px,#aee6f0 84px,#fcfeff 90px,#ffffff 96px,#fefeff 102px,#f9f9f7 108px,#f7f1ee 114px,#f5e8e6 120px,#f3dfdc 126px,#f1d4cf 132px,#efc9bd 138px,#eebda9 144px,#eeb295 150px,#efa780 156px,#f09a6b 162px,#f18a56 168px,#f17842 174px,#f26530 180px,#f35120 186px,#f73b13 192px,#fd2509 198px,#fd1704 204px,#f41504 210px,#e81705 216px,#de1a07 222px,#dd1708 228px,#df130a 234px,#e30e0a 240px,#e60909 246px,#e80407 252px)"></i><i style="background:linear-gradient(90deg,#11e0cd 0px,#11e2d0 6px,#10e3d2 12px,#0ee4d6 18px,#0ce3da 24px,#0ae0de 30px,#06dee3 36px,#03dde7 42px,#02ddea 48px,#03dbec 54px,#0ad9ec 60px,#15d5eb 66px,#2dd3e9 72px,#65d8e8 78px,#c2edf4 84px,#ffffff 90px,#ffffff 96px,#fbfdfd 102px,#f7f7f5 108px,#f5edea 114px,#f3e3e1 120px,#f1d8d6 126px,#efcdc9 132px,#edc1b7 138px,#edb4a4 144px,#eea991 150px,#f09e7d 156px,#f19169 162px,#f28255 168px,#f27142 174px,#f35e30 180px,#f54b20 186px,#fa3513 192px,#ff2109 198px,#fe1404 204px,#f41203 210px,#e71504 216px,#dd1806 222px,#db1507 228px,#dd1109 234px,#e10c09 240px,#e40709 246px,#e60207 252px)"></i><i style="background:linear-gradient(90deg,#11ded2 0px,#10dfd4 6px,#0fe0d7 12px,#0de0da 18px,#0bdfde 24px,#09dde2 30px,#06dce7 36px,#03dbeb 42px,#02dbef 48px,#04daf0 54px,#0cd8f0 60px,#19d5ee 66px,#35d5ec 72px,#77dded 78px,#d6f4f8 84px,#ffffff 90px,#ffffff 96px,#f9fcfb 102px,#f6f4f2 108px,#f3e8e6 114px,#f1dcdb 120px,#f0d0d1 126px,#eec4c3 132px,#ecb7b1 138px,#ecab9e 144px,#ee9f8d 150px,#f0947a 156px,#f28868 162px,#f37955 168px,#f46942 174px,#f55830 180px,#f74420 186px,#fc3013 192px,#ff1d09 198px,#fe1204 204px,#f41002 210px,#e61303 216px,#dc1505 222px,#da1307 228px,#dc0f08 234px,#df0a08 240px,#e20408 246px,#e40006 252px)"></i><i style="background:linear-gradient(90deg,#10dbd6 0px,#0fdcd8 6px,#0edcda 12px,#0ddcde 18px,#0adbe2 24px,#08dae6 30px,#05d9eb 36px,#03d8f0 42px,#02d8f3 48px,#04d8f4 54px,#0dd6f4 60px,#1cd5f1 66px,#3fd6ef 72px,#89e2f1 78px,#e5f8fb 84px,#ffffff 90px,#fffeff 96px,#f8fbfa 102px,#f4f1ef 108px,#f1e3e1 114px,#f0d5d5 120px,#eec8cb 126px,#ecbbbd 132px,#ebaeab 138px,#eba199 144px,#ee9688 150px,#f18a78 156px,#f37e66 162px,#f57154 168px,#f56142 174px,#f75130 180px,#f93f21 186px,#fd2c13 192px,#ff1a09 198px,#fe1003 204px,#f40e02 210px,#e61003 216px,#dc1304 222px,#d91106 228px,#da0c07 234px,#dd0707 240px,#e00207 246px,#e20005 252px)"></i><i style="background:linear-gradient(90deg,#0fd7d9 0px,#0fd8dc 6px,#0dd8de 12px,#0cd8e2 18px,#09d7e5 24px,#07d6ea 30px,#04d5ef 36px,#02d5f3 42px,#02d6f7 48px,#04d5f8 54px,#0cd4f6 60px,#1fd3f3 66px,#48d7f1 72px,#97e6f4 78px,#edf9fc 84px,#ffffff 90px,#fffdff 96px,#f8f9f9 102px,#f3edeb 108px,#f0dcdb 114px,#eecdcf 120px,#edbfc5 126px,#ecb2b7 132px,#eaa4a5 138px,#eb9794 144px,#ee8b85 150px,#f28076 156px,#f57465 162px,#f66854 168px,#f75a42 174px,#f84a30 180px,#fa3921 186px,#fe2713 192px,#ff1809 198px,#fe0e03 204px,#f30c01 210px,#e60e02 216px,#dc1003 222px,#d80e05 228px,#d90a06 234px,#db0506 240px,#de0006 246px,#e00004 252px)"></i><i style="background:linear-gradient(90deg,#0fd4dd 0px,#0ed4df 6px,#0dd4e2 12px,#0bd4e5 18px,#09d3e9 24px,#06d2ed 30px,#03d1f2 36px,#01d2f6 42px,#01d3fa 48px,#03d2fa 54px,#0bd1f8 60px,#20d1f5 66px,#4ed7f3 72px,#a0e7f5 78px,#f0f7fd 84px,#fffbff 90px,#fff9ff 96px,#f7f6f8 102px,#f2e7e7 108px,#eed4d5 114px,#edc4c9 120px,#ecb6bf 126px,#eba8b2 132px,#ea9aa0 138px,#eb8d8f 144px,#ef8181 150px,#f37673 156px,#f66b64 162px,#f85f53 168px,#f85242 174px,#f94430 180px,#fb3421 186px,#fe2413 192px,#ff1509 198px,#fd0c03 204px,#f30a01 210px,#e60b01 216px,#dc0c02 222px,#d80b04 228px,#d80705 234px,#da0205 240px,#dc0005 246px,#de0003 252px)"></i><i style="background:linear-gradient(90deg,#0ed1e1 0px,#0dd0e3 6px,#0cd0e5 12px,#0acfe8 18px,#08ceec 24px,#05cdf0 30px,#02cdf4 36px,#00cef9 42px,#00cffc 48px,#02cffc 54px,#0acdf9 60px,#1fcef5 66px,#50d4f3 72px,#a3e5f6 78px,#edf3fc 84px,#fff4ff 90px,#fff3fe 96px,#f6f1f6 102px,#f0e0e2 108px,#edcbce 114px,#ecbac2 120px,#ecacba 126px,#eb9ead 132px,#ea8f9a 138px,#eb828a 144px,#f0767e 150px,#f56b72 156px,#f86063 162px,#f95653 168px,#f94a42 174px,#fa3d30 180px,#fb2f21 186px,#fe2013 192px,#ff1309 198px,#fd0a03 204px,#f20801 210px,#e60900 216px,#dc0901 222px,#d80802 228px,#d70403 234px,#d80004 240px,#da0003 246px,#dc0002 252px)"></i><i style="background:linear-gradient(90deg,#0dcde4 0px,#0ccce6 6px,#0bcce8 12px,#09caeb 18px,#07c9ef 24px,#04c8f3 30px,#01c8f7 36px,#00c9fb 42px,#00cbfe 48px,#00cafe 54px,#07c9fa 60px,#1dc9f5 66px,#4ed0f3 72px,#9ee0f5 78px,#e2ecfa 84px,#f9ebfd 90px,#faeafc 96px,#f4e9f3 102px,#efd7dd 108px,#ecc1c7 114px,#ebafbc 120px,#eca2b5 126px,#ec93a8 132px,#eb8596 138px,#ec7786 144px,#f16b7b 150px,#f66170 156px,#f95663 162px,#fa4d53 168px,#fa4341 174px,#fa3730 180px,#fb2a20 186px,#fe1d13 192px,#ff1009 198px,#fc0903 204px,#f20600 210px,#e60600 216px,#dc0600 222px,#d70501 228px,#d60202 234px,#d70002 240px,#d90002 246px,#da0001 252px)"></i><i style="background:linear-gradient(90deg,#0dc9e8 0px,#0cc8e9 6px,#0ac7ec 12px,#09c6ee 18px,#06c4f1 24px,#03c3f5 30px,#00c3f8 36px,#00c4fc 42px,#00c6ff 48px,#00c5fe 54px,#04c4fa 60px,#18c4f5 66px,#48caf2 72px,#94d8f3 78px,#d3e2f6 84px,#ece0f9 90px,#f3def9 96px,#f1ddee 102px,#eeccd7 108px,#ebb5c0 114px,#eba4b5 120px,#ed97b1 126px,#ed89a4 132px,#ec7a92 138px,#ee6d83 144px,#f36179 150px,#f8566f 156px,#fb4d62 162px,#fb4453 168px,#fa3b41 174px,#fa3130 180px,#fb2620 186px,#fd1913 192px,#fe0e09 198px,#fa0703 204px,#f00400 210px,#e50300 216px,#dc0300 222px,#d70200 228px,#d50001 234px,#d60001 240px,#d70001 246px,#d90000 252px)"></i><i style="background:linear-gradient(90deg,#0cc5eb 0px,#0bc4ec 6px,#0ac2ee 12px,#08c0f1 18px,#05bff4 24px,#03bef7 30px,#00befa 36px,#00bffd 42px,#00c0ff 48px,#00c0fe 54px,#00bef9 60px,#13bef4 66px,#3fc3f1 72px,#86cff1 78px,#c2d7f3 84px,#ddd4f4 90px,#ebd1f5 96px,#eed0e9 102px,#edc0d1 108px,#eba9b9 114px,#ec98af 120px,#ee8cad 126px,#ee7ea0 132px,#ee6f8f 138px,#f06281 144px,#f45677 150px,#fa4c6e 156px,#fc4362 162px,#fc3b53 168px,#fb3441 174px,#f92c2f 180px,#f92120 186px,#fb1613 192px,#fc0c09 198px,#f80503 204px,#ef0200 210px,#e50100 216px,#dc0100 222px,#d70000 228px,#d50000 234px,#d40000 240px,#d60000 246px,#d70000 252px)"></i><i style="background:linear-gradient(90deg,#0cc1ee 0px,#0bc0ef 6px,#09bef1 12px,#07bbf3 18px,#05b9f6 24px,#02b8f8 30px,#00b8fb 36px,#00bafe 42px,#00bbff 48px,#00bafd 54px,#00b8f8 60px,#0db7f3 66px,#35bbef 72px,#78c5ee 78px,#b0cbee 84px,#ccc8ee 90px,#e2c3ef 96px,#eac1e2 102px,#ebb2cb 108px,#eb9db3 114px,#ed8caa 120px,#f080a9 126px,#f1729c 132px,#f0658c 138px,#f2587f 144px,#f64c76 150px,#fb426d 156px,#fe3962 162px,#fd3352 168px,#fa2d41 174px,#f8262f 180px,#f81d1f 186px,#f91312 192px,#f90a09 198px,#f50302 204px,#ed0000 210px,#e40000 216px,#db0000 222px,#d60000 228px,#d40000 234px,#d30000 240px,#d40000 246px,#d50000 252px)"></i><i style="background:linear-gradient(90deg,#0bbdf1 0px,#0abbf2 6px,#09b9f4 12px,#07b6f5 18px,#04b4f7 24px,#01b2fa 30px,#00b3fc 36px,#00b4fe 42px,#00b5fe 48px,#00b4fc 54px,#00b2f7 60px,#07b0f1 66px,#2bb2ec 72px,#6abbeb 78px,#a0c0ea 84px,#bcbce8 90px,#d7b6e7 96px,#e5b3db 102px,#eaa5c5 108px,#ec90af 114px,#ee7fa5 120px,#f274a3 126px,#f36798 132px,#f35a89 138px,#f44e7d 144px,#f84274 150px,#fd386c 156px,#ff3061 162px,#fe2a52 168px,#fa2640 174px,#f7212e 180px,#f61a1e 186px,#f61012 192px,#f60808 198px,#f20102 204px,#eb0000 210px,#e20000 216px,#db0000 222px,#d50000 228px,#d30000 234px,#d20000 240px,#d20000 246px,#d30000 252px)"></i><i style="background:linear-gradient(90deg,#0abaf4 0px,#09b7f5 6px,#08b4f6 12px,#06b1f8 18px,#04aef9 24px,#01adfb 30px,#00adfc 36px,#00aefe 42px,#00affd 48px,#00aefb 54px,#00abf6 60px,#03a9f0 66px,#22aaea 72px,#5fb2e8 78px,#92b5e5 84px,#aeb0e1 90px,#cdabe0 96px,#e1a6d5 102px,#ea98c0 108px,#ed84ab 114px,#f173a1 120px,#f4679e 126px,#f65b94 132px,#f55086 138px,#f6447b 144px,#f93972 150px,#fe2e6b 156px,#ff2661 162px,#fe2351 168px,#f9203f 174px,#f51c2d 180px,#f3161d 186px,#f30e11 192px,#f30608 198px,#ef0001 204px,#e90000 210px,#e10000 216px,#da0000 222px,#d40000 228px,#d20000 234px,#d10000 240px,#d10000 246px,#d20000 252px)"></i><i style="background:linear-gradient(90deg,#0ab6f7 0px,#09b3f8 6px,#08b0f9 12px,#06acfa 18px,#03a9fb 24px,#00a7fc 30px,#00a7fd 36px,#00a8fd 42px,#00a9fc 48px,#00a8fa 54px,#00a5f5 60px,#00a2ee 66px,#1fa3e9 72px,#57a9e5 78px,#88abe1 84px,#a6a6dc 90px,#c6a1d9 96px,#de9ace 102px,#e98bbb 108px,#ef77a7 114px,#f3669c 120px,#f75a98 126px,#f8508f 132px,#f74583 138px,#f73b78 144px,#fa3070 150px,#fe2569 156px,#ff1e60 162px,#fd1b50 168px,#f71a3e 174px,#f2182c 180px,#f0121c 186px,#f00b10 192px,#ef0307 198px,#ec0001 204px,#e60000 210px,#df0000 216px,#d80000 222px,#d30000 228px,#d00000 234px,#cf0000 240px,#cf0000 246px,#d00000 252px)"></i><i style="background:linear-gradient(90deg,#09b2f9 0px,#09affa 6px,#07abfb 12px,#05a7fc 18px,#03a4fc 24px,#00a1fd 30px,#00a1fd 36px,#00a3fd 42px,#00a3fb 48px,#00a2f8 54px,#009ff3 60px,#009ced 66px,#1e9ce8 72px,#52a0e3 78px,#81a1de 84px,#a29dd9 90px,#c297d4 96px,#dc8ec9 102px,#e97fb6 108px,#f16ba4 114px,#f65a98 120px,#fa4e93 126px,#fb458b 132px,#f93c80 138px,#f83275 144px,#fa276d 150px,#fe1d67 156px,#ff165f 162px,#fc144f 168px,#f5153c 174px,#f0142a 180px,#ed0f1b 186px,#ed080f 192px,#ec0106 198px,#e90000 204px,#e40000 210px,#dd0000 216px,#d70000 222px,#d20000 228px,#cf0000 234px,#ce0000 240px,#ce0000 246px,#ce0000 252px)"></i><i style="background:linear-gradient(90deg,#09aefc 0px,#08aafc 6px,#07a7fd 12px,#05a2fd 18px,#039efd 24px,#009cfd 30px,#009cfd 36px,#009dfc 42px,#009efa 48px,#009cf7 54px,#0099f2 60px,#0196ed 66px,#1f95e7 72px,#5098e2 78px,#7e99dc 84px,#a095d6 90px,#c18ecf 96px,#da84c4 102px,#e973b2 108px,#f25fa1 114px,#f84d94 120px,#fd428e 126px,#fd3b87 132px,#fb337c 138px,#f82972 144px,#f91f6a 150px,#fd1565 156px,#ff0e5d 162px,#fa0e4d 168px,#f30f3a 174px,#ed1028 180px,#ea0c1a 186px,#e9050e 192px,#e80005 198px,#e60000 204px,#e10000 210px,#db0000 216px,#d50000 222px,#d10000 228px,#ce0000 234px,#cc0000 240px,#cc0000 246px,#cd0000 252px)"></i><i style="background:linear-gradient(90deg,#08aafe 0px,#08a6ff 6px,#07a2ff 12px,#059eff 18px,#0399ff 24px,#0096fe 30px,#0096fd 36px,#0098fc 42px,#0098f9 48px,#0097f5 54px,#0094f1 60px,#0390ec 66px,#218fe6 72px,#5091e1 78px,#7c91da 84px,#9f8dd3 90px,#c086cb 96px,#d97ac0 102px,#ea68af 108px,#f4549e 114px,#fb4291 120px,#ff378a 126px,#ff3183 132px,#fc2a78 138px,#f8226e 144px,#f81866 150px,#fb0f61 156px,#fd085a 162px,#f7084a 168px,#f00a38 174px,#e90b26 180px,#e70818 186px,#e6020d 192px,#e50005 198px,#e20000 204px,#de0000 210px,#d90000 216px,#d30000 222px,#cf0000 228px,#cc0000 234px,#cb0000 240px,#cb0000 246px,#cb0000 252px)"></i><i style="background:linear-gradient(90deg,#08a6ff 0px,#07a3ff 6px,#069eff 12px,#0599ff 18px,#0395ff 24px,#0091ff 30px,#0091fe 36px,#0093fb 42px,#0093f8 48px,#0092f4 54px,#008ef0 60px,#058aec 66px,#2489e6 72px,#518ae0 78px,#7c89d9 84px,#9f85d1 90px,#c07dc8 96px,#d970bc 102px,#ea5eac 108px,#f64a9b 114px,#fd388e 120px,#ff2e87 126px,#ff287f 132px,#fc2374 138px,#f61b69 144px,#f51261 150px,#f7095c 156px,#f90355 162px,#f40347 168px,#ed0535 174px,#e60724 180px,#e30417 186px,#e2000c 192px,#e10003 198px,#df0000 204px,#db0000 210px,#d60000 216px,#d10000 222px,#cd0000 228px,#cb0000 234px,#c90000 240px,#c90000 246px,#c90000 252px)"></i><i style="background:linear-gradient(90deg,#08a3ff 0px,#079fff 6px,#069aff 12px,#0595ff 18px,#0391ff 24px,#008dff 30px,#008dfe 36px,#008efb 42px,#008ff7 48px,#008df3 54px,#0089ef 60px,#0885eb 66px,#2683e7 72px,#5283e0 78px,#7d81d8 84px,#9f7cd0 90px,#bf74c6 96px,#d867b9 102px,#eb55a9 108px,#f74199 114px,#ff2f8b 120px,#ff2584 126px,#ff217c 132px,#fb1c70 138px,#f31564 144px,#f10d5c 150px,#f30457 156px,#f40050 162px,#f00042 168px,#e90132 174px,#e30222 180px,#e00015 186px,#df000a 192px,#de0002 198px,#db0000 204px,#d80000 210px,#d40000 216px,#cf0000 222px,#cc0000 228px,#c90000 234px,#c80000 240px,#c70000 246px,#c70000 252px)"></i><i style="background:linear-gradient(90deg,#079fff 0px,#079bff 6px,#0696ff 12px,#0592ff 18px,#038dff 24px,#0189ff 30px,#0089fe 36px,#008afb 42px,#008af6 48px,#0088f1 54px,#0084ee 60px,#0a7feb 66px,#287ce7 72px,#537ce0 78px,#7d7ad8 84px,#9f74cf 90px,#be6cc4 96px,#d85eb7 102px,#eb4ca7 108px,#f83897 114px,#ff288a 120px,#ff1e81 126px,#ff1a79 132px,#f8166b 138px,#ef105e 144px,#ec0856 150px,#ee0051 156px,#ee004a 162px,#eb003e 168px,#e5002f 174px,#df0020 180px,#dc0013 186px,#db0009 192px,#da0001 198px,#d80000 204px,#d50000 210px,#d10000 216px,#cd0000 222px,#ca0000 228px,#c70000 234px,#c60000 240px,#c50000 246px,#c60000 252px)"></i><i style="background:linear-gradient(90deg,#079cff 0px,#0697ff 6px,#0693ff 12px,#048eff 18px,#0389ff 24px,#0186ff 30px,#0085ff 36px,#0086fa 42px,#0086f5 48px,#0083f0 54px,#007fed 60px,#0c79ec 66px,#2875e8 72px,#5274e1 78px,#7c72d8 84px,#9d6cce 90px,#bc63c3 96px,#d655b5 102px,#eb43a5 108px,#f93195 114px,#ff2188 120px,#ff187f 126px,#ff1475 132px,#f51165 138px,#ea0b58 144px,#e70450 150px,#e8004b 156px,#e80044 162px,#e60039 168px,#e1002b 174px,#dc001d 180px,#d90011 186px,#d70008 192px,#d60000 198px,#d40000 204px,#d20000 210px,#ce0000 216px,#cb0000 222px,#c80000 228px,#c50000 234px,#c40000 240px,#c40000 246px,#c40000 252px)"></i><i style="background:linear-gradient(90deg,#0799ff 0px,#0694ff 6px,#068fff 12px,#058aff 18px,#0386ff 24px,#0283ff 30px,#0082ff 36px,#0082fa 42px,#0082f4 48px,#007fef 54px,#017aec 60px,#0d73ec 66px,#286fea 72px,#506de3 78px,#796ad9 84px,#9b64ce 90px,#ba5ac2 96px,#d54db4 102px,#ea3ca4 108px,#f92a94 114px,#ff1c86 120px,#ff137c 126px,#ff0f71 132px,#f00c5f 138px,#e30751 144px,#e00049 150px,#e10044 156px,#e2003e 162px,#e00034 168px,#dc0028 174px,#d8001b 180px,#d5000f 186px,#d40006 192px,#d30000 198px,#d10000 204px,#ce0000 210px,#cb0000 216px,#c80000 222px,#c60000 228px,#c30000 234px,#c20000 240px,#c20000 246px,#c20000 252px)"></i><i style="background:linear-gradient(90deg,#0695ff 0px,#0691ff 6px,#058cff 12px,#0587ff 18px,#0383ff 24px,#0280ff 30px,#007fff 36px,#007ffb 42px,#007ef3 48px,#007bed 54px,#0375ec 60px,#0e6ded 66px,#2768ec 72px,#4d65e4 78px,#7562da 84px,#975cce 90px,#b752c1 96px,#d345b2 102px,#e934a2 108px,#f82492 114px,#ff1784 120px,#ff0f79 126px,#fd0b6c 132px,#e80957 138px,#dc0449 144px,#d90042 150px,#db003e 156px,#dc0038 162px,#da002f 168px,#d70024 174px,#d40018 180px,#d1000d 186px,#d00004 192px,#cf0000 198px,#cd0000 204px,#cb0000 210px,#c80000 216px,#c60000 222px,#c30000 228px,#c10000 234px,#c00000 240px,#c00000 246px,#c00000 252px)"></i><i style="background:linear-gradient(90deg,#0692ff 0px,#068eff 6px,#0589ff 12px,#0584ff 18px,#0480ff 24px,#037dff 30px,#017cff 36px,#007bfb 42px,#007af3 48px,#0177ec 54px,#0570eb 60px,#0e67ed 66px,#2561ed 72px,#495de6 78px,#705adb 84px,#9354ce 90px,#b34bc1 96px,#d03db1 102px,#e72ea1 108px,#f61e91 114px,#fd1282 120px,#fe0b75 126px,#f50865 132px,#e0064f 138px,#d40142 144px,#d2003b 150px,#d40037 156px,#d50032 162px,#d5002a 168px,#d20020 174px,#d00015 180px,#ce000b 186px,#cc0003 192px,#cb0000 198px,#ca0000 204px,#c80000 210px,#c60000 216px,#c30000 222px,#c10000 228px,#bf0000 234px,#be0000 240px,#be0000 246px,#be0000 252px)"></i><i style="background:linear-gradient(90deg,#068fff 0px,#068bff 6px,#0586ff 12px,#0581ff 18px,#047dff 24px,#037aff 30px,#0279ff 36px,#0278fb 42px,#0277f2 48px,#0473ea 54px,#066bea 60px,#0e61ee 66px,#2259ef 72px,#4456e8 78px,#6b53dc 84px,#8e4dcf 90px,#af44c0 96px,#cc37b0 102px,#e428a0 108px,#f3198f 114px,#f90e7f 120px,#f80870 126px,#ec055e 132px,#d60347 138px,#cb003a 144px,#ca0034 150px,#cd0031 156px,#cf002c 162px,#cf0025 168px,#cd001c 174px,#cb0012 180px,#ca0009 186px,#c80001 192px,#c80000 198px,#c60000 204px,#c50000 210px,#c30000 216px,#c10000 222px,#bf0000 228px,#bd0000 234px,#bc0000 240px,#bc0000 246px,#bc0000 252px)"></i><i style="background:linear-gradient(90deg,#058cff 0px,#0588ff 6px,#0583ff 12px,#057eff 18px,#047aff 24px,#0478ff 30px,#0376ff 36px,#0375fc 42px,#0473f2 48px,#066fe9 54px,#0766e9 60px,#0d5bef 66px,#1f52f1 72px,#404fe9 78px,#654cdd 84px,#8946cf 90px,#aa3dc0 96px,#c830b0 102px,#e1229e 108px,#f0158d 114px,#f50b7c 120px,#f1056b 126px,#e20257 132px,#cc013f 138px,#c30033 144px,#c3002e 150px,#c6002b 156px,#c80026 162px,#c90020 168px,#c80018 174px,#c7000f 180px,#c60006 186px,#c50000 192px,#c40000 198px,#c30000 204px,#c10000 210px,#c00000 216px,#be0000 222px,#bc0000 228px,#bb0000 234px,#ba0000 240px,#ba0000 246px,#ba0000 252px)"></i><i style="background:linear-gradient(90deg,#0589ff 0px,#0585ff 6px,#0580ff 12px,#057cff 18px,#0578ff 24px,#0475ff 30px,#0473ff 36px,#0471fd 42px,#066ff2 48px,#086be8 54px,#0861e8 60px,#0c55ef 66px,#1c4bf3 72px,#3b48ea 78px,#6045dd 84px,#833fcf 90px,#a536bf 96px,#c32aaf 102px,#dd1d9d 108px,#ec108b 114px,#ef0779 120px,#e90266 126px,#d90050 132px,#c30039 138px,#bc002d 144px,#bc0028 150px,#bf0025 156px,#c20021 162px,#c3001b 168px,#c30014 174px,#c2000c 180px,#c10004 186px,#c10000 192px,#c00000 198px,#bf0000 204px,#be0000 210px,#bd0000 216px,#bb0000 222px,#ba0000 228px,#b90000 234px,#b80000 240px,#b80000 246px,#b80000 252px)"></i><i style="background:linear-gradient(90deg,#0587ff 0px,#0582ff 6px,#057eff 12px,#0579ff 18px,#0575ff 24px,#0572ff 30px,#0570ff 36px,#056efe 42px,#076bf2 48px,#0967e8 54px,#095ce8 60px,#0b4fef 66px,#1945f3 72px,#3742ea 78px,#5b3fdd 84px,#7e39ce 90px,#9f31bf 96px,#be25ae 102px,#d8189c 108px,#e60d89 114px,#e80476 120px,#e10061 126px,#d1004b 132px,#bd0034 138px,#b50028 144px,#b60023 150px,#b90020 156px,#bc001c 162px,#be0017 168px,#be0010 174px,#be0009 180px,#bd0002 186px,#bd0000 192px,#bc0000 198px,#bc0000 204px,#bb0000 210px,#ba0000 216px,#b80000 222px,#b70000 228px,#b60000 234px,#b60000 240px,#b60000 246px,#b60000 252px)"></i><i style="background:linear-gradient(90deg,#0584ff 0px,#057fff 6px,#057bff 12px,#0577ff 18px,#0573ff 24px,#0570ff 30px,#066dff 36px,#066afe 42px,#0767f3 48px,#0962e8 54px,#0957e8 60px,#0a49ef 66px,#173ff2 72px,#343ce9 78px,#5639dc 84px,#7834ce 90px,#9a2bbe 96px,#b820ac 102px,#d1149a 108px,#e00987 114px,#e10172 120px,#da005d 126px,#ca0046 132px,#b80031 138px,#b00025 144px,#b0001f 150px,#b3001b 156px,#b60018 162px,#b80013 168px,#b9000d 174px,#b90006 180px,#b90000 186px,#b90000 192px,#b90000 198px,#b80000 204px,#b80000 210px,#b70000 216px,#b60000 222px,#b50000 228px,#b40000 234px,#b30000 240px,#b30000 246px,#b40000 252px)"></i><i style="background:linear-gradient(90deg,#0481ff 0px,#057dff 6px,#0578ff 12px,#0574ff 18px,#0670ff 24px,#066dff 30px,#066aff 36px,#0767ff 42px,#0863f4 48px,#095cea 54px,#0851e9 60px,#0a43ee 66px,#163aef 72px,#3137e7 78px,#5234db 84px,#732fcd 90px,#9426bd 96px,#b21cab 102px,#ca1098 108px,#d80684 114px,#da006f 120px,#d2005a 126px,#c30043 132px,#b3002e 138px,#ab0022 144px,#ab001b 150px,#ae0017 156px,#b10014 162px,#b3000f 168px,#b4000a 174px,#b50003 180px,#b50000 186px,#b50000 192px,#b50000 198px,#b50000 204px,#b40000 210px,#b40000 216px,#b30000 222px,#b20000 228px,#b10000 234px,#b10000 240px,#b10000 246px,#b20000 252px)"></i><i style="background:linear-gradient(90deg,#047fff 0px,#057aff 6px,#0576ff 12px,#0572ff 18px,#066eff 24px,#066aff 30px,#0767ff 36px,#0764ff 42px,#085ff5 48px,#0957ec 54px,#084bea 60px,#093ded 66px,#1635ed 72px,#2f32e5 78px,#4e30d9 84px,#6e2acb 90px,#8e22bb 96px,#ab18a9 102px,#c30d96 108px,#d00382 114px,#d2006d 120px,#cb0057 126px,#bd0040 132px,#ae002c 138px,#a7001f 144px,#a60018 150px,#a80014 156px,#ab0010 162px,#ae000c 168px,#af0006 174px,#b00001 180px,#b10000 186px,#b10000 192px,#b10000 198px,#b10000 204px,#b10000 210px,#b10000 216px,#b00000 222px,#af0000 228px,#af0000 234px,#af0000 240px,#af0000 246px,#af0000 252px)"></i><i style="background:linear-gradient(90deg,#047cff 0px,#0578ff 6px,#0574ff 12px,#066fff 18px,#066bff 24px,#0768ff 30px,#0764ff 36px,#0860ff 42px,#095bf6 48px,#0852ee 54px,#0745eb 60px,#0938eb 66px,#1630ea 72px,#2e2ee2 78px,#4b2cd6 84px,#6926ca 90px,#881eba 96px,#a514a8 102px,#bb0a94 108px,#c80080 114px,#ca006a 120px,#c30054 126px,#b7003e 132px,#aa002a 138px,#a3001d 144px,#a20016 150px,#a40011 156px,#a6000d 162px,#a90008 168px,#ab0004 174px,#ac0000 180px,#ad0000 186px,#ad0000 192px,#ae0000 198px,#ae0000 204px,#ae0000 210px,#ad0000 216px,#ad0000 222px,#ad0000 228px,#ac0000 234px,#ac0000 240px,#ad0000 246px,#ad0000 252px)"></i><i style="background:linear-gradient(90deg,#047aff 0px,#0476ff 6px,#0571ff 12px,#066dff 18px,#0669ff 24px,#0765ff 30px,#0861ff 36px,#085dff 42px,#0957f8 48px,#084df0 54px,#0740ec 60px,#0933ea 66px,#162ce7 72px,#2d2adf 78px,#4828d3 84px,#6522c7 90px,#821ab8 96px,#9e11a6 102px,#b40792 108px,#c0007d 114px,#c20068 120px,#bc0051 126px,#b1003c 132px,#a60029 138px,#9f001c 144px,#9e0013 150px,#9f000e 156px,#a2000a 162px,#a40006 168px,#a60001 174px,#a80000 180px,#a90000 186px,#aa0000 192px,#aa0000 198px,#aa0000 204px,#ab0000 210px,#aa0000 216px,#aa0000 222px,#aa0000 228px,#aa0000 234px,#aa0000 240px,#aa0000 246px,#ab0000 252px)"></i><i style="background:linear-gradient(90deg,#0378ff 0px,#0473ff 6px,#056fff 12px,#066bff 18px,#0667ff 24px,#0763ff 30px,#085fff 36px,#095aff 42px,#0953f9 48px,#0949f1 54px,#073ced 60px,#092ee9 66px,#1629e5 72px,#2c27dc 78px,#4625d0 84px,#611fc5 90px,#7d17b6 96px,#980da4 102px,#ac0490 108px,#b8007b 114px,#bb0066 120px,#b50050 126px,#ac003a 132px,#a20028 138px,#9c001b 144px,#9a0012 150px,#9b000c 156px,#9d0007 162px,#a00003 168px,#a20000 174px,#a40000 180px,#a50000 186px,#a60000 192px,#a70000 198px,#a70000 204px,#a70000 210px,#a70000 216px,#a70000 222px,#a70000 228px,#a70000 234px,#a80000 240px,#a80000 246px,#a90000 252px)"></i><i style="background:linear-gradient(90deg,#0375ff 0px,#0471ff 6px,#056dff 12px,#0668ff 18px,#0764ff 24px,#0860ff 30px,#085cff 36px,#0957ff 42px,#0a4ffb 48px,#0945f3 54px,#0838ee 60px,#0a2be9 66px,#1725e3 72px,#2c24d9 78px,#4422ce 84px,#5e1cc2 90px,#7814b3 96px,#910ba2 102px,#a5018e 108px,#b00079 114px,#b30064 120px,#af004e 126px,#a60039 132px,#9e0027 138px,#98001a 144px,#960010 150px,#97000a 156px,#990005 162px,#9b0001 168px,#9e0000 174px,#9f0000 180px,#a10000 186px,#a20000 192px,#a30000 198px,#a40000 204px,#a40000 210px,#a40000 216px,#a50000 222px,#a50000 228px,#a50000 234px,#a50000 240px,#a60000 246px,#a70000 252px)"></i><i style="background:linear-gradient(90deg,#0373ff 0px,#046fff 6px,#056aff 12px,#0666ff 18px,#0762ff 24px,#085eff 30px,#0959ff 36px,#0a54ff 42px,#0a4cfd 48px,#0a42f5 54px,#0935ef 60px,#0c28e9 66px,#1823e1 72px,#2c22d7 78px,#431fcb 84px,#5b19c0 90px,#7411b1 96px,#8b08a0 102px,#9e008c 108px,#a90077 114px,#ac0062 120px,#a9004c 126px,#a10038 132px,#9a0026 138px,#940019 144px,#92000f 150px,#930008 156px,#950003 162px,#970000 168px,#9a0000 174px,#9b0000 180px,#9d0000 186px,#9e0000 192px,#a00000 198px,#a00000 204px,#a10000 210px,#a10000 216px,#a20000 222px,#a20000 228px,#a20000 234px,#a30000 240px,#a40000 246px,#a40000 252px)"></i><i style="background:linear-gradient(90deg,#0371ff 0px,#046cff 6px,#0568ff 12px,#0664ff 18px,#0760ff 24px,#085bff 30px,#0957ff 36px,#0a51ff 42px,#0b4afe 48px,#0b40f7 54px,#0b33f0 60px,#0e27e9 66px,#1921e0 72px,#2c20d5 78px,#421cc9 84px,#5816bd 90px,#700eaf 96px,#86059d 102px,#97008a 108px,#a10076 114px,#a50060 120px,#a2004b 126px,#9c0037 132px,#960026 138px,#910018 144px,#8f000e 150px,#8f0007 156px,#910002 162px,#930000 168px,#960000 174px,#980000 180px,#990000 186px,#9b0000 192px,#9c0000 198px,#9d0000 204px,#9e0000 210px,#9e0000 216px,#9f0000 222px,#9f0000 228px,#a00000 234px,#a00000 240px,#a10000 246px,#a20000 252px)"></i><i style="background:linear-gradient(90deg,#026eff 0px,#036aff 6px,#0566ff 12px,#0662ff 18px,#075dff 24px,#0859ff 30px,#0a54ff 36px,#0b4eff 42px,#0c47ff 48px,#0c3ef9 54px,#0d32f2 60px,#1127e9 66px,#1b20e0 72px,#2c1dd4 78px,#401ac8 84px,#5613bb 90px,#6c0bad 96px,#80039b 102px,#900088 108px,#9a0074 114px,#9e005f 120px,#9c004a 126px,#970037 132px,#920026 138px,#8d0018 144px,#8c000e 150px,#8c0006 156px,#8d0000 162px,#8f0000 168px,#920000 174px,#940000 180px,#960000 186px,#970000 192px,#990000 198px,#9a0000 204px,#9b0000 210px,#9b0000 216px,#9c0000 222px,#9d0000 228px,#9d0000 234px,#9e0000 240px,#9f0000 246px,#a00000 252px)"></i><i style="background:linear-gradient(90deg,#026cff 0px,#0368ff 6px,#0564ff 12px,#065fff 18px,#075bff 24px,#0957ff 30px,#0a52ff 36px,#0b4cff 42px,#0d45ff 48px,#0e3cfa 54px,#1031f3 60px,#1427ea 66px,#1d1fdf 72px,#2d1bd3 78px,#3f17c7 84px,#5411ba 90px,#6809ab 96px,#7b019a 102px,#8a0087 108px,#940072 114px,#98005e 120px,#970049 126px,#930036 132px,#8e0026 138px,#8a0018 144px,#88000d 150px,#880005 156px,#8a0000 162px,#8c0000 168px,#8e0000 174px,#900000 180px,#920000 186px,#940000 192px,#950000 198px,#970000 204px,#980000 210px,#980000 216px,#990000 222px,#9a0000 228px,#9b0000 234px,#9c0000 240px,#9d0000 246px,#9e0000 252px)"></i><i style="background:linear-gradient(90deg,#026aff 0px,#0366ff 6px,#0462ff 12px,#065dff 18px,#0759ff 24px,#0954ff 30px,#0a50ff 36px,#0c4aff 42px,#0e43ff 48px,#103bfc 54px,#1231f4 60px,#1627eb 66px,#1f1fdf 72px,#2d1ad2 78px,#3e15c5 84px,#510eb8 90px,#6407a9 96px,#760098 102px,#840085 108px,#8e0071 114px,#92005d 120px,#910049 126px,#8e0036 132px,#8a0025 138px,#870018 144px,#85000d 150px,#850005 156px,#860000 162px,#880000 168px,#8a0000 174px,#8d0000 180px,#8f0000 186px,#900000 192px,#920000 198px,#930000 204px,#950000 210px,#960000 216px,#960000 222px,#970000 228px,#980000 234px,#990000 240px,#9a0000 246px,#9b0000 252px)"></i><i style="background:linear-gradient(90deg,#0168ff 0px,#0364ff 6px,#045fff 12px,#065bff 18px,#0757ff 24px,#0952ff 30px,#0b4dff 36px,#0d48ff 42px,#0f41ff 48px,#1139fd 54px,#1531f5 60px,#1926eb 66px,#211edf 72px,#2d18d2 78px,#3e13c4 84px,#4f0cb7 90px,#6104a7 96px,#710096 102px,#7f0084 108px,#880070 114px,#8c005c 120px,#8c0048 126px,#890036 132px,#860026 138px,#830018 144px,#82000d 150px,#820005 156px,#830000 162px,#850000 168px,#870000 174px,#890000 180px,#8b0000 186px,#8d0000 192px,#8f0000 198px,#900000 204px,#920000 210px,#930000 216px,#940000 222px,#950000 228px,#960000 234px,#970000 240px,#980000 246px,#990000 252px)"></i><i style="background:linear-gradient(90deg,#0166ff 0px,#0261ff 6px,#045dff 12px,#0659ff 18px,#0755ff 24px,#0950ff 30px,#0b4bff 36px,#0d46ff 42px,#103fff 48px,#1338fe 54px,#1730f6 60px,#1b26ec 66px,#221ddf 72px,#2e17d1 78px,#3d11c4 84px,#4d0ab5 90px,#5e02a6 96px,#6d0095 102px,#790082 108px,#82006f 114px,#86005b 120px,#870048 126px,#850036 132px,#820026 138px,#800018 144px,#7f000d 150px,#7f0004 156px,#800000 162px,#820000 168px,#840000 174px,#860000 180px,#880000 186px,#8a0000 192px,#8c0000 198px,#8d0000 204px,#8f0000 210px,#900000 216px,#910000 222px,#920000 228px,#930000 234px,#940000 240px,#950000 246px,#970000 252px)"></i><i style="background:linear-gradient(90deg,#0163ff 0px,#025fff 6px,#045bff 12px,#0657ff 18px,#0752ff 24px,#094eff 30px,#0b49ff 36px,#0e43ff 42px,#103dff 48px,#1436fe 54px,#182ff6 60px,#1c25ec 66px,#231cdf 72px,#2e15d1 78px,#3c0fc3 84px,#4b08b4 90px,#5a00a4 96px,#690093 102px,#740081 108px,#7d006e 114px,#81005a 120px,#820048 126px,#810036 132px,#7e0026 138px,#7c0018 144px,#7b000d 150px,#7c0004 156px,#7d0000 162px,#7e0000 168px,#800000 174px,#830000 180px,#850000 186px,#870000 192px,#880000 198px,#8a0000 204px,#8c0000 210px,#8d0000 216px,#8e0000 222px,#8f0000 228px,#910000 234px,#920000 240px,#930000 246px,#940000 252px)"></i><i style="background:linear-gradient(90deg,#0061ff 0px,#025dff 6px,#0459ff 12px,#0555ff 18px,#0750ff 24px,#094cff 30px,#0c47ff 36px,#0e41ff 42px,#113bff 48px,#1535ff 54px,#192df6 60px,#1e24ec 66px,#241bde 72px,#2e14d1 78px,#3b0dc2 84px,#4906b3 90px,#5700a3 96px,#650092 102px,#700080 108px,#77006d 114px,#7c005a 120px,#7d0047 126px,#7c0036 132px,#7b0026 138px,#790019 144px,#78000d 150px,#780004 156px,#790000 162px,#7b0000 168px,#7d0000 174px,#7f0000 180px,#810000 186px,#830000 192px,#850000 198px,#870000 204px,#890000 210px,#8a0000 216px,#8b0000 222px,#8d0000 228px,#8e0000 234px,#8f0000 240px,#910000 246px,#920000 252px)"></i><i style="background:linear-gradient(90deg,#005fff 0px,#025bff 6px,#0357ff 12px,#0553ff 18px,#074eff 24px,#094aff 30px,#0c45ff 36px,#0e3fff 42px,#1239ff 48px,#1533ff 54px,#1a2bf6 60px,#1e23eb 66px,#251ade 72px,#2e12d0 78px,#3a0bc1 84px,#4704b2 90px,#5500a2 96px,#610091 102px,#6b007f 108px,#73006c 114px,#77005a 120px,#790047 126px,#780036 132px,#770027 138px,#760019 144px,#75000e 150px,#750005 156px,#760000 162px,#780000 168px,#7a0000 174px,#7c0000 180px,#7e0000 186px,#800000 192px,#820000 198px,#840000 204px,#860000 210px,#870000 216px,#890000 222px,#8a0000 228px,#8c0000 234px,#8d0000 240px,#8e0000 246px,#900000 252px)"></i><i style="background:linear-gradient(90deg,#005dff 0px,#0159ff 6px,#0355ff 12px,#0551ff 18px,#074cff 24px,#0948ff 30px,#0c43ff 36px,#0f3dff 42px,#1237ff 48px,#1631ff 54px,#1a2af6 60px,#1f21eb 66px,#2619de 72px,#2e11d0 78px,#3909c1 84px,#4502b1 90px,#5200a1 96px,#5d0090 102px,#67007e 108px,#6e006c 114px,#720059 120px,#740047 126px,#740036 132px,#730027 138px,#73001a 144px,#72000e 150px,#720005 156px,#740000 162px,#750000 168px,#770000 174px,#790000 180px,#7b0000 186px,#7d0000 192px,#7f0000 198px,#810000 204px,#830000 210px,#850000 216px,#860000 222px,#880000 228px,#890000 234px,#8b0000 240px,#8c0000 246px,#8e0000 252px)"></i></div>
<svg id="cie2" style="position:absolute;left:0;top:0" width="640" height="414" viewBox="0 0 640 414">
 <path d="M417.7,354.0 L417.6,354.0 L417.6,354.0 L417.5,354.0 L417.4,354.0 L417.4,354.0 L417.3,354.0 L417.3,354.1 L417.2,354.1 L417.2,354.1 L417.1,354.1 L417.1,354.1 L417.0,354.0 L416.9,354.0 L416.8,354.0 L416.7,353.9 L416.6,353.8 L416.5,353.8 L416.4,353.7 L416.3,353.7 L416.2,353.6 L416.2,353.5 L416.1,353.5 L416.0,353.4 L415.9,353.3 L415.8,353.3 L415.7,353.2 L415.6,353.1 L415.5,353.0 L415.4,352.9 L415.3,352.8 L415.1,352.7 L415.0,352.5 L414.9,352.4 L414.7,352.3 L414.6,352.1 L414.4,352.0 L414.3,351.8 L414.1,351.7 L413.9,351.5 L413.7,351.4 L413.5,351.2 L413.3,351.0 L413.1,350.8 L412.9,350.6 L412.6,350.4 L412.3,350.2 L412.1,350.0 L411.8,349.7 L411.5,349.5 L411.2,349.2 L410.9,348.9 L410.6,348.7 L410.3,348.4 L409.9,348.0 L409.6,347.7 L409.2,347.3 L408.8,347.0 L408.4,346.6 L408.0,346.1 L407.6,345.7 L407.1,345.2 L406.7,344.7 L406.2,344.2 L405.8,343.6 L405.2,343.0 L404.7,342.3 L404.1,341.4 L403.5,340.6 L402.9,339.6 L402.3,338.6 L401.6,337.5 L400.9,336.2 L400.1,334.9 L399.4,333.5 L398.6,332.0 L397.8,330.3 L396.9,328.5 L396.0,326.5 L395.1,324.3 L394.1,322.0 L393.1,319.6 L392.1,317.0 L391.0,314.1 L389.9,311.1 L388.7,307.8 L387.4,304.3 L386.2,300.7 L384.9,296.8 L383.6,292.6 L382.3,288.2 L381.0,283.5 L379.7,278.6 L378.3,273.4 L377.0,268.0 L375.7,262.4 L374.4,256.5 L373.2,250.4 L371.9,244.0 L370.6,237.4 L369.3,230.7 L368.2,223.8 L367.1,217.0 L366.0,210.1 L365.1,203.0 L364.1,195.9 L363.3,188.7 L362.5,181.7 L361.9,174.8 L361.4,168.0 L361.0,161.2 L360.7,154.6 L360.5,148.1 L360.4,141.7 L360.5,135.7 L360.7,129.8 L361.1,124.0 L361.5,118.5 L362.2,113.2 L362.9,108.2 L363.8,103.6 L364.9,99.3 L366.1,95.3 L367.5,91.7 L369.0,88.3 L370.6,85.4 L372.2,82.8 L374.0,80.7 L375.9,79.0 L377.9,77.7 L379.9,76.7 L382.0,76.0 L384.1,75.5 L386.3,75.3 L388.5,75.5 L390.7,75.9 L393.0,76.5 L395.3,77.3 L397.6,78.1 L399.8,78.9 L402.1,80.0 L404.4,81.1 L406.7,82.4 L408.9,83.6 L411.2,84.9 L413.4,86.2 L415.5,87.5 L417.7,88.8 L419.8,90.2 L421.9,91.6 L424.0,93.1 L426.1,94.5 L428.2,96.0 L430.2,97.5 L432.3,99.1 L434.3,100.6 L436.3,102.2 L438.4,103.8 L440.4,105.5 L442.4,107.2 L444.5,108.9 L446.5,110.6 L448.5,112.3 L450.5,114.1 L452.5,115.8 L454.5,117.6 L456.5,119.4 L458.5,121.2 L460.5,123.1 L462.5,124.9 L464.5,126.7 L466.5,128.6 L468.5,130.5 L470.5,132.4 L472.5,134.3 L474.5,136.2 L476.5,138.1 L478.6,140.0 L480.6,142.0 L482.6,143.9 L484.6,145.8 L486.6,147.8 L488.6,149.7 L490.6,151.7 L492.5,153.6 L494.5,155.6 L496.5,157.6 L498.5,159.5 L500.5,161.5 L502.5,163.4 L504.5,165.4 L506.5,167.3 L508.4,169.3 L510.4,171.2 L512.3,173.2 L514.3,175.1 L516.2,177.0 L518.2,179.0 L520.1,180.9 L522.0,182.8 L523.9,184.7 L525.8,186.6 L527.7,188.5 L529.6,190.3 L531.4,192.2 L533.3,194.0 L535.1,195.8 L536.9,197.6 L538.7,199.4 L540.5,201.2 L542.3,203.0 L544.0,204.7 L545.8,206.4 L547.5,208.2 L549.2,209.8 L550.8,211.5 L552.5,213.1 L554.1,214.7 L555.7,216.3 L557.3,217.9 L558.8,219.5 L560.3,221.0 L561.8,222.4 L563.2,223.9 L564.6,225.3 L566.0,226.6 L567.3,227.9 L568.6,229.2 L569.9,230.5 L571.2,231.8 L572.4,233.0 L573.6,234.2 L574.8,235.4 L575.9,236.5 L577.0,237.6 L578.1,238.7 L579.1,239.7 L580.1,240.7 L581.1,241.6 L582.0,242.5 L582.9,243.4 L583.8,244.3 L584.7,245.2 L585.5,246.0 L586.3,246.8 L587.0,247.5 L587.7,248.2 L588.4,248.9 L589.1,249.6 L589.8,250.3 L590.4,250.9 L591.0,251.5 L591.6,252.1 L592.1,252.6 L592.7,253.2 L593.2,253.7 L593.7,254.2 L594.2,254.6 L594.6,255.1 L595.1,255.5 L595.5,256.0 L595.9,256.4 L596.3,256.8 L596.7,257.2 L597.1,257.5 L597.5,257.9 L597.8,258.3 L598.2,258.6 L598.5,259.0 L598.8,259.3 L599.1,259.6 L599.4,259.9 L599.7,260.2 L600.0,260.5 L600.3,260.8 L600.6,261.0 L600.8,261.3 L601.1,261.5 L601.3,261.8 L601.5,262.0 L601.8,262.2 L602.0,262.4 L602.2,262.6 L602.4,262.8 L602.5,263.0 L602.7,263.1 L602.9,263.3 L603.0,263.4 L603.2,263.6 L603.3,263.7 L603.5,263.9 L603.6,264.0 L603.7,264.1 L603.8,264.3 L603.9,264.4 L604.1,264.5 L604.2,264.6 L604.3,264.7 L604.3,264.8 L604.4,264.9 L604.5,264.9 L604.6,265.0 L604.7,265.1 L604.7,265.1 L604.8,265.2 L604.8,265.3 L604.9,265.3 L604.9,265.4 L605.0,265.4 L605.0,265.5 L605.1,265.5 L605.1,265.6 L605.2,265.6 L605.3,265.7 L605.3,265.8 L605.4,265.8 L605.5,265.9 L605.6,266.0 L605.7,266.1 L605.7,266.2 L605.8,266.2 L605.9,266.3 L606.0,266.4 L606.0,266.5 L606.1,266.5 Z" fill="none" stroke="#6a4878" stroke-width="0.8" opacity="0.75"/>
 <defs><clipPath id="locc"><path d="M417.7,354.0 L417.6,354.0 L417.6,354.0 L417.5,354.0 L417.4,354.0 L417.4,354.0 L417.3,354.0 L417.3,354.1 L417.2,354.1 L417.2,354.1 L417.1,354.1 L417.1,354.1 L417.0,354.0 L416.9,354.0 L416.8,354.0 L416.7,353.9 L416.6,353.8 L416.5,353.8 L416.4,353.7 L416.3,353.7 L416.2,353.6 L416.2,353.5 L416.1,353.5 L416.0,353.4 L415.9,353.3 L415.8,353.3 L415.7,353.2 L415.6,353.1 L415.5,353.0 L415.4,352.9 L415.3,352.8 L415.1,352.7 L415.0,352.5 L414.9,352.4 L414.7,352.3 L414.6,352.1 L414.4,352.0 L414.3,351.8 L414.1,351.7 L413.9,351.5 L413.7,351.4 L413.5,351.2 L413.3,351.0 L413.1,350.8 L412.9,350.6 L412.6,350.4 L412.3,350.2 L412.1,350.0 L411.8,349.7 L411.5,349.5 L411.2,349.2 L410.9,348.9 L410.6,348.7 L410.3,348.4 L409.9,348.0 L409.6,347.7 L409.2,347.3 L408.8,347.0 L408.4,346.6 L408.0,346.1 L407.6,345.7 L407.1,345.2 L406.7,344.7 L406.2,344.2 L405.8,343.6 L405.2,343.0 L404.7,342.3 L404.1,341.4 L403.5,340.6 L402.9,339.6 L402.3,338.6 L401.6,337.5 L400.9,336.2 L400.1,334.9 L399.4,333.5 L398.6,332.0 L397.8,330.3 L396.9,328.5 L396.0,326.5 L395.1,324.3 L394.1,322.0 L393.1,319.6 L392.1,317.0 L391.0,314.1 L389.9,311.1 L388.7,307.8 L387.4,304.3 L386.2,300.7 L384.9,296.8 L383.6,292.6 L382.3,288.2 L381.0,283.5 L379.7,278.6 L378.3,273.4 L377.0,268.0 L375.7,262.4 L374.4,256.5 L373.2,250.4 L371.9,244.0 L370.6,237.4 L369.3,230.7 L368.2,223.8 L367.1,217.0 L366.0,210.1 L365.1,203.0 L364.1,195.9 L363.3,188.7 L362.5,181.7 L361.9,174.8 L361.4,168.0 L361.0,161.2 L360.7,154.6 L360.5,148.1 L360.4,141.7 L360.5,135.7 L360.7,129.8 L361.1,124.0 L361.5,118.5 L362.2,113.2 L362.9,108.2 L363.8,103.6 L364.9,99.3 L366.1,95.3 L367.5,91.7 L369.0,88.3 L370.6,85.4 L372.2,82.8 L374.0,80.7 L375.9,79.0 L377.9,77.7 L379.9,76.7 L382.0,76.0 L384.1,75.5 L386.3,75.3 L388.5,75.5 L390.7,75.9 L393.0,76.5 L395.3,77.3 L397.6,78.1 L399.8,78.9 L402.1,80.0 L404.4,81.1 L406.7,82.4 L408.9,83.6 L411.2,84.9 L413.4,86.2 L415.5,87.5 L417.7,88.8 L419.8,90.2 L421.9,91.6 L424.0,93.1 L426.1,94.5 L428.2,96.0 L430.2,97.5 L432.3,99.1 L434.3,100.6 L436.3,102.2 L438.4,103.8 L440.4,105.5 L442.4,107.2 L444.5,108.9 L446.5,110.6 L448.5,112.3 L450.5,114.1 L452.5,115.8 L454.5,117.6 L456.5,119.4 L458.5,121.2 L460.5,123.1 L462.5,124.9 L464.5,126.7 L466.5,128.6 L468.5,130.5 L470.5,132.4 L472.5,134.3 L474.5,136.2 L476.5,138.1 L478.6,140.0 L480.6,142.0 L482.6,143.9 L484.6,145.8 L486.6,147.8 L488.6,149.7 L490.6,151.7 L492.5,153.6 L494.5,155.6 L496.5,157.6 L498.5,159.5 L500.5,161.5 L502.5,163.4 L504.5,165.4 L506.5,167.3 L508.4,169.3 L510.4,171.2 L512.3,173.2 L514.3,175.1 L516.2,177.0 L518.2,179.0 L520.1,180.9 L522.0,182.8 L523.9,184.7 L525.8,186.6 L527.7,188.5 L529.6,190.3 L531.4,192.2 L533.3,194.0 L535.1,195.8 L536.9,197.6 L538.7,199.4 L540.5,201.2 L542.3,203.0 L544.0,204.7 L545.8,206.4 L547.5,208.2 L549.2,209.8 L550.8,211.5 L552.5,213.1 L554.1,214.7 L555.7,216.3 L557.3,217.9 L558.8,219.5 L560.3,221.0 L561.8,222.4 L563.2,223.9 L564.6,225.3 L566.0,226.6 L567.3,227.9 L568.6,229.2 L569.9,230.5 L571.2,231.8 L572.4,233.0 L573.6,234.2 L574.8,235.4 L575.9,236.5 L577.0,237.6 L578.1,238.7 L579.1,239.7 L580.1,240.7 L581.1,241.6 L582.0,242.5 L582.9,243.4 L583.8,244.3 L584.7,245.2 L585.5,246.0 L586.3,246.8 L587.0,247.5 L587.7,248.2 L588.4,248.9 L589.1,249.6 L589.8,250.3 L590.4,250.9 L591.0,251.5 L591.6,252.1 L592.1,252.6 L592.7,253.2 L593.2,253.7 L593.7,254.2 L594.2,254.6 L594.6,255.1 L595.1,255.5 L595.5,256.0 L595.9,256.4 L596.3,256.8 L596.7,257.2 L597.1,257.5 L597.5,257.9 L597.8,258.3 L598.2,258.6 L598.5,259.0 L598.8,259.3 L599.1,259.6 L599.4,259.9 L599.7,260.2 L600.0,260.5 L600.3,260.8 L600.6,261.0 L600.8,261.3 L601.1,261.5 L601.3,261.8 L601.5,262.0 L601.8,262.2 L602.0,262.4 L602.2,262.6 L602.4,262.8 L602.5,263.0 L602.7,263.1 L602.9,263.3 L603.0,263.4 L603.2,263.6 L603.3,263.7 L603.5,263.9 L603.6,264.0 L603.7,264.1 L603.8,264.3 L603.9,264.4 L604.1,264.5 L604.2,264.6 L604.3,264.7 L604.3,264.8 L604.4,264.9 L604.5,264.9 L604.6,265.0 L604.7,265.1 L604.7,265.1 L604.8,265.2 L604.8,265.3 L604.9,265.3 L604.9,265.4 L605.0,265.4 L605.0,265.5 L605.1,265.5 L605.1,265.6 L605.2,265.6 L605.3,265.7 L605.3,265.8 L605.4,265.8 L605.5,265.9 L605.6,266.0 L605.7,266.1 L605.7,266.2 L605.8,266.2 L605.9,266.3 L606.0,266.4 L606.0,266.5 L606.1,266.5 Z"/></clipPath></defs>
 <g clip-path="url(#locc)">
  <polygon points="431.8,118.9 584.6,245.0 712.0,90.8 559.2,-35.3" fill="#fff" fill-opacity="0.12"/>
  <polygon points="408.6,328.0 431.8,118.9 172.8,-551.8 10.1,912.4" fill="#000" fill-opacity="0.14"/>
  <polygon points="584.6,245.0 408.6,328.0 10.1,912.4 1242.2,331.4" fill="#000" fill-opacity="0.14"/>
 </g>
 <polygon points="584.6,245.0 431.8,118.9 408.6,328.0" fill="none" stroke="#999" stroke-width="0.8" stroke-dasharray="3,2"/>
 <line x1="375.5" y1="95" x2="403" y2="330" stroke="#fff" stroke-opacity="0.22" stroke-width="1" stroke-dasharray="3,3"/>
 <polygon points="400.3,104.2 591.5,252.9 408.5,343.5" fill="none" stroke="#23237a" stroke-width="1.2"/>
 <rect x="345.2" y="56.2" width="282.8" height="315.3" fill="none" stroke="#333" stroke-width="1.4"/>
 <g font-family="Liberation Serif,serif" font-weight="bold" font-size="14.6" text-anchor="middle"><text x="364.1" y="387.0">0.0</text><text x="395.0" y="387.0">0.1</text><text x="429.9" y="387.0">0.2</text><text x="462.5" y="387.0">0.3</text><text x="496.4" y="387.0">0.4</text><text x="529.1" y="387.0">0.5</text><text x="562.8" y="387.0">0.6</text><text x="596.0" y="387.0">0.7</text><text x="628.0" y="387.0">0.8</text></g>
 <g font-family="Liberation Serif,serif" font-weight="bold" font-size="15.4" text-anchor="end"><text x="342.6" y="358.5">0.0</text><text x="342.6" y="325.3">0.1</text><text x="342.6" y="292.1">0.2</text><text x="342.6" y="258.9">0.3</text><text x="342.6" y="225.7">0.4</text><text x="342.6" y="192.5">0.5</text><text x="342.6" y="159.3">0.6</text><text x="342.6" y="126.1">0.7</text><text x="342.6" y="92.9">0.8</text></g>
 <!-- markers -->
 <g stroke-width="1.7" fill="#cccccc" fill-opacity="0.45">
  <circle cx="389.9" cy="113.1" r="4.8" stroke="#111"/>
  <circle cx="384.8" cy="223.2" r="4.9" stroke="#111"/>
  <circle cx="504.1" cy="172.1" r="4.6" stroke="#111"/>
  <circle cx="566.4" cy="233.6" r="4.5" stroke="#3a0a0a"/>
  <circle cx="586.3" cy="246.7" r="4.5" stroke="#0a3a0a"/>
  <circle cx="599.9" cy="260.4" r="4.6" stroke="#0a3a0a"/>
  <circle cx="405.2" cy="328.8" r="4.4" stroke="#101030"/>
  <circle cx="408" cy="343" r="4.4" stroke="#0a3a0a"/>
  <circle cx="418.8" cy="342.4" r="4.4" stroke="#111"/>
 </g>
 <circle cx="469.8" cy="264.2" r="3.1" stroke="#e00000" stroke-width="1.6" fill="none"/>
 <g stroke="#111" stroke-width="0.9">
  <line x1="569.3" y1="229.3" x2="574.7" y2="224.5"/>
  <line x1="594" y1="251" x2="601" y2="248"/>
 </g>
 <text x="415.6" y="108.6" font-size="15.5" fill="#4a2a6a" text-anchor="middle" font-family="DejaVu Sans,sans-serif">★</text>
 <text x="591.5" y="258.8" font-size="15.5" fill="#000" text-anchor="middle" font-family="DejaVu Sans,sans-serif">★</text>
 <!-- arrows -->
 <g stroke="#000" stroke-width="1.8" fill="none" stroke-linecap="round">
  <line x1="425.2" y1="101.0" x2="486.2" y2="93.7"/>
  <polyline points="479.6,90.6 487.2,93.5 480.3,98.4"/>
  <line x1="476.1" y1="253.5" x2="556.8" y2="173.5"/>
  <polyline points="548.4,175.2 557.4,172.9 555.1,181.8"/>
 </g>
 <g font-family="Liberation Serif,serif" font-weight="bold" font-size="18.2" text-anchor="middle" stroke="#000" stroke-width="0.3">
  <text x="384.75" y="100">5</text>
  <text x="371.4" y="230.6">4</text>
  <text x="516.2" y="169.3">6</text>
  <text x="578.5" y="227.9">7</text>
  <text x="595.9" y="242.3">8</text>
  <text x="613.4" y="265.6">9</text>
  <text x="390.1" y="333.9">3</text>
  <text x="407.7" y="361.7">2</text>
  <text x="430.5" y="351.5">1</text>
 </g>
 <g font-family="Liberation Serif,serif" font-weight="bold" font-size="14">
  <text x="478.4" y="268.6" font-size="14.8">Device</text>
  <text x="600.8" y="251.3" font-size="15" textLength="26.3" lengthAdjust="spacingAndGlyphs">KSF</text>
 </g>
 <g font-family="Liberation Serif,Noto Sans CJK SC,sans-serif" font-size="14.4">
  <text x="507.8" y="136.4">电致发光</text>
  <text x="567.6" y="206">光致发光</text>
 </g>
 <g font-family="Liberation Serif,serif" font-weight="bold" font-size="17">
  <text x="358.8" y="403.2" font-size="17.6">CIE - diagram</text>
  <text x="504.2" y="403.2" font-size="17.6">x</text>
  <text x="307.8" y="207.3" font-size="18.6">y</text>
 </g>
</svg>
<svg id="ins" width="640" height="414" viewBox="0 0 640 414" style="position:absolute;left:0;top:0">
 <defs>
  <linearGradient id="pill" x1="0" y1="0" x2="0" y2="1"><stop offset="0" stop-color="#7a7a66"/><stop offset="0.4" stop-color="#5e5f50"/><stop offset="0.85" stop-color="#393a30"/><stop offset="1" stop-color="#33342c"/></linearGradient>
  <linearGradient id="elbot" x1="0" y1="0" x2="0" y2="1"><stop offset="0" stop-color="#6a6a5a"/><stop offset="0.4" stop-color="#9a9882"/><stop offset="1" stop-color="#8a8672"/></linearGradient>
  <linearGradient id="eltop" x1="0" y1="0" x2="1" y2="0"><stop offset="0" stop-color="#736a50"/><stop offset="0.15" stop-color="#4e4a3c"/><stop offset="0.3" stop-color="#1e201c"/><stop offset="0.55" stop-color="#24261f"/><stop offset="0.68" stop-color="#5e5c50"/><stop offset="0.82" stop-color="#46463c"/><stop offset="1" stop-color="#2e2e28"/></linearGradient>
  <radialGradient id="glow" cx="0.5" cy="0.5" r="0.5"><stop offset="0" stop-color="#fff"/><stop offset="0.55" stop-color="#fff"/><stop offset="0.8" stop-color="#e8e8f4" stop-opacity="0.8"/><stop offset="1" stop-color="#c8c8dc" stop-opacity="0"/></radialGradient>
  <clipPath id="c1"><rect x="495.1" y="56.3" width="80.9" height="59.3"/></clipPath>
  <clipPath id="c2"><rect x="561.9" y="141.7" width="65.9" height="47.5"/></clipPath>
 </defs>
 <g clip-path="url(#c1)">
  <rect x="495.1" y="56.3" width="80.9" height="59.3" fill="#2e302a"/>
  <rect x="495.1" y="56.3" width="80.9" height="17" fill="url(#eltop)"/>
  <rect x="503" y="102.5" width="68" height="12.5" fill="#727552"/>
  <path d="M514,115 L518,105 L526,104 L533,112 L533,115 Z" fill="#a04a44" opacity="0.5"/>
  <g fill="url(#pill)">
   <rect x="504.5" y="72.5" width="11" height="30" rx="5.5" ry="5.5"/>
   <rect x="518" y="72.5" width="11" height="30" rx="5.5" ry="5.5"/>
   <rect x="544" y="72.5" width="11.2" height="30" rx="5.5" ry="5.5"/>
   <rect x="558" y="71.5" width="10.6" height="31" rx="5.3" ry="5.5"/>
  </g>
  <g stroke="#2a2b24" stroke-width="1.4">
   <line x1="503.6" y1="78" x2="503.6" y2="116"/><line x1="516.8" y1="78" x2="516.8" y2="116"/>
   <line x1="530" y1="78" x2="530" y2="116"/><line x1="543" y1="78" x2="543" y2="116"/>
   <line x1="556.6" y1="78" x2="556.6" y2="116"/><line x1="569.5" y1="78" x2="569.5" y2="116"/>
  </g>
  <path d="M532.5,78 Q532.8,72 537,72 Q541.5,72 541.6,78 L540.8,100 L531.2,100 Z" fill="#2ee8e2"/>
  <rect x="527" y="65.2" width="14" height="2.6" fill="#2ff0dc"/>
  <rect x="570" y="68" width="6" height="48" fill="#3c3c34"/>
  <rect x="495.1" y="114.6" width="80.9" height="1.2" fill="#2c2c26"/>
  <path d="M504.5,99 L505.3,73 L510,66.3 L576,66.3" fill="none" stroke="#3f8a60" stroke-width="0.8"/>
 </g>
 <g clip-path="url(#c2)">
  <rect x="561.9" y="141.7" width="65.9" height="47.5" fill="#5a5a6a"/>
  <rect x="561.9" y="141.7" width="14.5" height="47.5" fill="#5f5f69"/>
  <rect x="616.8" y="141.7" width="11" height="47.5" fill="#6e6e78"/>
  <rect x="576.4" y="141.7" width="40.4" height="5.5" fill="#a0a0aa"/>
  <rect x="576.4" y="147.2" width="40.4" height="1.5" fill="#32324e"/>
  <rect x="576.4" y="148.7" width="15" height="40.5" fill="#46467a"/>
  <rect x="604.7" y="148.7" width="12.1" height="40.5" fill="#46467a"/>
  <rect x="576.4" y="148.7" width="15" height="6" fill="#9898aa"/>
  <rect x="604.7" y="148.7" width="12.1" height="6" fill="#9898aa"/>
  <rect x="577" y="177.5" width="13" height="11.7" fill="#a8a8ba" opacity="0.85"/>
  <rect x="606" y="177.5" width="10" height="11.7" fill="#a8a8ba" opacity="0.85"/>
  <rect x="591.3" y="141.7" width="13.4" height="47.5" fill="#a6a6b2"/>
  <rect x="591.3" y="141.7" width="13.4" height="15" fill="#84848f"/>
  <circle cx="568.3" cy="162.5" r="5" fill="#676774"/>
  <path d="M565.6,159.8 L571,165.2 M571,159.8 L565.6,165.2" stroke="#2c2c44" stroke-width="1.8"/>
  <circle cx="624.2" cy="162.5" r="5.4" fill="#dcdce2"/>
  <path d="M621.4,159.7 L627,165.3 M627,159.7 L621.4,165.3" stroke="#34344a" stroke-width="1.8"/>
  <ellipse cx="596.4" cy="163.3" rx="17" ry="10.5" fill="url(#glow)"/>
  <rect x="585.9" y="157.3" width="21" height="12" rx="5.5" fill="#fff"/>
  <rect x="585" y="168.6" width="2.6" height="2.6" fill="#c8a040"/><rect x="606" y="168.6" width="2.6" height="2.6" fill="#c8a040"/>
 </g>
</svg>
<div style="position:absolute;left:0;top:412px;width:640px;height:1px;background:#e2e2e2"></div><div style="position:absolute;left:0;top:413px;width:640px;height:1px;background:#8a8a8a"></div>
</body></html>
